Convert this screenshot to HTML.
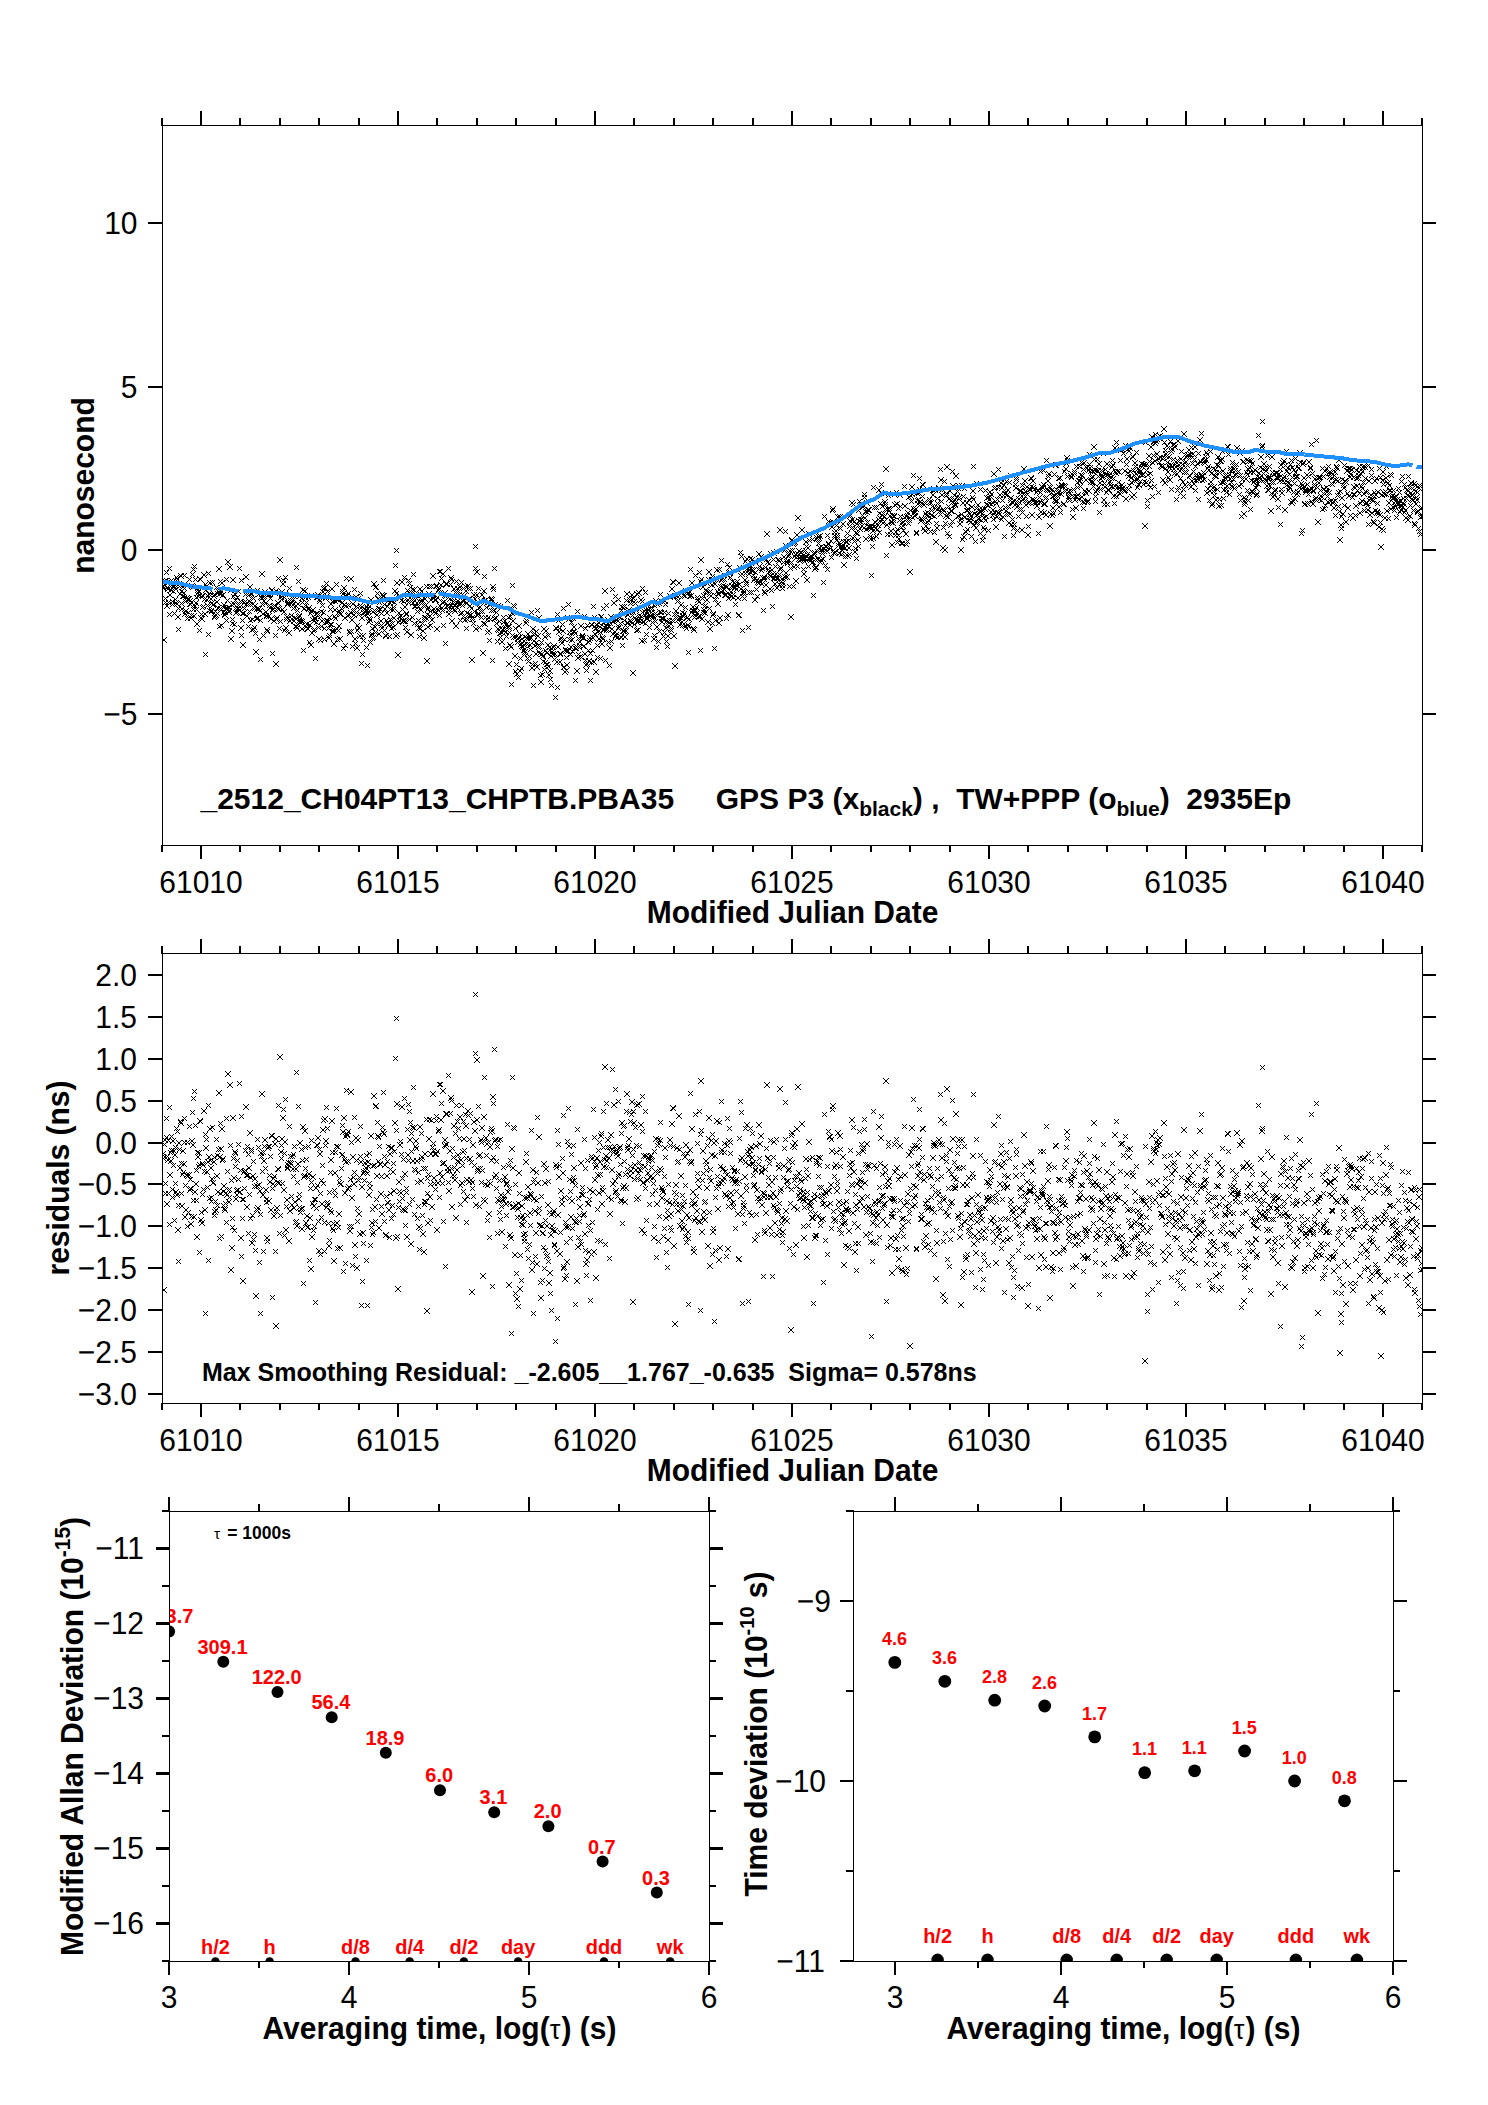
<!DOCTYPE html>
<html lang="en"><head><meta charset="utf-8"><title>GPS P3 vs TW+PPP link comparison</title>
<style>html,body{margin:0;padding:0;background:#fff}svg{display:block}text{font-family:"Liberation Sans", sans-serif}</style>
</head><body>
<svg width="1488" height="2105" viewBox="0 0 1488 2105">
<rect width="1488" height="2105" fill="#fff"/>
<defs>
<clipPath id="c1"><rect x="163" y="126" width="1259" height="719"/></clipPath>
<clipPath id="c2"><rect x="163" y="954" width="1259" height="449"/></clipPath>
<clipPath id="c3"><rect x="170" y="1512" width="539" height="449"/></clipPath>
<clipPath id="c4"><rect x="854" y="1512" width="539" height="449"/></clipPath>
</defs>
<rect x="162.5" y="125.5" width="1260.0" height="720.0" fill="none" stroke="#000" stroke-width="1" shape-rendering="crispEdges"/>
<path d="M162 126L162 118M162 845L162 852M201 126L201 111M201 845L201 859M240 126L240 118M240 845L240 852M280 126L280 118M280 845L280 852M319 126L319 118M319 845L319 852M359 126L359 118M359 845L359 852M398 126L398 111M398 845L398 859M437 126L437 118M437 845L437 852M477 126L477 118M477 845L477 852M516 126L516 118M516 845L516 852M556 126L556 118M556 845L556 852M595 126L595 111M595 845L595 859M634 126L634 118M634 845L634 852M674 126L674 118M674 845L674 852M713 126L713 118M713 845L713 852M753 126L753 118M753 845L753 852M792 126L792 111M792 845L792 859M831 126L831 118M831 845L831 852M871 126L871 118M871 845L871 852M910 126L910 118M910 845L910 852M950 126L950 118M950 845L950 852M989 126L989 111M989 845L989 859M1028 126L1028 118M1028 845L1028 852M1068 126L1068 118M1068 845L1068 852M1107 126L1107 118M1107 845L1107 852M1147 126L1147 118M1147 845L1147 852M1186 126L1186 111M1186 845L1186 859M1225 126L1225 118M1225 845L1225 852M1265 126L1265 118M1265 845L1265 852M1304 126L1304 118M1304 845L1304 852M1344 126L1344 118M1344 845L1344 852M1383 126L1383 111M1383 845L1383 859M1422 126L1422 118M1422 845L1422 852" stroke="#000" stroke-width="2" fill="none" shape-rendering="crispEdges"/>
<text transform="translate(201 892.5) scale(1 1.055)" font-size="30" text-anchor="middle" fill="#000">61010</text>
<text transform="translate(398 892.5) scale(1 1.055)" font-size="30" text-anchor="middle" fill="#000">61015</text>
<text transform="translate(595 892.5) scale(1 1.055)" font-size="30" text-anchor="middle" fill="#000">61020</text>
<text transform="translate(792 892.5) scale(1 1.055)" font-size="30" text-anchor="middle" fill="#000">61025</text>
<text transform="translate(989 892.5) scale(1 1.055)" font-size="30" text-anchor="middle" fill="#000">61030</text>
<text transform="translate(1186 892.5) scale(1 1.055)" font-size="30" text-anchor="middle" fill="#000">61035</text>
<text transform="translate(1383 892.5) scale(1 1.055)" font-size="30" text-anchor="middle" fill="#000">61040</text>
<text transform="translate(792.5 922.7) scale(1 1.055)" font-size="30" font-weight="bold" text-anchor="middle" fill="#000">Modified Julian Date</text>
<text transform="translate(137.5 234) scale(1 1.055)" font-size="30" text-anchor="end" fill="#000">10</text>
<text transform="translate(137.5 398) scale(1 1.055)" font-size="30" text-anchor="end" fill="#000">5</text>
<text transform="translate(137.5 561) scale(1 1.055)" font-size="30" text-anchor="end" fill="#000">0</text>
<text transform="translate(137.5 725) scale(1 1.055)" font-size="30" text-anchor="end" fill="#000">−5</text>
<path d="M163 223L148 223M1422 223L1436 223M163 387L148 387M1422 387L1436 387M163 550L148 550M1422 550L1436 550M163 714L148 714M1422 714L1436 714" stroke="#000" stroke-width="2" fill="none" shape-rendering="crispEdges"/>
<text transform="translate(93.5 485.5) rotate(-90) scale(1 1.055)" font-size="30" font-weight="bold" text-anchor="middle">nanosecond</text>
<rect x="162.5" y="953.5" width="1260.0" height="450.0" fill="none" stroke="#000" stroke-width="1" shape-rendering="crispEdges"/>
<path d="M162 954L162 946M162 1403L162 1410M201 954L201 939M201 1403L201 1417M240 954L240 946M240 1403L240 1410M280 954L280 946M280 1403L280 1410M319 954L319 946M319 1403L319 1410M359 954L359 946M359 1403L359 1410M398 954L398 939M398 1403L398 1417M437 954L437 946M437 1403L437 1410M477 954L477 946M477 1403L477 1410M516 954L516 946M516 1403L516 1410M556 954L556 946M556 1403L556 1410M595 954L595 939M595 1403L595 1417M634 954L634 946M634 1403L634 1410M674 954L674 946M674 1403L674 1410M713 954L713 946M713 1403L713 1410M753 954L753 946M753 1403L753 1410M792 954L792 939M792 1403L792 1417M831 954L831 946M831 1403L831 1410M871 954L871 946M871 1403L871 1410M910 954L910 946M910 1403L910 1410M950 954L950 946M950 1403L950 1410M989 954L989 939M989 1403L989 1417M1028 954L1028 946M1028 1403L1028 1410M1068 954L1068 946M1068 1403L1068 1410M1107 954L1107 946M1107 1403L1107 1410M1147 954L1147 946M1147 1403L1147 1410M1186 954L1186 939M1186 1403L1186 1417M1225 954L1225 946M1225 1403L1225 1410M1265 954L1265 946M1265 1403L1265 1410M1304 954L1304 946M1304 1403L1304 1410M1344 954L1344 946M1344 1403L1344 1410M1383 954L1383 939M1383 1403L1383 1417M1422 954L1422 946M1422 1403L1422 1410" stroke="#000" stroke-width="2" fill="none" shape-rendering="crispEdges"/>
<text transform="translate(201 1450.5) scale(1 1.055)" font-size="30" text-anchor="middle" fill="#000">61010</text>
<text transform="translate(398 1450.5) scale(1 1.055)" font-size="30" text-anchor="middle" fill="#000">61015</text>
<text transform="translate(595 1450.5) scale(1 1.055)" font-size="30" text-anchor="middle" fill="#000">61020</text>
<text transform="translate(792 1450.5) scale(1 1.055)" font-size="30" text-anchor="middle" fill="#000">61025</text>
<text transform="translate(989 1450.5) scale(1 1.055)" font-size="30" text-anchor="middle" fill="#000">61030</text>
<text transform="translate(1186 1450.5) scale(1 1.055)" font-size="30" text-anchor="middle" fill="#000">61035</text>
<text transform="translate(1383 1450.5) scale(1 1.055)" font-size="30" text-anchor="middle" fill="#000">61040</text>
<text transform="translate(792.5 1480.7) scale(1 1.055)" font-size="30" font-weight="bold" text-anchor="middle" fill="#000">Modified Julian Date</text>
<text transform="translate(137 986) scale(1 1.055)" font-size="30" text-anchor="end" fill="#000">2.0</text>
<text transform="translate(137 1028) scale(1 1.055)" font-size="30" text-anchor="end" fill="#000">1.5</text>
<text transform="translate(137 1070) scale(1 1.055)" font-size="30" text-anchor="end" fill="#000">1.0</text>
<text transform="translate(137 1112) scale(1 1.055)" font-size="30" text-anchor="end" fill="#000">0.5</text>
<text transform="translate(137 1154) scale(1 1.055)" font-size="30" text-anchor="end" fill="#000">0.0</text>
<text transform="translate(137 1195) scale(1 1.055)" font-size="30" text-anchor="end" fill="#000">−0.5</text>
<text transform="translate(137 1237) scale(1 1.055)" font-size="30" text-anchor="end" fill="#000">−1.0</text>
<text transform="translate(137 1279) scale(1 1.055)" font-size="30" text-anchor="end" fill="#000">−1.5</text>
<text transform="translate(137 1321) scale(1 1.055)" font-size="30" text-anchor="end" fill="#000">−2.0</text>
<text transform="translate(137 1363) scale(1 1.055)" font-size="30" text-anchor="end" fill="#000">−2.5</text>
<text transform="translate(137 1405) scale(1 1.055)" font-size="30" text-anchor="end" fill="#000">−3.0</text>
<path d="M163 975L148 975M1422 975L1436 975M163 1017L148 1017M1422 1017L1436 1017M163 1059L148 1059M1422 1059L1436 1059M163 1101L148 1101M1422 1101L1436 1101M163 1143L148 1143M1422 1143L1436 1143M163 1184L148 1184M1422 1184L1436 1184M163 1226L148 1226M1422 1226L1436 1226M163 1268L148 1268M1422 1268L1436 1268M163 1310L148 1310M1422 1310L1436 1310M163 1352L148 1352M1422 1352L1436 1352M163 1394L148 1394M1422 1394L1436 1394" stroke="#000" stroke-width="2" fill="none" shape-rendering="crispEdges"/>
<text transform="translate(68.5 1178) rotate(-90) scale(1 1.055)" font-size="30" font-weight="bold" text-anchor="middle">residuals (ns)</text>
<rect x="169.5" y="1511.5" width="540.0" height="450.0" fill="none" stroke="#000" stroke-width="1" shape-rendering="crispEdges"/>
<text transform="translate(169 2007.5) scale(1 1.055)" font-size="30" text-anchor="middle" fill="#000">3</text>
<text transform="translate(349 2007.5) scale(1 1.055)" font-size="30" text-anchor="middle" fill="#000">4</text>
<text transform="translate(529 2007.5) scale(1 1.055)" font-size="30" text-anchor="middle" fill="#000">5</text>
<text transform="translate(709 2007.5) scale(1 1.055)" font-size="30" text-anchor="middle" fill="#000">6</text>
<text transform="translate(144 1559) scale(1 1.055)" font-size="30" text-anchor="end" fill="#000">−11</text>
<text transform="translate(144 1634) scale(1 1.055)" font-size="30" text-anchor="end" fill="#000">−12</text>
<text transform="translate(144 1709) scale(1 1.055)" font-size="30" text-anchor="end" fill="#000">−13</text>
<text transform="translate(144 1784) scale(1 1.055)" font-size="30" text-anchor="end" fill="#000">−14</text>
<text transform="translate(144 1859) scale(1 1.055)" font-size="30" text-anchor="end" fill="#000">−15</text>
<text transform="translate(144 1934) scale(1 1.055)" font-size="30" text-anchor="end" fill="#000">−16</text>
<path d="M169 1512L169 1497M169 1961L169 1975M259 1512L259 1504M259 1961L259 1968M349 1512L349 1497M349 1961L349 1975M439 1512L439 1504M439 1961L439 1968M529 1512L529 1497M529 1961L529 1975M619 1512L619 1504M619 1961L619 1968M709 1512L709 1497M709 1961L709 1975M170 1511L162 1511M709 1511L716 1511M170 1586L162 1586M709 1586L716 1586M170 1661L162 1661M709 1661L716 1661M170 1736L162 1736M709 1736L716 1736M170 1811L162 1811M709 1811L716 1811M170 1886L162 1886M709 1886L716 1886M170 1961L162 1961M709 1961L716 1961" stroke="#000" stroke-width="2" fill="none" shape-rendering="crispEdges"/>
<path d="M170 1548.5L156 1548.5M709 1548.5L723 1548.5M170 1623.5L156 1623.5M709 1623.5L723 1623.5M170 1698.5L156 1698.5M709 1698.5L723 1698.5M170 1773.5L156 1773.5M709 1773.5L723 1773.5M170 1848.5L156 1848.5M709 1848.5L723 1848.5M170 1923.5L156 1923.5M709 1923.5L723 1923.5" stroke="#000" stroke-width="3" fill="none" shape-rendering="crispEdges"/>
<text transform="translate(82.5 1736.5) rotate(-90) scale(1 1.055)" font-size="30" font-weight="bold" text-anchor="middle">Modified Allan Deviation (10<tspan font-size="21" dy="-12">-15</tspan><tspan dy="12">)</tspan></text>
<text transform="translate(439.5 2038.5) scale(1 1.055)" font-size="30" font-weight="bold" text-anchor="middle" fill="#000">Averaging time, log(<tspan font-weight="normal" font-size="27">τ</tspan><tspan dx="1.2">) (s)</tspan></text>
<rect x="853.5" y="1511.5" width="540.0" height="450.0" fill="none" stroke="#000" stroke-width="1" shape-rendering="crispEdges"/>
<text transform="translate(895 2007.5) scale(1 1.055)" font-size="30" text-anchor="middle" fill="#000">3</text>
<text transform="translate(1061 2007.5) scale(1 1.055)" font-size="30" text-anchor="middle" fill="#000">4</text>
<text transform="translate(1227 2007.5) scale(1 1.055)" font-size="30" text-anchor="middle" fill="#000">5</text>
<text transform="translate(1393 2007.5) scale(1 1.055)" font-size="30" text-anchor="middle" fill="#000">6</text>
<text transform="translate(831 1612) scale(1 1.055)" font-size="30" text-anchor="end" fill="#000">−9</text>
<text transform="translate(826 1792) scale(1 1.055)" font-size="30" text-anchor="end" fill="#000">−10</text>
<text transform="translate(825 1972) scale(1 1.055)" font-size="30" text-anchor="end" fill="#000">−11</text>
<path d="M895 1512L895 1497M895 1961L895 1975M978 1512L978 1504M978 1961L978 1968M1061 1512L1061 1497M1061 1961L1061 1975M1144 1512L1144 1504M1144 1961L1144 1968M1227 1512L1227 1497M1227 1961L1227 1975M1310 1512L1310 1504M1310 1961L1310 1968M1393 1512L1393 1497M1393 1961L1393 1975M854 1511L846 1511M1393 1511L1400 1511M854 1601L840 1601M1393 1601L1407 1601M854 1691L846 1691M1393 1691L1400 1691M854 1781L840 1781M1393 1781L1407 1781M854 1871L846 1871M1393 1871L1400 1871M854 1961L840 1961M1393 1961L1407 1961" stroke="#000" stroke-width="2" fill="none" shape-rendering="crispEdges"/>
<text transform="translate(766.5 1734) rotate(-90) scale(1 1.055)" font-size="30" font-weight="bold" text-anchor="middle">Time deviation (10<tspan font-size="20" dy="-12">-10</tspan><tspan dy="12"> s)</tspan></text>
<text transform="translate(1123.5 2038.5) scale(1 1.055)" font-size="30" font-weight="bold" text-anchor="middle" fill="#000">Averaging time, log(<tspan font-weight="normal" font-size="27">τ</tspan><tspan dx="1.2">) (s)</tspan></text>
<g clip-path="url(#c1)">
<path d="M160 584l5 5m-5 0l5 -5M161 586l5 5m-5 0l5 -5M161 584l5 5m-5 0l5 -5M161 637l6 6m-6 0l6 -6M162 580l5 5m-5 0l5 -5M162 578l6 6m-6 0l6 -6M163 596l5 5m-5 0l5 -5M163 600l5 5m-5 0l5 -5M164 570l5 5m-5 0l5 -5M164 578l5 5m-5 0l5 -5M164 603l6 6m-6 0l6 -6M165 585l5 5m-5 0l5 -5M165 586l6 6m-6 0l6 -6M166 600l5 5m-5 0l5 -5M166 579l5 5m-5 0l5 -5M167 612l5 5m-5 0l5 -5M167 566l5 5m-5 0l5 -5M167 592l6 6m-6 0l6 -6M168 584l5 5m-5 0l5 -5M168 587l6 6m-6 0l6 -6M169 583l5 5m-5 0l5 -5M169 578l5 5m-5 0l5 -5M170 599l5 5m-5 0l5 -5M170 602l5 5m-5 0l5 -5M170 579l6 6m-6 0l6 -6M171 589l5 5m-5 0l5 -5M171 583l6 6m-6 0l6 -6M172 611l5 5m-5 0l5 -5M172 585l6 6m-6 0l6 -6M173 597l5 5m-5 0l5 -5M173 583l5 5m-5 0l5 -5M173 600l6 6m-6 0l6 -6M174 575l5 5m-5 0l5 -5M174 601l6 6m-6 0l6 -6M175 577l5 5m-5 0l5 -5M175 614l6 6m-6 0l6 -6M176 627l5 5m-5 0l5 -5M176 606l5 5m-5 0l5 -5M176 581l6 6m-6 0l6 -6M177 584l5 5m-5 0l5 -5M177 591l6 6m-6 0l6 -6M178 573l5 5m-5 0l5 -5M178 573l6 6m-6 0l6 -6M179 601l5 5m-5 0l5 -5M179 589l5 5m-5 0l5 -5M179 606l6 6m-6 0l6 -6M180 594l5 5m-5 0l5 -5M180 584l6 6m-6 0l6 -6M181 594l5 5m-5 0l5 -5M181 590l6 6m-6 0l6 -6M182 582l5 5m-5 0l5 -5M182 573l5 5m-5 0l5 -5M182 611l6 6m-6 0l6 -6M183 599l5 5m-5 0l5 -5M183 608l6 6m-6 0l6 -6M184 596l5 5m-5 0l5 -5M184 595l6 6m-6 0l6 -6M185 583l5 5m-5 0l5 -5M185 616l5 5m-5 0l5 -5M185 596l6 6m-6 0l6 -6M186 610l5 5m-5 0l5 -5M186 596l6 6m-6 0l6 -6M187 577l5 5m-5 0l5 -5M187 601l6 6m-6 0l6 -6M188 598l5 5m-5 0l5 -5M188 602l5 5m-5 0l5 -5M188 615l6 6m-6 0l6 -6M189 613l5 5m-5 0l5 -5M189 583l6 6m-6 0l6 -6M190 572l5 5m-5 0l5 -5M190 584l6 6m-6 0l6 -6M191 567l5 5m-5 0l5 -5M191 607l5 5m-5 0l5 -5M191 613l6 6m-6 0l6 -6M192 564l5 5m-5 0l5 -5M192 603l6 6m-6 0l6 -6M193 577l5 5m-5 0l5 -5M193 600l6 6m-6 0l6 -6M194 595l5 5m-5 0l5 -5M194 607l5 5m-5 0l5 -5M194 621l6 6m-6 0l6 -6M195 588l5 5m-5 0l5 -5M195 590l6 6m-6 0l6 -6M196 594l5 5m-5 0l5 -5M196 588l6 6m-6 0l6 -6M197 628l5 5m-5 0l5 -5M197 593l5 5m-5 0l5 -5M197 576l6 6m-6 0l6 -6M198 577l5 5m-5 0l5 -5M198 615l6 6m-6 0l6 -6M199 612l5 5m-5 0l5 -5M199 616l6 6m-6 0l6 -6M200 605l5 5m-5 0l5 -5M200 593l5 5m-5 0l5 -5M200 593l6 6m-6 0l6 -6M201 604l5 5m-5 0l5 -5M201 572l6 6m-6 0l6 -6M202 597l5 5m-5 0l5 -5M202 611l6 6m-6 0l6 -6M203 652l5 5m-5 0l5 -5M203 582l5 5m-5 0l5 -5M203 587l6 6m-6 0l6 -6M204 584l5 5m-5 0l5 -5M204 597l6 6m-6 0l6 -6M205 603l5 5m-5 0l5 -5M205 593l6 6m-6 0l6 -6M206 632l5 5m-5 0l5 -5M206 571l5 5m-5 0l5 -5M206 591l6 6m-6 0l6 -6M207 608l5 5m-5 0l5 -5M207 580l6 6m-6 0l6 -6M208 593l5 5m-5 0l5 -5M208 596l6 6m-6 0l6 -6M209 608l5 5m-5 0l5 -5M209 609l5 5m-5 0l5 -5M209 600l6 6m-6 0l6 -6M210 580l5 5m-5 0l5 -5M210 602l6 6m-6 0l6 -6M211 602l5 5m-5 0l5 -5M211 593l6 6m-6 0l6 -6M212 592l5 5m-5 0l5 -5M212 615l5 5m-5 0l5 -5M212 613l6 6m-6 0l6 -6M213 609l5 5m-5 0l5 -5M213 612l6 6m-6 0l6 -6M214 585l5 5m-5 0l5 -5M214 599l6 6m-6 0l6 -6M215 611l5 5m-5 0l5 -5M215 591l5 5m-5 0l5 -5M215 605l6 6m-6 0l6 -6M216 589l5 5m-5 0l5 -5M216 566l6 6m-6 0l6 -6M217 624l5 5m-5 0l5 -5M217 591l6 6m-6 0l6 -6M218 579l5 5m-5 0l5 -5M218 606l5 5m-5 0l5 -5M218 588l6 6m-6 0l6 -6M219 623l5 5m-5 0l5 -5M219 580l6 6m-6 0l6 -6M220 593l5 5m-5 0l5 -5M220 592l6 6m-6 0l6 -6M221 610l5 5m-5 0l5 -5M221 605l5 5m-5 0l5 -5M221 602l6 6m-6 0l6 -6M222 612l5 5m-5 0l5 -5M222 612l6 6m-6 0l6 -6M223 610l5 5m-5 0l5 -5M223 606l6 6m-6 0l6 -6M224 577l5 5m-5 0l5 -5M224 618l5 5m-5 0l5 -5M224 606l6 6m-6 0l6 -6M225 598l5 5m-5 0l5 -5M225 559l6 6m-6 0l6 -6M226 605l5 5m-5 0l5 -5M226 609l6 6m-6 0l6 -6M227 605l5 5m-5 0l5 -5M227 608l5 5m-5 0l5 -5M227 564l6 6m-6 0l6 -6M228 588l5 5m-5 0l5 -5M228 636l6 6m-6 0l6 -6M229 602l5 5m-5 0l5 -5M229 628l6 6m-6 0l6 -6M230 617l5 5m-5 0l5 -5M230 621l5 5m-5 0l5 -5M230 577l6 6m-6 0l6 -6M231 594l5 5m-5 0l5 -5M231 601l6 6m-6 0l6 -6M232 622l5 5m-5 0l5 -5M232 591l6 6m-6 0l6 -6M233 592l5 5m-5 0l5 -5M233 598l5 5m-5 0l5 -5M233 610l6 6m-6 0l6 -6M234 607l5 5m-5 0l5 -5M234 609l6 6m-6 0l6 -6M235 595l5 5m-5 0l5 -5M235 606l6 6m-6 0l6 -6M236 589l5 5m-5 0l5 -5M236 603l5 5m-5 0l5 -5M237 566l5 5m-5 0l5 -5M237 608l5 5m-5 0l5 -5M237 607l6 6m-6 0l6 -6M238 599l5 5m-5 0l5 -5M238 625l6 6m-6 0l6 -6M239 578l5 5m-5 0l5 -5M239 633l5 5m-5 0l5 -5M240 618l5 5m-5 0l5 -5M240 611l5 5m-5 0l5 -5M240 642l6 6m-6 0l6 -6M241 611l5 5m-5 0l5 -5M241 600l6 6m-6 0l6 -6M242 606l5 5m-5 0l5 -5M242 600l5 5m-5 0l5 -5M243 592l5 5m-5 0l5 -5M243 599l5 5m-5 0l5 -5M243 574l6 6m-6 0l6 -6M244 602l5 5m-5 0l5 -5M244 613l6 6m-6 0l6 -6M245 590l5 5m-5 0l5 -5M245 601l5 5m-5 0l5 -5M246 624l5 5m-5 0l5 -5M246 593l5 5m-5 0l5 -5M246 598l6 6m-6 0l6 -6M247 609l5 5m-5 0l5 -5M247 584l6 6m-6 0l6 -6M248 618l5 5m-5 0l5 -5M248 602l5 5m-5 0l5 -5M249 592l5 5m-5 0l5 -5M249 591l5 5m-5 0l5 -5M249 627l6 6m-6 0l6 -6M250 617l5 5m-5 0l5 -5M250 601l6 6m-6 0l6 -6M251 627l5 5m-5 0l5 -5M251 596l5 5m-5 0l5 -5M252 606l5 5m-5 0l5 -5M252 625l5 5m-5 0l5 -5M252 603l6 6m-6 0l6 -6M253 631l5 5m-5 0l5 -5M253 649l6 6m-6 0l6 -6M254 616l5 5m-5 0l5 -5M254 606l6 6m-6 0l6 -6M255 588l5 5m-5 0l5 -5M255 616l5 5m-5 0l5 -5M255 615l6 6m-6 0l6 -6M256 592l5 5m-5 0l5 -5M256 606l6 6m-6 0l6 -6M257 637l5 5m-5 0l5 -5M257 608l6 6m-6 0l6 -6M258 657l5 5m-5 0l5 -5M258 618l5 5m-5 0l5 -5M258 594l6 6m-6 0l6 -6M259 596l5 5m-5 0l5 -5M259 571l6 6m-6 0l6 -6M260 602l5 5m-5 0l5 -5M260 611l6 6m-6 0l6 -6M261 595l5 5m-5 0l5 -5M261 633l5 5m-5 0l5 -5M261 598l6 6m-6 0l6 -6M262 592l5 5m-5 0l5 -5M262 589l6 6m-6 0l6 -6M263 601l5 5m-5 0l5 -5M263 609l6 6m-6 0l6 -6M264 613l5 5m-5 0l5 -5M264 614l5 5m-5 0l5 -5M264 627l6 6m-6 0l6 -6M265 629l5 5m-5 0l5 -5M265 592l6 6m-6 0l6 -6M266 592l5 5m-5 0l5 -5M266 613l6 6m-6 0l6 -6M267 592l5 5m-5 0l5 -5M267 603l5 5m-5 0l5 -5M267 605l6 6m-6 0l6 -6M268 596l5 5m-5 0l5 -5M268 616l6 6m-6 0l6 -6M269 588l5 5m-5 0l5 -5M269 587l6 6m-6 0l6 -6M270 608l5 5m-5 0l5 -5M270 651l5 5m-5 0l5 -5M270 606l6 6m-6 0l6 -6M271 604l5 5m-5 0l5 -5M271 618l6 6m-6 0l6 -6M272 603l5 5m-5 0l5 -5M272 590l6 6m-6 0l6 -6M273 633l5 5m-5 0l5 -5M273 661l6 6m-6 0l6 -6M273 588l6 6m-6 0l6 -6M274 617l5 5m-5 0l5 -5M274 615l6 6m-6 0l6 -6M275 606l5 5m-5 0l5 -5M275 600l6 6m-6 0l6 -6M276 601l5 5m-5 0l5 -5M276 576l5 5m-5 0l5 -5M276 606l6 6m-6 0l6 -6M277 626l5 5m-5 0l5 -5M277 557l6 6m-6 0l6 -6M278 619l5 5m-5 0l5 -5M278 594l6 6m-6 0l6 -6M279 592l5 5m-5 0l5 -5M279 597l5 5m-5 0l5 -5M279 589l6 6m-6 0l6 -6M280 607l5 5m-5 0l5 -5M280 581l6 6m-6 0l6 -6M281 578l5 5m-5 0l5 -5M281 609l6 6m-6 0l6 -6M282 595l5 5m-5 0l5 -5M282 628l5 5m-5 0l5 -5M282 591l6 6m-6 0l6 -6M283 575l5 5m-5 0l5 -5M283 625l6 6m-6 0l6 -6M284 617l5 5m-5 0l5 -5M284 614l6 6m-6 0l6 -6M285 602l5 5m-5 0l5 -5M285 601l5 5m-5 0l5 -5M285 600l6 6m-6 0l6 -6M286 600l5 5m-5 0l5 -5M286 630l6 6m-6 0l6 -6M287 586l5 5m-5 0l5 -5M287 618l6 6m-6 0l6 -6M288 598l5 5m-5 0l5 -5M288 600l5 5m-5 0l5 -5M288 600l6 6m-6 0l6 -6M289 613l5 5m-5 0l5 -5M289 616l6 6m-6 0l6 -6M290 598l5 5m-5 0l5 -5M290 602l6 6m-6 0l6 -6M291 606l5 5m-5 0l5 -5M291 597l5 5m-5 0l5 -5M291 618l6 6m-6 0l6 -6M292 594l5 5m-5 0l5 -5M292 615l6 6m-6 0l6 -6M293 624l5 5m-5 0l5 -5M293 603l6 6m-6 0l6 -6M294 565l5 5m-5 0l5 -5M294 624l5 5m-5 0l5 -5M294 625l6 6m-6 0l6 -6M295 608l5 5m-5 0l5 -5M295 601l6 6m-6 0l6 -6M296 579l5 5m-5 0l5 -5M296 614l6 6m-6 0l6 -6M297 613l5 5m-5 0l5 -5M297 618l5 5m-5 0l5 -5M297 593l6 6m-6 0l6 -6M298 620l5 5m-5 0l5 -5M298 618l6 6m-6 0l6 -6M299 596l5 5m-5 0l5 -5M299 626l6 6m-6 0l6 -6M300 600l5 5m-5 0l5 -5M300 619l5 5m-5 0l5 -5M300 587l6 6m-6 0l6 -6M301 648l5 5m-5 0l5 -5M301 606l6 6m-6 0l6 -6M302 606l5 5m-5 0l5 -5M302 588l6 6m-6 0l6 -6M303 603l5 5m-5 0l5 -5M303 595l5 5m-5 0l5 -5M303 624l6 6m-6 0l6 -6M304 600l5 5m-5 0l5 -5M304 621l6 6m-6 0l6 -6M305 626l5 5m-5 0l5 -5M305 626l6 6m-6 0l6 -6M306 595l5 5m-5 0l5 -5M306 607l5 5m-5 0l5 -5M306 605l6 6m-6 0l6 -6M307 640l5 5m-5 0l5 -5M307 622l6 6m-6 0l6 -6M308 611l5 5m-5 0l5 -5M308 642l6 6m-6 0l6 -6M309 609l5 5m-5 0l5 -5M309 593l5 5m-5 0l5 -5M309 630l6 6m-6 0l6 -6M310 617l5 5m-5 0l5 -5M310 607l6 6m-6 0l6 -6M311 628l5 5m-5 0l5 -5M311 618l6 6m-6 0l6 -6M312 627l5 5m-5 0l5 -5M312 616l5 5m-5 0l5 -5M313 656l5 5m-5 0l5 -5M313 616l5 5m-5 0l5 -5M313 611l6 6m-6 0l6 -6M314 620l5 5m-5 0l5 -5M314 594l6 6m-6 0l6 -6M315 595l5 5m-5 0l5 -5M315 611l5 5m-5 0l5 -5M315 592l6 6m-6 0l6 -6M316 625l5 5m-5 0l5 -5M316 636l6 6m-6 0l6 -6M317 597l5 5m-5 0l5 -5M317 598l6 6m-6 0l6 -6M318 638l5 5m-5 0l5 -5M318 614l5 5m-5 0l5 -5M319 609l5 5m-5 0l5 -5M319 624l5 5m-5 0l5 -5M319 618l6 6m-6 0l6 -6M320 603l5 5m-5 0l5 -5M320 589l6 6m-6 0l6 -6M321 586l5 5m-5 0l5 -5M321 610l5 5m-5 0l5 -5M322 626l5 5m-5 0l5 -5M322 637l5 5m-5 0l5 -5M322 585l6 6m-6 0l6 -6M323 596l5 5m-5 0l5 -5M323 594l6 6m-6 0l6 -6M324 581l5 5m-5 0l5 -5M324 620l5 5m-5 0l5 -5M325 589l5 5m-5 0l5 -5M325 618l5 5m-5 0l5 -5M325 619l6 6m-6 0l6 -6M326 626l5 5m-5 0l5 -5M326 635l6 6m-6 0l6 -6M327 633l5 5m-5 0l5 -5M327 615l5 5m-5 0l5 -5M328 607l5 5m-5 0l5 -5M328 622l5 5m-5 0l5 -5M328 601l6 6m-6 0l6 -6M329 622l5 5m-5 0l5 -5M329 586l6 6m-6 0l6 -6M330 629l5 5m-5 0l5 -5M330 599l5 5m-5 0l5 -5M331 629l5 5m-5 0l5 -5M331 627l5 5m-5 0l5 -5M331 641l6 6m-6 0l6 -6M332 614l5 5m-5 0l5 -5M332 607l6 6m-6 0l6 -6M333 616l5 5m-5 0l5 -5M333 599l5 5m-5 0l5 -5M334 582l5 5m-5 0l5 -5M334 597l5 5m-5 0l5 -5M334 626l6 6m-6 0l6 -6M335 637l5 5m-5 0l5 -5M335 597l6 6m-6 0l6 -6M336 628l5 5m-5 0l5 -5M336 623l6 6m-6 0l6 -6M337 611l5 5m-5 0l5 -5M337 609l5 5m-5 0l5 -5M337 636l6 6m-6 0l6 -6M338 612l5 5m-5 0l5 -5M338 611l6 6m-6 0l6 -6M339 606l5 5m-5 0l5 -5M339 600l6 6m-6 0l6 -6M340 589l5 5m-5 0l5 -5M340 600l5 5m-5 0l5 -5M340 591l6 6m-6 0l6 -6M341 646l5 5m-5 0l5 -5M341 585l6 6m-6 0l6 -6M342 602l5 5m-5 0l5 -5M342 615l6 6m-6 0l6 -6M343 643l5 5m-5 0l5 -5M343 593l5 5m-5 0l5 -5M343 603l6 6m-6 0l6 -6M344 576l5 5m-5 0l5 -5M344 592l6 6m-6 0l6 -6M345 593l5 5m-5 0l5 -5M345 613l6 6m-6 0l6 -6M346 591l5 5m-5 0l5 -5M346 603l5 5m-5 0l5 -5M346 612l6 6m-6 0l6 -6M347 629l5 5m-5 0l5 -5M347 630l6 6m-6 0l6 -6M348 610l5 5m-5 0l5 -5M348 576l6 6m-6 0l6 -6M349 596l5 5m-5 0l5 -5M349 629l5 5m-5 0l5 -5M349 617l6 6m-6 0l6 -6M350 644l5 5m-5 0l5 -5M350 601l6 6m-6 0l6 -6M351 609l5 5m-5 0l5 -5M351 612l6 6m-6 0l6 -6M352 587l5 5m-5 0l5 -5M352 608l5 5m-5 0l5 -5M352 636l6 6m-6 0l6 -6M353 641l5 5m-5 0l5 -5M353 594l6 6m-6 0l6 -6M354 604l5 5m-5 0l5 -5M354 645l6 6m-6 0l6 -6M355 623l5 5m-5 0l5 -5M355 628l5 5m-5 0l5 -5M355 596l6 6m-6 0l6 -6M356 612l5 5m-5 0l5 -5M356 625l6 6m-6 0l6 -6M357 611l5 5m-5 0l5 -5M357 633l6 6m-6 0l6 -6M358 591l5 5m-5 0l5 -5M358 603l5 5m-5 0l5 -5M358 605l6 6m-6 0l6 -6M359 661l5 5m-5 0l5 -5M359 615l6 6m-6 0l6 -6M360 652l5 5m-5 0l5 -5M360 633l6 6m-6 0l6 -6M361 610l5 5m-5 0l5 -5M361 638l5 5m-5 0l5 -5M361 610l6 6m-6 0l6 -6M362 613l5 5m-5 0l5 -5M362 606l6 6m-6 0l6 -6M363 610l5 5m-5 0l5 -5M363 608l6 6m-6 0l6 -6M364 604l5 5m-5 0l5 -5M364 645l5 5m-5 0l5 -5M365 663l5 5m-5 0l5 -5M365 611l5 5m-5 0l5 -5M365 606l6 6m-6 0l6 -6M366 609l5 5m-5 0l5 -5M366 619l6 6m-6 0l6 -6M367 616l5 5m-5 0l5 -5M367 604l5 5m-5 0l5 -5M367 617l6 6m-6 0l6 -6M368 640l5 5m-5 0l5 -5M368 597l6 6m-6 0l6 -6M369 633l5 5m-5 0l5 -5M369 631l6 6m-6 0l6 -6M370 636l5 5m-5 0l5 -5M370 626l5 5m-5 0l5 -5M370 609l6 6m-6 0l6 -6M371 635l5 5m-5 0l5 -5M371 581l6 6m-6 0l6 -6M372 608l5 5m-5 0l5 -5M372 624l6 6m-6 0l6 -6M373 630l5 5m-5 0l5 -5M373 585l5 5m-5 0l5 -5M373 584l6 6m-6 0l6 -6M374 621l5 5m-5 0l5 -5M374 612l6 6m-6 0l6 -6M375 591l5 5m-5 0l5 -5M375 596l6 6m-6 0l6 -6M376 606l5 5m-5 0l5 -5M376 596l5 5m-5 0l5 -5M376 631l6 6m-6 0l6 -6M377 600l5 5m-5 0l5 -5M377 606l6 6m-6 0l6 -6M378 607l5 5m-5 0l5 -5M378 618l6 6m-6 0l6 -6M379 623l5 5m-5 0l5 -5M379 611l5 5m-5 0l5 -5M379 625l6 6m-6 0l6 -6M380 592l5 5m-5 0l5 -5M380 593l6 6m-6 0l6 -6M381 578l5 5m-5 0l5 -5M381 593l6 6m-6 0l6 -6M382 628l5 5m-5 0l5 -5M382 602l5 5m-5 0l5 -5M382 606l6 6m-6 0l6 -6M383 633l5 5m-5 0l5 -5M383 633l6 6m-6 0l6 -6M384 618l5 5m-5 0l5 -5M384 610l6 6m-6 0l6 -6M385 604l5 5m-5 0l5 -5M385 620l5 5m-5 0l5 -5M385 620l6 6m-6 0l6 -6M386 598l5 5m-5 0l5 -5M386 622l6 6m-6 0l6 -6M387 634l5 5m-5 0l5 -5M387 600l6 6m-6 0l6 -6M388 617l5 5m-5 0l5 -5M388 607l5 5m-5 0l5 -5M388 598l6 6m-6 0l6 -6M389 626l5 5m-5 0l5 -5M389 598l6 6m-6 0l6 -6M390 621l5 5m-5 0l5 -5M390 607l6 6m-6 0l6 -6M391 605l5 5m-5 0l5 -5M391 625l5 5m-5 0l5 -5M391 615l6 6m-6 0l6 -6M392 600l5 5m-5 0l5 -5M392 588l6 6m-6 0l6 -6M393 563l5 5m-5 0l5 -5M393 633l6 6m-6 0l6 -6M394 548l5 5m-5 0l5 -5M394 591l5 5m-5 0l5 -5M394 580l6 6m-6 0l6 -6M395 632l5 5m-5 0l5 -5M395 652l6 6m-6 0l6 -6M396 620l5 5m-5 0l5 -5M396 610l6 6m-6 0l6 -6M397 618l5 5m-5 0l5 -5M397 614l5 5m-5 0l5 -5M397 595l6 6m-6 0l6 -6M398 594l5 5m-5 0l5 -5M398 613l6 6m-6 0l6 -6M399 598l5 5m-5 0l5 -5M399 579l6 6m-6 0l6 -6M400 615l5 5m-5 0l5 -5M400 607l5 5m-5 0l5 -5M400 618l6 6m-6 0l6 -6M401 599l5 5m-5 0l5 -5M401 618l6 6m-6 0l6 -6M402 575l5 5m-5 0l5 -5M402 604l6 6m-6 0l6 -6M403 619l5 5m-5 0l5 -5M403 625l5 5m-5 0l5 -5M404 612l5 5m-5 0l5 -5M404 611l5 5m-5 0l5 -5M404 629l6 6m-6 0l6 -6M405 588l5 5m-5 0l5 -5M405 597l6 6m-6 0l6 -6M406 578l5 5m-5 0l5 -5M406 600l5 5m-5 0l5 -5M407 617l5 5m-5 0l5 -5M407 581l5 5m-5 0l5 -5M407 591l6 6m-6 0l6 -6M408 585l5 5m-5 0l5 -5M408 632l6 6m-6 0l6 -6M409 590l5 5m-5 0l5 -5M409 597l5 5m-5 0l5 -5M410 615l5 5m-5 0l5 -5M410 587l5 5m-5 0l5 -5M410 600l6 6m-6 0l6 -6M411 572l5 5m-5 0l5 -5M411 587l6 6m-6 0l6 -6M412 621l5 5m-5 0l5 -5M412 604l5 5m-5 0l5 -5M413 595l5 5m-5 0l5 -5M413 604l5 5m-5 0l5 -5M413 592l6 6m-6 0l6 -6M414 596l5 5m-5 0l5 -5M414 600l6 6m-6 0l6 -6M415 609l5 5m-5 0l5 -5M415 622l5 5m-5 0l5 -5M416 618l5 5m-5 0l5 -5M416 604l5 5m-5 0l5 -5M416 625l6 6m-6 0l6 -6M417 634l5 5m-5 0l5 -5M417 586l6 6m-6 0l6 -6M418 626l5 5m-5 0l5 -5M418 607l6 6m-6 0l6 -6M419 589l5 5m-5 0l5 -5M419 599l5 5m-5 0l5 -5M419 597l6 6m-6 0l6 -6M420 621l5 5m-5 0l5 -5M420 628l6 6m-6 0l6 -6M421 603l5 5m-5 0l5 -5M421 635l6 6m-6 0l6 -6M422 617l5 5m-5 0l5 -5M422 615l5 5m-5 0l5 -5M422 596l6 6m-6 0l6 -6M423 603l5 5m-5 0l5 -5M423 615l6 6m-6 0l6 -6M424 584l5 5m-5 0l5 -5M424 658l6 6m-6 0l6 -6M425 607l5 5m-5 0l5 -5M425 612l5 5m-5 0l5 -5M425 624l6 6m-6 0l6 -6M426 605l5 5m-5 0l5 -5M426 591l6 6m-6 0l6 -6M427 584l5 5m-5 0l5 -5M427 613l6 6m-6 0l6 -6M428 609l5 5m-5 0l5 -5M428 623l5 5m-5 0l5 -5M428 597l6 6m-6 0l6 -6M429 584l5 5m-5 0l5 -5M429 617l6 6m-6 0l6 -6M430 595l5 5m-5 0l5 -5M430 573l6 6m-6 0l6 -6M431 593l5 5m-5 0l5 -5M431 596l5 5m-5 0l5 -5M431 606l6 6m-6 0l6 -6M432 609l5 5m-5 0l5 -5M432 597l6 6m-6 0l6 -6M433 611l5 5m-5 0l5 -5M433 597l6 6m-6 0l6 -6M434 583l5 5m-5 0l5 -5M434 584l5 5m-5 0l5 -5M434 626l6 6m-6 0l6 -6M435 595l5 5m-5 0l5 -5M435 607l6 6m-6 0l6 -6M436 588l5 5m-5 0l5 -5M436 586l6 6m-6 0l6 -6M437 569l5 5m-5 0l5 -5M437 613l5 5m-5 0l5 -5M437 603l6 6m-6 0l6 -6M438 569l5 5m-5 0l5 -5M438 582l6 6m-6 0l6 -6M439 576l5 5m-5 0l5 -5M439 605l6 6m-6 0l6 -6M440 608l5 5m-5 0l5 -5M440 600l5 5m-5 0l5 -5M440 571l6 6m-6 0l6 -6M441 623l5 5m-5 0l5 -5M441 599l6 6m-6 0l6 -6M442 593l5 5m-5 0l5 -5M442 590l6 6m-6 0l6 -6M443 641l5 5m-5 0l5 -5M443 594l5 5m-5 0l5 -5M443 581l6 6m-6 0l6 -6M444 593l5 5m-5 0l5 -5M444 581l6 6m-6 0l6 -6M445 604l5 5m-5 0l5 -5M445 602l6 6m-6 0l6 -6M446 566l5 5m-5 0l5 -5M446 608l5 5m-5 0l5 -5M446 611l6 6m-6 0l6 -6M447 604l5 5m-5 0l5 -5M447 596l6 6m-6 0l6 -6M448 582l5 5m-5 0l5 -5M448 575l6 6m-6 0l6 -6M449 577l5 5m-5 0l5 -5M449 603l5 5m-5 0l5 -5M449 618l6 6m-6 0l6 -6M450 596l5 5m-5 0l5 -5M450 605l6 6m-6 0l6 -6M451 599l5 5m-5 0l5 -5M451 586l6 6m-6 0l6 -6M452 603l5 5m-5 0l5 -5M452 607l5 5m-5 0l5 -5M452 608l6 6m-6 0l6 -6M453 590l5 5m-5 0l5 -5M453 623l6 6m-6 0l6 -6M454 579l5 5m-5 0l5 -5M454 604l6 6m-6 0l6 -6M455 586l5 5m-5 0l5 -5M455 601l5 5m-5 0l5 -5M455 598l6 6m-6 0l6 -6M456 589l5 5m-5 0l5 -5M456 601l6 6m-6 0l6 -6M457 592l5 5m-5 0l5 -5M457 584l6 6m-6 0l6 -6M458 611l5 5m-5 0l5 -5M458 618l5 5m-5 0l5 -5M458 601l6 6m-6 0l6 -6M459 580l5 5m-5 0l5 -5M459 610l6 6m-6 0l6 -6M460 603l5 5m-5 0l5 -5M460 598l6 6m-6 0l6 -6M461 614l5 5m-5 0l5 -5M461 586l5 5m-5 0l5 -5M461 593l6 6m-6 0l6 -6M462 598l5 5m-5 0l5 -5M462 617l6 6m-6 0l6 -6M463 584l5 5m-5 0l5 -5M463 588l6 6m-6 0l6 -6M464 626l5 5m-5 0l5 -5M464 601l5 5m-5 0l5 -5M464 610l6 6m-6 0l6 -6M465 617l5 5m-5 0l5 -5M465 583l6 6m-6 0l6 -6M466 586l5 5m-5 0l5 -5M466 611l6 6m-6 0l6 -6M467 596l5 5m-5 0l5 -5M467 613l5 5m-5 0l5 -5M467 603l6 6m-6 0l6 -6M468 586l5 5m-5 0l5 -5M468 612l6 6m-6 0l6 -6M469 606l5 5m-5 0l5 -5M469 657l6 6m-6 0l6 -6M470 617l5 5m-5 0l5 -5M470 615l5 5m-5 0l5 -5M470 600l6 6m-6 0l6 -6M471 621l5 5m-5 0l5 -5M471 592l6 6m-6 0l6 -6M472 609l5 5m-5 0l5 -5M472 596l6 6m-6 0l6 -6M473 566l5 5m-5 0l5 -5M473 544l5 5m-5 0l5 -5M473 626l6 6m-6 0l6 -6M474 569l6 6m-6 0l6 -6M474 592l6 6m-6 0l6 -6M475 613l5 5m-5 0l5 -5M475 611l6 6m-6 0l6 -6M476 611l5 5m-5 0l5 -5M476 586l5 5m-5 0l5 -5M476 605l6 6m-6 0l6 -6M477 625l5 5m-5 0l5 -5M477 604l6 6m-6 0l6 -6M478 609l5 5m-5 0l5 -5M478 598l6 6m-6 0l6 -6M479 615l5 5m-5 0l5 -5M479 599l5 5m-5 0l5 -5M479 592l6 6m-6 0l6 -6M480 609l5 5m-5 0l5 -5M480 650l6 6m-6 0l6 -6M481 621l5 5m-5 0l5 -5M481 588l6 6m-6 0l6 -6M482 598l5 5m-5 0l5 -5M482 574l5 5m-5 0l5 -5M482 621l6 6m-6 0l6 -6M483 615l5 5m-5 0l5 -5M483 597l6 6m-6 0l6 -6M484 605l5 5m-5 0l5 -5M484 600l6 6m-6 0l6 -6M485 630l5 5m-5 0l5 -5M485 617l5 5m-5 0l5 -5M486 600l5 5m-5 0l5 -5M486 615l5 5m-5 0l5 -5M486 628l6 6m-6 0l6 -6M487 638l5 5m-5 0l5 -5M487 602l6 6m-6 0l6 -6M488 617l5 5m-5 0l5 -5M488 597l5 5m-5 0l5 -5M489 596l5 5m-5 0l5 -5M489 608l5 5m-5 0l5 -5M489 597l6 6m-6 0l6 -6M490 658l5 5m-5 0l5 -5M490 584l6 6m-6 0l6 -6M491 587l5 5m-5 0l5 -5M491 608l5 5m-5 0l5 -5M492 616l5 5m-5 0l5 -5M492 566l5 5m-5 0l5 -5M492 602l6 6m-6 0l6 -6M493 602l5 5m-5 0l5 -5M493 615l6 6m-6 0l6 -6M494 610l5 5m-5 0l5 -5M494 621l5 5m-5 0l5 -5M495 605l5 5m-5 0l5 -5M495 639l5 5m-5 0l5 -5M495 626l6 6m-6 0l6 -6M496 603l5 5m-5 0l5 -5M496 627l6 6m-6 0l6 -6M497 631l5 5m-5 0l5 -5M497 619l5 5m-5 0l5 -5M498 635l5 5m-5 0l5 -5M498 604l5 5m-5 0l5 -5M498 625l6 6m-6 0l6 -6M499 630l5 5m-5 0l5 -5M499 639l6 6m-6 0l6 -6M500 627l5 5m-5 0l5 -5M500 627l6 6m-6 0l6 -6M501 620l5 5m-5 0l5 -5M501 615l5 5m-5 0l5 -5M501 628l6 6m-6 0l6 -6M502 626l5 5m-5 0l5 -5M502 618l6 6m-6 0l6 -6M503 646l5 5m-5 0l5 -5M503 629l6 6m-6 0l6 -6M504 634l5 5m-5 0l5 -5M504 622l5 5m-5 0l5 -5M504 621l6 6m-6 0l6 -6M505 598l5 5m-5 0l5 -5M505 624l6 6m-6 0l6 -6M506 615l5 5m-5 0l5 -5M506 661l6 6m-6 0l6 -6M507 624l5 5m-5 0l5 -5M507 630l5 5m-5 0l5 -5M507 642l6 6m-6 0l6 -6M508 614l5 5m-5 0l5 -5M508 644l6 6m-6 0l6 -6M509 682l5 5m-5 0l5 -5M509 610l6 6m-6 0l6 -6M510 633l5 5m-5 0l5 -5M510 583l5 5m-5 0l5 -5M510 618l6 6m-6 0l6 -6M511 603l5 5m-5 0l5 -5M511 634l6 6m-6 0l6 -6M512 604l5 5m-5 0l5 -5M512 653l6 6m-6 0l6 -6M513 626l5 5m-5 0l5 -5M513 669l5 5m-5 0l5 -5M513 634l6 6m-6 0l6 -6M514 662l5 5m-5 0l5 -5M514 671l6 6m-6 0l6 -6M515 640l5 5m-5 0l5 -5M515 636l6 6m-6 0l6 -6M516 635l5 5m-5 0l5 -5M516 675l5 5m-5 0l5 -5M516 623l6 6m-6 0l6 -6M517 631l5 5m-5 0l5 -5M517 668l6 6m-6 0l6 -6M518 656l5 5m-5 0l5 -5M518 641l6 6m-6 0l6 -6M519 666l5 5m-5 0l5 -5M519 644l5 5m-5 0l5 -5M519 636l6 6m-6 0l6 -6M520 641l5 5m-5 0l5 -5M520 644l6 6m-6 0l6 -6M521 648l5 5m-5 0l5 -5M521 642l6 6m-6 0l6 -6M522 650l5 5m-5 0l5 -5M522 652l5 5m-5 0l5 -5M522 634l6 6m-6 0l6 -6M523 649l5 5m-5 0l5 -5M523 620l6 6m-6 0l6 -6M524 618l5 5m-5 0l5 -5M524 635l6 6m-6 0l6 -6M525 642l5 5m-5 0l5 -5M525 656l5 5m-5 0l5 -5M525 631l6 6m-6 0l6 -6M526 659l5 5m-5 0l5 -5M526 635l6 6m-6 0l6 -6M527 654l5 5m-5 0l5 -5M527 642l6 6m-6 0l6 -6M528 647l5 5m-5 0l5 -5M528 635l5 5m-5 0l5 -5M528 635l6 6m-6 0l6 -6M529 610l5 5m-5 0l5 -5M529 665l6 6m-6 0l6 -6M530 662l5 5m-5 0l5 -5M530 626l6 6m-6 0l6 -6M531 632l5 5m-5 0l5 -5M531 683l5 5m-5 0l5 -5M531 638l6 6m-6 0l6 -6M532 631l5 5m-5 0l5 -5M532 643l6 6m-6 0l6 -6M533 661l5 5m-5 0l5 -5M533 651l6 6m-6 0l6 -6M534 640l5 5m-5 0l5 -5M534 629l5 5m-5 0l5 -5M534 664l6 6m-6 0l6 -6M535 608l5 5m-5 0l5 -5M535 633l6 6m-6 0l6 -6M536 645l5 5m-5 0l5 -5M536 615l6 6m-6 0l6 -6M537 651l5 5m-5 0l5 -5M537 644l5 5m-5 0l5 -5M537 650l6 6m-6 0l6 -6M538 673l5 5m-5 0l5 -5M538 679l6 6m-6 0l6 -6M539 640l5 5m-5 0l5 -5M539 651l6 6m-6 0l6 -6M540 654l5 5m-5 0l5 -5M540 672l5 5m-5 0l5 -5M540 653l6 6m-6 0l6 -6M541 659l5 5m-5 0l5 -5M541 626l6 6m-6 0l6 -6M542 667l5 5m-5 0l5 -5M542 634l6 6m-6 0l6 -6M543 660l5 5m-5 0l5 -5M543 648l5 5m-5 0l5 -5M543 628l6 6m-6 0l6 -6M544 662l5 5m-5 0l5 -5M544 650l6 6m-6 0l6 -6M545 662l5 5m-5 0l5 -5M545 642l6 6m-6 0l6 -6M546 633l5 5m-5 0l5 -5M546 664l5 5m-5 0l5 -5M546 672l6 6m-6 0l6 -6M547 645l5 5m-5 0l5 -5M547 668l6 6m-6 0l6 -6M548 677l5 5m-5 0l5 -5M548 653l6 6m-6 0l6 -6M549 646l5 5m-5 0l5 -5M549 683l5 5m-5 0l5 -5M549 649l6 6m-6 0l6 -6M550 652l5 5m-5 0l5 -5M550 651l6 6m-6 0l6 -6M551 645l5 5m-5 0l5 -5M551 643l6 6m-6 0l6 -6M552 657l5 5m-5 0l5 -5M552 657l5 5m-5 0l5 -5M552 651l6 6m-6 0l6 -6M553 695l5 5m-5 0l5 -5M553 625l6 6m-6 0l6 -6M554 626l5 5m-5 0l5 -5M554 659l6 6m-6 0l6 -6M555 612l5 5m-5 0l5 -5M555 685l5 5m-5 0l5 -5M555 644l6 6m-6 0l6 -6M556 618l5 5m-5 0l5 -5M556 629l6 6m-6 0l6 -6M557 626l5 5m-5 0l5 -5M557 659l6 6m-6 0l6 -6M558 652l5 5m-5 0l5 -5M558 651l5 5m-5 0l5 -5M558 635l6 6m-6 0l6 -6M559 638l5 5m-5 0l5 -5M559 640l6 6m-6 0l6 -6M560 622l5 5m-5 0l5 -5M560 628l6 6m-6 0l6 -6M561 606l5 5m-5 0l5 -5M561 665l5 5m-5 0l5 -5M561 664l6 6m-6 0l6 -6M562 637l5 5m-5 0l5 -5M562 669l6 6m-6 0l6 -6M563 647l5 5m-5 0l5 -5M563 648l6 6m-6 0l6 -6M564 655l5 5m-5 0l5 -5M564 668l5 5m-5 0l5 -5M564 662l6 6m-6 0l6 -6M565 615l5 5m-5 0l5 -5M565 648l6 6m-6 0l6 -6M566 602l5 5m-5 0l5 -5M566 616l6 6m-6 0l6 -6M567 630l5 5m-5 0l5 -5M567 637l5 5m-5 0l5 -5M568 634l5 5m-5 0l5 -5M568 652l5 5m-5 0l5 -5M568 644l6 6m-6 0l6 -6M569 620l5 5m-5 0l5 -5M569 637l6 6m-6 0l6 -6M570 649l5 5m-5 0l5 -5M570 630l5 5m-5 0l5 -5M571 629l5 5m-5 0l5 -5M571 616l5 5m-5 0l5 -5M571 624l6 6m-6 0l6 -6M572 629l5 5m-5 0l5 -5M572 645l6 6m-6 0l6 -6M573 678l5 5m-5 0l5 -5M573 631l5 5m-5 0l5 -5M574 646l5 5m-5 0l5 -5M574 644l5 5m-5 0l5 -5M574 668l6 6m-6 0l6 -6M575 609l5 5m-5 0l5 -5M575 655l6 6m-6 0l6 -6M576 636l5 5m-5 0l5 -5M576 652l5 5m-5 0l5 -5M577 645l5 5m-5 0l5 -5M577 643l5 5m-5 0l5 -5M577 639l6 6m-6 0l6 -6M578 654l5 5m-5 0l5 -5M578 623l6 6m-6 0l6 -6M579 635l5 5m-5 0l5 -5M579 655l5 5m-5 0l5 -5M580 634l5 5m-5 0l5 -5M580 633l5 5m-5 0l5 -5M580 635l6 6m-6 0l6 -6M581 644l5 5m-5 0l5 -5M581 643l6 6m-6 0l6 -6M582 614l5 5m-5 0l5 -5M582 651l6 6m-6 0l6 -6M583 626l5 5m-5 0l5 -5M583 658l5 5m-5 0l5 -5M583 662l6 6m-6 0l6 -6M584 668l5 5m-5 0l5 -5M584 661l6 6m-6 0l6 -6M585 623l5 5m-5 0l5 -5M585 639l6 6m-6 0l6 -6M586 648l5 5m-5 0l5 -5M586 640l5 5m-5 0l5 -5M586 658l6 6m-6 0l6 -6M587 638l5 5m-5 0l5 -5M587 635l6 6m-6 0l6 -6M588 651l5 5m-5 0l5 -5M588 678l5 5m-5 0l5 -5M589 660l5 5m-5 0l5 -5M589 622l5 5m-5 0l5 -5M589 622l6 6m-6 0l6 -6M590 648l5 5m-5 0l5 -5M590 635l6 6m-6 0l6 -6M591 604l5 5m-5 0l5 -5M591 659l6 6m-6 0l6 -6M592 624l5 5m-5 0l5 -5M592 615l5 5m-5 0l5 -5M592 631l6 6m-6 0l6 -6M593 626l5 5m-5 0l5 -5M593 669l6 6m-6 0l6 -6M594 626l5 5m-5 0l5 -5M594 622l6 6m-6 0l6 -6M595 655l5 5m-5 0l5 -5M595 643l5 5m-5 0l5 -5M595 629l6 6m-6 0l6 -6M596 620l5 5m-5 0l5 -5M596 636l6 6m-6 0l6 -6M597 617l5 5m-5 0l5 -5M597 624l6 6m-6 0l6 -6M598 656l5 5m-5 0l5 -5M598 630l5 5m-5 0l5 -5M598 614l6 6m-6 0l6 -6M599 614l5 5m-5 0l5 -5M599 641l6 6m-6 0l6 -6M600 635l5 5m-5 0l5 -5M600 636l6 6m-6 0l6 -6M601 606l5 5m-5 0l5 -5M601 620l5 5m-5 0l5 -5M601 627l6 6m-6 0l6 -6M602 625l5 5m-5 0l5 -5M602 588l6 6m-6 0l6 -6M603 658l5 5m-5 0l5 -5M603 623l6 6m-6 0l6 -6M604 628l5 5m-5 0l5 -5M604 603l5 5m-5 0l5 -5M604 626l6 6m-6 0l6 -6M605 621l5 5m-5 0l5 -5M605 617l6 6m-6 0l6 -6M606 640l5 5m-5 0l5 -5M606 624l6 6m-6 0l6 -6M607 663l5 5m-5 0l5 -5M607 620l5 5m-5 0l5 -5M607 645l6 6m-6 0l6 -6M608 621l5 5m-5 0l5 -5M608 614l6 6m-6 0l6 -6M609 639l5 5m-5 0l5 -5M609 626l6 6m-6 0l6 -6M610 619l5 5m-5 0l5 -5M610 587l5 5m-5 0l5 -5M610 631l6 6m-6 0l6 -6M611 619l5 5m-5 0l5 -5M611 600l6 6m-6 0l6 -6M612 616l5 5m-5 0l5 -5M612 629l6 6m-6 0l6 -6M613 594l5 5m-5 0l5 -5M613 634l5 5m-5 0l5 -5M613 632l6 6m-6 0l6 -6M614 617l5 5m-5 0l5 -5M614 617l6 6m-6 0l6 -6M615 635l5 5m-5 0l5 -5M615 618l6 6m-6 0l6 -6M616 626l5 5m-5 0l5 -5M616 597l5 5m-5 0l5 -5M616 624l6 6m-6 0l6 -6M617 615l5 5m-5 0l5 -5M617 614l6 6m-6 0l6 -6M618 621l5 5m-5 0l5 -5M618 634l6 6m-6 0l6 -6M619 635l5 5m-5 0l5 -5M619 608l5 5m-5 0l5 -5M619 604l6 6m-6 0l6 -6M620 643l5 5m-5 0l5 -5M620 628l6 6m-6 0l6 -6M621 605l5 5m-5 0l5 -5M621 628l6 6m-6 0l6 -6M622 604l5 5m-5 0l5 -5M622 618l5 5m-5 0l5 -5M622 634l6 6m-6 0l6 -6M623 623l5 5m-5 0l5 -5M623 628l6 6m-6 0l6 -6M624 598l5 5m-5 0l5 -5M624 591l6 6m-6 0l6 -6M625 620l5 5m-5 0l5 -5M625 612l5 5m-5 0l5 -5M625 612l6 6m-6 0l6 -6M626 610l5 5m-5 0l5 -5M626 607l6 6m-6 0l6 -6M627 597l5 5m-5 0l5 -5M627 622l6 6m-6 0l6 -6M628 618l5 5m-5 0l5 -5M628 601l5 5m-5 0l5 -5M628 619l6 6m-6 0l6 -6M629 597l5 5m-5 0l5 -5M629 592l6 6m-6 0l6 -6M630 613l5 5m-5 0l5 -5M630 670l6 6m-6 0l6 -6M631 596l5 5m-5 0l5 -5M631 610l5 5m-5 0l5 -5M631 599l6 6m-6 0l6 -6M632 622l5 5m-5 0l5 -5M632 615l6 6m-6 0l6 -6M633 601l5 5m-5 0l5 -5M633 617l6 6m-6 0l6 -6M634 608l5 5m-5 0l5 -5M634 628l5 5m-5 0l5 -5M634 591l6 6m-6 0l6 -6M635 620l5 5m-5 0l5 -5M635 627l6 6m-6 0l6 -6M636 618l5 5m-5 0l5 -5M636 590l6 6m-6 0l6 -6M637 607l5 5m-5 0l5 -5M637 613l5 5m-5 0l5 -5M637 615l6 6m-6 0l6 -6M638 619l5 5m-5 0l5 -5M638 597l6 6m-6 0l6 -6M639 614l5 5m-5 0l5 -5M639 638l6 6m-6 0l6 -6M640 599l5 5m-5 0l5 -5M640 586l5 5m-5 0l5 -5M640 619l6 6m-6 0l6 -6M641 619l5 5m-5 0l5 -5M641 608l6 6m-6 0l6 -6M642 638l5 5m-5 0l5 -5M642 612l6 6m-6 0l6 -6M643 621l5 5m-5 0l5 -5M643 590l5 5m-5 0l5 -5M643 607l6 6m-6 0l6 -6M644 632l5 5m-5 0l5 -5M644 616l6 6m-6 0l6 -6M645 616l5 5m-5 0l5 -5M645 613l6 6m-6 0l6 -6M646 608l5 5m-5 0l5 -5M646 607l5 5m-5 0l5 -5M646 607l6 6m-6 0l6 -6M647 625l5 5m-5 0l5 -5M647 613l6 6m-6 0l6 -6M648 606l5 5m-5 0l5 -5M648 613l6 6m-6 0l6 -6M649 610l5 5m-5 0l5 -5M649 605l5 5m-5 0l5 -5M650 620l5 5m-5 0l5 -5M650 606l5 5m-5 0l5 -5M650 613l6 6m-6 0l6 -6M651 615l5 5m-5 0l5 -5M651 636l6 6m-6 0l6 -6M652 603l5 5m-5 0l5 -5M652 633l5 5m-5 0l5 -5M653 619l5 5m-5 0l5 -5M653 611l5 5m-5 0l5 -5M653 598l6 6m-6 0l6 -6M654 645l5 5m-5 0l5 -5M654 624l6 6m-6 0l6 -6M655 613l5 5m-5 0l5 -5M655 602l5 5m-5 0l5 -5M656 600l5 5m-5 0l5 -5M656 639l5 5m-5 0l5 -5M656 600l6 6m-6 0l6 -6M657 629l5 5m-5 0l5 -5M657 609l6 6m-6 0l6 -6M658 592l5 5m-5 0l5 -5M658 598l5 5m-5 0l5 -5M659 610l5 5m-5 0l5 -5M659 616l5 5m-5 0l5 -5M659 619l6 6m-6 0l6 -6M660 616l5 5m-5 0l5 -5M660 616l6 6m-6 0l6 -6M661 616l5 5m-5 0l5 -5M661 634l5 5m-5 0l5 -5M662 630l5 5m-5 0l5 -5M662 610l5 5m-5 0l5 -5M662 598l6 6m-6 0l6 -6M663 602l5 5m-5 0l5 -5M663 625l6 6m-6 0l6 -6M664 639l5 5m-5 0l5 -5M664 618l6 6m-6 0l6 -6M665 644l5 5m-5 0l5 -5M665 622l5 5m-5 0l5 -5M665 633l6 6m-6 0l6 -6M666 611l5 5m-5 0l5 -5M666 623l6 6m-6 0l6 -6M667 618l5 5m-5 0l5 -5M667 593l6 6m-6 0l6 -6M668 595l5 5m-5 0l5 -5M668 627l5 5m-5 0l5 -5M668 621l6 6m-6 0l6 -6M669 628l5 5m-5 0l5 -5M669 586l6 6m-6 0l6 -6M670 618l5 5m-5 0l5 -5M670 579l6 6m-6 0l6 -6M671 580l5 5m-5 0l5 -5M671 594l5 5m-5 0l5 -5M671 633l6 6m-6 0l6 -6M672 612l5 5m-5 0l5 -5M672 663l6 6m-6 0l6 -6M673 615l5 5m-5 0l5 -5M673 608l6 6m-6 0l6 -6M674 612l5 5m-5 0l5 -5M674 616l5 5m-5 0l5 -5M674 593l6 6m-6 0l6 -6M675 599l5 5m-5 0l5 -5M675 617l6 6m-6 0l6 -6M676 598l5 5m-5 0l5 -5M676 580l6 6m-6 0l6 -6M677 615l5 5m-5 0l5 -5M677 593l5 5m-5 0l5 -5M677 622l6 6m-6 0l6 -6M678 615l5 5m-5 0l5 -5M678 602l6 6m-6 0l6 -6M679 616l5 5m-5 0l5 -5M679 619l6 6m-6 0l6 -6M680 623l5 5m-5 0l5 -5M680 610l5 5m-5 0l5 -5M680 613l6 6m-6 0l6 -6M681 593l5 5m-5 0l5 -5M681 621l6 6m-6 0l6 -6M682 611l5 5m-5 0l5 -5M682 593l6 6m-6 0l6 -6M683 605l5 5m-5 0l5 -5M683 624l5 5m-5 0l5 -5M683 588l6 6m-6 0l6 -6M684 626l5 5m-5 0l5 -5M684 615l6 6m-6 0l6 -6M685 591l5 5m-5 0l5 -5M685 622l6 6m-6 0l6 -6M686 650l5 5m-5 0l5 -5M686 624l5 5m-5 0l5 -5M686 616l6 6m-6 0l6 -6M687 594l5 5m-5 0l5 -5M687 589l6 6m-6 0l6 -6M688 567l5 5m-5 0l5 -5M688 593l6 6m-6 0l6 -6M689 593l5 5m-5 0l5 -5M689 610l5 5m-5 0l5 -5M689 580l6 6m-6 0l6 -6M690 608l5 5m-5 0l5 -5M690 604l6 6m-6 0l6 -6M691 626l5 5m-5 0l5 -5M691 627l6 6m-6 0l6 -6M692 615l5 5m-5 0l5 -5M692 609l5 5m-5 0l5 -5M692 607l6 6m-6 0l6 -6M693 573l5 5m-5 0l5 -5M693 613l6 6m-6 0l6 -6M694 605l5 5m-5 0l5 -5M694 610l6 6m-6 0l6 -6M695 584l5 5m-5 0l5 -5M695 595l5 5m-5 0l5 -5M695 597l6 6m-6 0l6 -6M696 614l5 5m-5 0l5 -5M696 599l6 6m-6 0l6 -6M697 570l5 5m-5 0l5 -5M697 613l6 6m-6 0l6 -6M698 579l5 5m-5 0l5 -5M698 648l5 5m-5 0l5 -5M698 557l6 6m-6 0l6 -6M699 577l5 5m-5 0l5 -5M699 616l6 6m-6 0l6 -6M700 596l5 5m-5 0l5 -5M700 584l6 6m-6 0l6 -6M701 610l5 5m-5 0l5 -5M701 593l5 5m-5 0l5 -5M701 607l6 6m-6 0l6 -6M702 604l5 5m-5 0l5 -5M702 610l6 6m-6 0l6 -6M703 603l5 5m-5 0l5 -5M703 587l6 6m-6 0l6 -6M704 589l5 5m-5 0l5 -5M704 591l5 5m-5 0l5 -5M704 597l6 6m-6 0l6 -6M705 581l5 5m-5 0l5 -5M705 619l6 6m-6 0l6 -6M706 577l5 5m-5 0l5 -5M706 569l6 6m-6 0l6 -6M707 606l5 5m-5 0l5 -5M707 592l5 5m-5 0l5 -5M707 626l6 6m-6 0l6 -6M708 589l5 5m-5 0l5 -5M708 593l6 6m-6 0l6 -6M709 577l5 5m-5 0l5 -5M709 582l6 6m-6 0l6 -6M710 574l5 5m-5 0l5 -5M710 621l5 5m-5 0l5 -5M710 612l6 6m-6 0l6 -6M711 611l5 5m-5 0l5 -5M711 577l6 6m-6 0l6 -6M712 646l5 5m-5 0l5 -5M712 581l6 6m-6 0l6 -6M713 618l5 5m-5 0l5 -5M713 597l5 5m-5 0l5 -5M713 575l6 6m-6 0l6 -6M714 594l5 5m-5 0l5 -5M714 567l6 6m-6 0l6 -6M715 589l5 5m-5 0l5 -5M715 601l6 6m-6 0l6 -6M716 591l5 5m-5 0l5 -5M716 592l5 5m-5 0l5 -5M716 620l6 6m-6 0l6 -6M717 567l5 5m-5 0l5 -5M717 615l6 6m-6 0l6 -6M718 584l5 5m-5 0l5 -5M718 589l6 6m-6 0l6 -6M719 578l5 5m-5 0l5 -5M719 558l5 5m-5 0l5 -5M719 576l6 6m-6 0l6 -6M720 584l5 5m-5 0l5 -5M720 588l6 6m-6 0l6 -6M721 583l5 5m-5 0l5 -5M721 586l6 6m-6 0l6 -6M722 577l5 5m-5 0l5 -5M722 573l5 5m-5 0l5 -5M722 592l6 6m-6 0l6 -6M723 584l5 5m-5 0l5 -5M723 592l6 6m-6 0l6 -6M724 616l5 5m-5 0l5 -5M724 584l6 6m-6 0l6 -6M725 562l5 5m-5 0l5 -5M725 573l5 5m-5 0l5 -5M725 612l6 6m-6 0l6 -6M726 596l5 5m-5 0l5 -5M726 570l6 6m-6 0l6 -6M727 565l5 5m-5 0l5 -5M727 592l6 6m-6 0l6 -6M728 575l5 5m-5 0l5 -5M728 570l5 5m-5 0l5 -5M728 589l6 6m-6 0l6 -6M729 594l5 5m-5 0l5 -5M729 583l6 6m-6 0l6 -6M730 579l5 5m-5 0l5 -5M730 584l6 6m-6 0l6 -6M731 595l5 5m-5 0l5 -5M731 592l5 5m-5 0l5 -5M732 580l5 5m-5 0l5 -5M732 580l5 5m-5 0l5 -5M732 584l6 6m-6 0l6 -6M733 602l5 5m-5 0l5 -5M733 582l6 6m-6 0l6 -6M734 587l5 5m-5 0l5 -5M734 587l5 5m-5 0l5 -5M735 579l5 5m-5 0l5 -5M735 583l5 5m-5 0l5 -5M735 595l6 6m-6 0l6 -6M736 613l5 5m-5 0l5 -5M736 612l6 6m-6 0l6 -6M737 565l5 5m-5 0l5 -5M737 582l5 5m-5 0l5 -5M738 573l5 5m-5 0l5 -5M738 550l5 5m-5 0l5 -5M738 586l6 6m-6 0l6 -6M739 554l5 5m-5 0l5 -5M739 571l6 6m-6 0l6 -6M740 594l5 5m-5 0l5 -5M740 628l5 5m-5 0l5 -5M741 588l5 5m-5 0l5 -5M741 591l5 5m-5 0l5 -5M741 589l6 6m-6 0l6 -6M742 596l5 5m-5 0l5 -5M742 577l6 6m-6 0l6 -6M743 559l5 5m-5 0l5 -5M743 571l5 5m-5 0l5 -5M744 580l5 5m-5 0l5 -5M744 582l5 5m-5 0l5 -5M744 556l6 6m-6 0l6 -6M745 566l5 5m-5 0l5 -5M745 568l6 6m-6 0l6 -6M746 625l5 5m-5 0l5 -5M746 571l6 6m-6 0l6 -6M747 590l5 5m-5 0l5 -5M747 567l5 5m-5 0l5 -5M747 564l6 6m-6 0l6 -6M748 556l5 5m-5 0l5 -5M748 563l6 6m-6 0l6 -6M749 590l5 5m-5 0l5 -5M749 567l6 6m-6 0l6 -6M750 557l5 5m-5 0l5 -5M750 569l5 5m-5 0l5 -5M750 568l6 6m-6 0l6 -6M751 573l5 5m-5 0l5 -5M751 577l6 6m-6 0l6 -6M752 576l5 5m-5 0l5 -5M752 597l6 6m-6 0l6 -6M753 570l5 5m-5 0l5 -5M753 570l5 5m-5 0l5 -5M753 560l6 6m-6 0l6 -6M754 587l5 5m-5 0l5 -5M754 577l6 6m-6 0l6 -6M755 594l5 5m-5 0l5 -5M755 579l6 6m-6 0l6 -6M756 581l5 5m-5 0l5 -5M756 567l5 5m-5 0l5 -5M756 551l6 6m-6 0l6 -6M757 564l5 5m-5 0l5 -5M757 558l6 6m-6 0l6 -6M758 579l5 5m-5 0l5 -5M758 554l6 6m-6 0l6 -6M759 568l5 5m-5 0l5 -5M759 568l5 5m-5 0l5 -5M759 581l6 6m-6 0l6 -6M760 566l5 5m-5 0l5 -5M760 575l6 6m-6 0l6 -6M761 608l5 5m-5 0l5 -5M761 576l6 6m-6 0l6 -6M762 575l5 5m-5 0l5 -5M762 589l5 5m-5 0l5 -5M762 590l6 6m-6 0l6 -6M763 565l5 5m-5 0l5 -5M763 582l6 6m-6 0l6 -6M764 557l5 5m-5 0l5 -5M764 531l6 6m-6 0l6 -6M765 575l5 5m-5 0l5 -5M765 560l5 5m-5 0l5 -5M765 559l6 6m-6 0l6 -6M766 567l5 5m-5 0l5 -5M766 569l6 6m-6 0l6 -6M767 561l5 5m-5 0l5 -5M767 586l6 6m-6 0l6 -6M768 574l5 5m-5 0l5 -5M768 551l5 5m-5 0l5 -5M768 573l6 6m-6 0l6 -6M769 588l5 5m-5 0l5 -5M769 567l6 6m-6 0l6 -6M770 604l5 5m-5 0l5 -5M770 571l6 6m-6 0l6 -6M771 557l5 5m-5 0l5 -5M771 576l5 5m-5 0l5 -5M771 550l6 6m-6 0l6 -6M772 576l5 5m-5 0l5 -5M772 581l6 6m-6 0l6 -6M773 564l5 5m-5 0l5 -5M773 571l6 6m-6 0l6 -6M774 549l5 5m-5 0l5 -5M774 576l5 5m-5 0l5 -5M774 585l6 6m-6 0l6 -6M775 576l5 5m-5 0l5 -5M775 575l6 6m-6 0l6 -6M776 557l5 5m-5 0l5 -5M776 558l6 6m-6 0l6 -6M777 572l5 5m-5 0l5 -5M777 582l5 5m-5 0l5 -5M777 527l6 6m-6 0l6 -6M778 567l5 5m-5 0l5 -5M778 565l6 6m-6 0l6 -6M779 579l5 5m-5 0l5 -5M779 576l6 6m-6 0l6 -6M780 586l5 5m-5 0l5 -5M780 583l5 5m-5 0l5 -5M780 580l6 6m-6 0l6 -6M781 560l5 5m-5 0l5 -5M781 554l6 6m-6 0l6 -6M782 548l5 5m-5 0l5 -5M782 574l6 6m-6 0l6 -6M783 529l5 5m-5 0l5 -5M783 543l5 5m-5 0l5 -5M783 570l6 6m-6 0l6 -6M784 559l5 5m-5 0l5 -5M784 574l6 6m-6 0l6 -6M785 561l5 5m-5 0l5 -5M785 558l6 6m-6 0l6 -6M786 554l5 5m-5 0l5 -5M786 550l5 5m-5 0l5 -5M786 552l6 6m-6 0l6 -6M787 584l5 5m-5 0l5 -5M787 548l6 6m-6 0l6 -6M788 566l5 5m-5 0l5 -5M788 614l6 6m-6 0l6 -6M789 560l5 5m-5 0l5 -5M789 538l5 5m-5 0l5 -5M789 537l6 6m-6 0l6 -6M790 548l5 5m-5 0l5 -5M790 541l6 6m-6 0l6 -6M791 584l5 5m-5 0l5 -5M791 564l6 6m-6 0l6 -6M792 554l5 5m-5 0l5 -5M792 541l5 5m-5 0l5 -5M792 539l6 6m-6 0l6 -6M793 552l5 5m-5 0l5 -5M793 578l6 6m-6 0l6 -6M794 555l5 5m-5 0l5 -5M794 532l6 6m-6 0l6 -6M795 564l5 5m-5 0l5 -5M795 551l5 5m-5 0l5 -5M795 515l6 6m-6 0l6 -6M796 557l5 5m-5 0l5 -5M796 548l6 6m-6 0l6 -6M797 558l5 5m-5 0l5 -5M797 555l6 6m-6 0l6 -6M798 554l5 5m-5 0l5 -5M798 550l5 5m-5 0l5 -5M798 557l6 6m-6 0l6 -6M799 550l5 5m-5 0l5 -5M799 527l6 6m-6 0l6 -6M800 555l5 5m-5 0l5 -5M800 556l6 6m-6 0l6 -6M801 567l5 5m-5 0l5 -5M801 553l5 5m-5 0l5 -5M801 571l6 6m-6 0l6 -6M802 559l5 5m-5 0l5 -5M802 556l6 6m-6 0l6 -6M803 548l5 5m-5 0l5 -5M803 539l6 6m-6 0l6 -6M804 544l5 5m-5 0l5 -5M804 554l5 5m-5 0l5 -5M804 577l6 6m-6 0l6 -6M805 552l5 5m-5 0l5 -5M805 545l6 6m-6 0l6 -6M806 564l5 5m-5 0l5 -5M806 531l6 6m-6 0l6 -6M807 538l5 5m-5 0l5 -5M807 556l5 5m-5 0l5 -5M807 554l6 6m-6 0l6 -6M808 558l5 5m-5 0l5 -5M808 555l6 6m-6 0l6 -6M809 554l5 5m-5 0l5 -5M809 560l6 6m-6 0l6 -6M810 537l5 5m-5 0l5 -5M810 560l5 5m-5 0l5 -5M810 559l6 6m-6 0l6 -6M811 593l5 5m-5 0l5 -5M811 551l6 6m-6 0l6 -6M812 550l5 5m-5 0l5 -5M812 566l6 6m-6 0l6 -6M813 557l5 5m-5 0l5 -5M813 565l5 5m-5 0l5 -5M814 537l5 5m-5 0l5 -5M814 565l5 5m-5 0l5 -5M814 535l6 6m-6 0l6 -6M815 549l5 5m-5 0l5 -5M815 556l6 6m-6 0l6 -6M816 534l5 5m-5 0l5 -5M816 541l5 5m-5 0l5 -5M817 545l5 5m-5 0l5 -5M817 536l5 5m-5 0l5 -5M817 533l6 6m-6 0l6 -6M818 560l5 5m-5 0l5 -5M818 557l6 6m-6 0l6 -6M819 547l5 5m-5 0l5 -5M819 544l5 5m-5 0l5 -5M820 551l5 5m-5 0l5 -5M820 549l5 5m-5 0l5 -5M820 556l6 6m-6 0l6 -6M821 580l5 5m-5 0l5 -5M821 546l6 6m-6 0l6 -6M822 549l5 5m-5 0l5 -5M822 514l5 5m-5 0l5 -5M823 563l5 5m-5 0l5 -5M823 544l5 5m-5 0l5 -5M823 544l6 6m-6 0l6 -6M824 544l5 5m-5 0l5 -5M824 548l6 6m-6 0l6 -6M825 533l5 5m-5 0l5 -5M825 567l5 5m-5 0l5 -5M826 542l5 5m-5 0l5 -5M826 519l5 5m-5 0l5 -5M826 541l6 6m-6 0l6 -6M827 520l5 5m-5 0l5 -5M827 520l6 6m-6 0l6 -6M828 546l5 5m-5 0l5 -5M828 538l6 6m-6 0l6 -6M829 521l5 5m-5 0l5 -5M829 555l5 5m-5 0l5 -5M829 524l6 6m-6 0l6 -6M830 508l5 5m-5 0l5 -5M830 506l6 6m-6 0l6 -6M831 548l5 5m-5 0l5 -5M831 550l6 6m-6 0l6 -6M832 533l5 5m-5 0l5 -5M832 530l5 5m-5 0l5 -5M832 549l6 6m-6 0l6 -6M833 550l5 5m-5 0l5 -5M833 528l6 6m-6 0l6 -6M834 523l5 5m-5 0l5 -5M834 537l6 6m-6 0l6 -6M835 535l5 5m-5 0l5 -5M835 533l5 5m-5 0l5 -5M835 514l6 6m-6 0l6 -6M836 543l5 5m-5 0l5 -5M836 540l6 6m-6 0l6 -6M837 551l5 5m-5 0l5 -5M837 514l6 6m-6 0l6 -6M838 526l5 5m-5 0l5 -5M838 519l5 5m-5 0l5 -5M838 544l6 6m-6 0l6 -6M839 552l5 5m-5 0l5 -5M839 547l6 6m-6 0l6 -6M840 545l5 5m-5 0l5 -5M840 521l6 6m-6 0l6 -6M841 539l5 5m-5 0l5 -5M841 543l5 5m-5 0l5 -5M841 562l6 6m-6 0l6 -6M842 546l5 5m-5 0l5 -5M842 545l6 6m-6 0l6 -6M843 554l5 5m-5 0l5 -5M843 539l6 6m-6 0l6 -6M844 536l5 5m-5 0l5 -5M844 539l5 5m-5 0l5 -5M844 539l6 6m-6 0l6 -6M845 531l5 5m-5 0l5 -5M845 553l6 6m-6 0l6 -6M846 538l5 5m-5 0l5 -5M846 545l6 6m-6 0l6 -6M847 552l5 5m-5 0l5 -5M847 524l5 5m-5 0l5 -5M847 518l6 6m-6 0l6 -6M848 513l5 5m-5 0l5 -5M848 519l6 6m-6 0l6 -6M849 526l5 5m-5 0l5 -5M849 500l6 6m-6 0l6 -6M850 517l5 5m-5 0l5 -5M850 525l5 5m-5 0l5 -5M850 535l6 6m-6 0l6 -6M851 502l5 5m-5 0l5 -5M851 519l6 6m-6 0l6 -6M852 539l5 5m-5 0l5 -5M852 549l6 6m-6 0l6 -6M853 546l5 5m-5 0l5 -5M853 526l5 5m-5 0l5 -5M853 530l6 6m-6 0l6 -6M854 556l5 5m-5 0l5 -5M854 521l6 6m-6 0l6 -6M855 531l5 5m-5 0l5 -5M855 537l6 6m-6 0l6 -6M856 544l5 5m-5 0l5 -5M856 508l5 5m-5 0l5 -5M856 518l6 6m-6 0l6 -6M857 499l5 5m-5 0l5 -5M857 526l6 6m-6 0l6 -6M858 517l5 5m-5 0l5 -5M858 519l6 6m-6 0l6 -6M859 517l5 5m-5 0l5 -5M859 502l5 5m-5 0l5 -5M859 523l6 6m-6 0l6 -6M860 513l5 5m-5 0l5 -5M860 504l6 6m-6 0l6 -6M861 503l5 5m-5 0l5 -5M861 525l6 6m-6 0l6 -6M862 492l5 5m-5 0l5 -5M862 495l5 5m-5 0l5 -5M862 515l6 6m-6 0l6 -6M863 509l5 5m-5 0l5 -5M863 536l6 6m-6 0l6 -6M864 527l5 5m-5 0l5 -5M864 500l6 6m-6 0l6 -6M865 510l5 5m-5 0l5 -5M865 520l5 5m-5 0l5 -5M865 507l6 6m-6 0l6 -6M866 524l5 5m-5 0l5 -5M866 507l6 6m-6 0l6 -6M867 524l5 5m-5 0l5 -5M867 524l6 6m-6 0l6 -6M868 534l5 5m-5 0l5 -5M868 525l5 5m-5 0l5 -5M868 536l6 6m-6 0l6 -6M869 573l5 5m-5 0l5 -5M869 525l6 6m-6 0l6 -6M870 544l5 5m-5 0l5 -5M870 528l6 6m-6 0l6 -6M871 536l5 5m-5 0l5 -5M871 485l5 5m-5 0l5 -5M871 524l6 6m-6 0l6 -6M872 505l5 5m-5 0l5 -5M872 519l6 6m-6 0l6 -6M873 520l5 5m-5 0l5 -5M873 525l6 6m-6 0l6 -6M874 505l5 5m-5 0l5 -5M874 534l5 5m-5 0l5 -5M874 521l6 6m-6 0l6 -6M875 527l5 5m-5 0l5 -5M875 522l6 6m-6 0l6 -6M876 517l5 5m-5 0l5 -5M876 487l6 6m-6 0l6 -6M877 530l5 5m-5 0l5 -5M877 511l5 5m-5 0l5 -5M877 515l6 6m-6 0l6 -6M878 501l5 5m-5 0l5 -5M878 490l6 6m-6 0l6 -6M879 482l5 5m-5 0l5 -5M879 512l6 6m-6 0l6 -6M880 504l5 5m-5 0l5 -5M880 517l5 5m-5 0l5 -5M880 520l6 6m-6 0l6 -6M881 511l5 5m-5 0l5 -5M881 514l6 6m-6 0l6 -6M882 514l5 5m-5 0l5 -5M882 499l6 6m-6 0l6 -6M883 507l5 5m-5 0l5 -5M883 502l5 5m-5 0l5 -5M883 466l6 6m-6 0l6 -6M884 553l5 5m-5 0l5 -5M884 522l6 6m-6 0l6 -6M885 532l5 5m-5 0l5 -5M885 506l6 6m-6 0l6 -6M886 493l5 5m-5 0l5 -5M886 491l5 5m-5 0l5 -5M886 508l6 6m-6 0l6 -6M887 506l5 5m-5 0l5 -5M887 513l6 6m-6 0l6 -6M888 532l5 5m-5 0l5 -5M888 528l6 6m-6 0l6 -6M889 519l5 5m-5 0l5 -5M889 520l5 5m-5 0l5 -5M889 542l6 6m-6 0l6 -6M890 513l5 5m-5 0l5 -5M890 520l6 6m-6 0l6 -6M891 518l5 5m-5 0l5 -5M891 513l6 6m-6 0l6 -6M892 514l5 5m-5 0l5 -5M892 492l5 5m-5 0l5 -5M892 502l6 6m-6 0l6 -6M893 533l5 5m-5 0l5 -5M893 529l6 6m-6 0l6 -6M894 490l5 5m-5 0l5 -5M894 501l6 6m-6 0l6 -6M895 527l5 5m-5 0l5 -5M895 540l5 5m-5 0l5 -5M896 533l5 5m-5 0l5 -5M896 506l5 5m-5 0l5 -5M896 536l6 6m-6 0l6 -6M897 518l5 5m-5 0l5 -5M897 492l6 6m-6 0l6 -6M898 504l5 5m-5 0l5 -5M898 514l5 5m-5 0l5 -5M899 525l5 5m-5 0l5 -5M899 541l5 5m-5 0l5 -5M899 520l6 6m-6 0l6 -6M900 541l5 5m-5 0l5 -5M900 523l6 6m-6 0l6 -6M901 528l5 5m-5 0l5 -5M901 520l5 5m-5 0l5 -5M902 515l5 5m-5 0l5 -5M902 484l5 5m-5 0l5 -5M902 503l6 6m-6 0l6 -6M903 541l5 5m-5 0l5 -5M903 531l6 6m-6 0l6 -6M904 542l5 5m-5 0l5 -5M904 514l5 5m-5 0l5 -5M905 539l5 5m-5 0l5 -5M905 513l5 5m-5 0l5 -5M905 510l6 6m-6 0l6 -6M906 521l5 5m-5 0l5 -5M906 494l6 6m-6 0l6 -6M907 516l5 5m-5 0l5 -5M907 518l5 5m-5 0l5 -5M907 569l6 6m-6 0l6 -6M908 508l5 5m-5 0l5 -5M908 493l6 6m-6 0l6 -6M909 499l5 5m-5 0l5 -5M909 484l6 6m-6 0l6 -6M910 515l5 5m-5 0l5 -5M910 492l5 5m-5 0l5 -5M911 506l5 5m-5 0l5 -5M911 473l5 5m-5 0l5 -5M911 510l6 6m-6 0l6 -6M912 490l5 5m-5 0l5 -5M912 513l6 6m-6 0l6 -6M913 510l5 5m-5 0l5 -5M913 506l6 6m-6 0l6 -6M914 530l5 5m-5 0l5 -5M914 531l5 5m-5 0l5 -5M914 490l6 6m-6 0l6 -6M915 498l5 5m-5 0l5 -5M915 501l6 6m-6 0l6 -6M916 497l5 5m-5 0l5 -5M916 490l6 6m-6 0l6 -6M917 487l5 5m-5 0l5 -5M917 476l5 5m-5 0l5 -5M917 499l6 6m-6 0l6 -6M918 502l5 5m-5 0l5 -5M918 518l6 6m-6 0l6 -6M919 516l5 5m-5 0l5 -5M919 517l6 6m-6 0l6 -6M920 494l5 5m-5 0l5 -5M920 482l5 5m-5 0l5 -5M920 482l6 6m-6 0l6 -6M921 526l5 5m-5 0l5 -5M921 502l6 6m-6 0l6 -6M922 500l5 5m-5 0l5 -5M922 528l6 6m-6 0l6 -6M923 511l5 5m-5 0l5 -5M923 511l5 5m-5 0l5 -5M923 523l6 6m-6 0l6 -6M924 513l5 5m-5 0l5 -5M924 519l6 6m-6 0l6 -6M925 510l5 5m-5 0l5 -5M925 513l6 6m-6 0l6 -6M926 513l5 5m-5 0l5 -5M926 527l5 5m-5 0l5 -5M926 518l6 6m-6 0l6 -6M927 497l5 5m-5 0l5 -5M927 499l6 6m-6 0l6 -6M928 529l5 5m-5 0l5 -5M928 500l6 6m-6 0l6 -6M929 508l5 5m-5 0l5 -5M929 513l5 5m-5 0l5 -5M929 512l6 6m-6 0l6 -6M930 504l5 5m-5 0l5 -5M930 492l6 6m-6 0l6 -6M931 488l5 5m-5 0l5 -5M931 486l6 6m-6 0l6 -6M932 514l5 5m-5 0l5 -5M932 530l5 5m-5 0l5 -5M932 487l6 6m-6 0l6 -6M933 506l5 5m-5 0l5 -5M933 539l6 6m-6 0l6 -6M934 521l5 5m-5 0l5 -5M934 525l6 6m-6 0l6 -6M935 496l5 5m-5 0l5 -5M935 501l5 5m-5 0l5 -5M935 506l6 6m-6 0l6 -6M936 505l5 5m-5 0l5 -5M936 485l6 6m-6 0l6 -6M937 509l5 5m-5 0l5 -5M937 486l6 6m-6 0l6 -6M938 467l5 5m-5 0l5 -5M938 512l5 5m-5 0l5 -5M938 477l6 6m-6 0l6 -6M939 499l5 5m-5 0l5 -5M939 492l6 6m-6 0l6 -6M940 487l5 5m-5 0l5 -5M940 545l6 6m-6 0l6 -6M941 507l5 5m-5 0l5 -5M941 525l5 5m-5 0l5 -5M941 508l6 6m-6 0l6 -6M942 479l5 5m-5 0l5 -5M942 547l6 6m-6 0l6 -6M943 521l5 5m-5 0l5 -5M943 513l6 6m-6 0l6 -6M944 491l5 5m-5 0l5 -5M944 493l5 5m-5 0l5 -5M944 464l6 6m-6 0l6 -6M945 531l5 5m-5 0l5 -5M945 514l6 6m-6 0l6 -6M946 504l5 5m-5 0l5 -5M946 496l6 6m-6 0l6 -6M947 511l5 5m-5 0l5 -5M947 534l5 5m-5 0l5 -5M947 488l6 6m-6 0l6 -6M948 523l5 5m-5 0l5 -5M948 508l6 6m-6 0l6 -6M949 498l5 5m-5 0l5 -5M949 508l6 6m-6 0l6 -6M950 519l5 5m-5 0l5 -5M950 469l5 5m-5 0l5 -5M950 483l6 6m-6 0l6 -6M951 503l5 5m-5 0l5 -5M951 498l6 6m-6 0l6 -6M952 493l5 5m-5 0l5 -5M952 502l6 6m-6 0l6 -6M953 503l5 5m-5 0l5 -5M953 502l5 5m-5 0l5 -5M953 473l6 6m-6 0l6 -6M954 499l5 5m-5 0l5 -5M954 494l6 6m-6 0l6 -6M955 489l5 5m-5 0l5 -5M955 513l6 6m-6 0l6 -6M956 486l5 5m-5 0l5 -5M956 514l5 5m-5 0l5 -5M956 483l6 6m-6 0l6 -6M957 495l5 5m-5 0l5 -5M957 521l6 6m-6 0l6 -6M958 518l5 5m-5 0l5 -5M958 547l6 6m-6 0l6 -6M959 516l5 5m-5 0l5 -5M959 512l5 5m-5 0l5 -5M959 483l6 6m-6 0l6 -6M960 537l5 5m-5 0l5 -5M960 500l6 6m-6 0l6 -6M961 494l5 5m-5 0l5 -5M961 534l6 6m-6 0l6 -6M962 486l5 5m-5 0l5 -5M962 515l5 5m-5 0l5 -5M962 514l6 6m-6 0l6 -6M963 529l5 5m-5 0l5 -5M963 529l6 6m-6 0l6 -6M964 508l5 5m-5 0l5 -5M964 500l6 6m-6 0l6 -6M965 508l5 5m-5 0l5 -5M965 527l5 5m-5 0l5 -5M965 506l6 6m-6 0l6 -6M966 518l5 5m-5 0l5 -5M966 497l6 6m-6 0l6 -6M967 518l5 5m-5 0l5 -5M967 511l6 6m-6 0l6 -6M968 520l5 5m-5 0l5 -5M968 516l5 5m-5 0l5 -5M968 513l6 6m-6 0l6 -6M969 534l5 5m-5 0l5 -5M969 504l6 6m-6 0l6 -6M970 495l5 5m-5 0l5 -5M970 488l6 6m-6 0l6 -6M971 497l5 5m-5 0l5 -5M971 464l5 5m-5 0l5 -5M971 522l6 6m-6 0l6 -6M972 511l5 5m-5 0l5 -5M972 519l6 6m-6 0l6 -6M973 539l5 5m-5 0l5 -5M973 525l6 6m-6 0l6 -6M974 506l5 5m-5 0l5 -5M974 481l5 5m-5 0l5 -5M974 512l6 6m-6 0l6 -6M975 520l5 5m-5 0l5 -5M975 502l6 6m-6 0l6 -6M976 508l5 5m-5 0l5 -5M976 516l6 6m-6 0l6 -6M977 509l5 5m-5 0l5 -5M977 507l5 5m-5 0l5 -5M978 531l5 5m-5 0l5 -5M978 487l5 5m-5 0l5 -5M978 509l6 6m-6 0l6 -6M979 518l5 5m-5 0l5 -5M979 511l6 6m-6 0l6 -6M980 507l5 5m-5 0l5 -5M980 538l5 5m-5 0l5 -5M981 525l5 5m-5 0l5 -5M981 534l5 5m-5 0l5 -5M981 515l6 6m-6 0l6 -6M982 527l5 5m-5 0l5 -5M982 506l6 6m-6 0l6 -6M983 488l5 5m-5 0l5 -5M983 518l5 5m-5 0l5 -5M984 502l5 5m-5 0l5 -5M984 514l5 5m-5 0l5 -5M984 495l6 6m-6 0l6 -6M985 503l5 5m-5 0l5 -5M985 502l6 6m-6 0l6 -6M986 495l5 5m-5 0l5 -5M986 528l5 5m-5 0l5 -5M987 497l5 5m-5 0l5 -5M987 501l5 5m-5 0l5 -5M987 489l6 6m-6 0l6 -6M988 494l5 5m-5 0l5 -5M988 509l6 6m-6 0l6 -6M989 502l5 5m-5 0l5 -5M989 492l5 5m-5 0l5 -5M990 513l5 5m-5 0l5 -5M990 500l5 5m-5 0l5 -5M990 507l6 6m-6 0l6 -6M991 517l5 5m-5 0l5 -5M991 471l6 6m-6 0l6 -6M992 510l5 5m-5 0l5 -5M992 486l5 5m-5 0l5 -5M993 499l5 5m-5 0l5 -5M993 485l5 5m-5 0l5 -5M993 524l6 6m-6 0l6 -6M994 501l5 5m-5 0l5 -5M994 514l6 6m-6 0l6 -6M995 497l5 5m-5 0l5 -5M995 510l6 6m-6 0l6 -6M996 467l5 5m-5 0l5 -5M996 485l5 5m-5 0l5 -5M996 510l6 6m-6 0l6 -6M997 512l5 5m-5 0l5 -5M997 492l6 6m-6 0l6 -6M998 506l5 5m-5 0l5 -5M998 480l6 6m-6 0l6 -6M999 477l5 5m-5 0l5 -5M999 517l5 5m-5 0l5 -5M999 485l6 6m-6 0l6 -6M1000 498l5 5m-5 0l5 -5M1000 514l6 6m-6 0l6 -6M1001 493l5 5m-5 0l5 -5M1001 482l6 6m-6 0l6 -6M1002 534l5 5m-5 0l5 -5M1002 488l5 5m-5 0l5 -5M1002 491l6 6m-6 0l6 -6M1003 505l5 5m-5 0l5 -5M1003 508l6 6m-6 0l6 -6M1004 479l5 5m-5 0l5 -5M1004 492l6 6m-6 0l6 -6M1005 492l5 5m-5 0l5 -5M1005 512l5 5m-5 0l5 -5M1005 487l6 6m-6 0l6 -6M1006 504l5 5m-5 0l5 -5M1006 520l6 6m-6 0l6 -6M1007 480l5 5m-5 0l5 -5M1007 511l6 6m-6 0l6 -6M1008 473l5 5m-5 0l5 -5M1008 498l5 5m-5 0l5 -5M1008 495l6 6m-6 0l6 -6M1009 522l5 5m-5 0l5 -5M1009 499l6 6m-6 0l6 -6M1010 517l5 5m-5 0l5 -5M1010 500l6 6m-6 0l6 -6M1011 533l5 5m-5 0l5 -5M1011 526l5 5m-5 0l5 -5M1011 498l6 6m-6 0l6 -6M1012 522l5 5m-5 0l5 -5M1012 502l6 6m-6 0l6 -6M1013 482l5 5m-5 0l5 -5M1013 485l6 6m-6 0l6 -6M1014 477l5 5m-5 0l5 -5M1014 475l5 5m-5 0l5 -5M1014 504l6 6m-6 0l6 -6M1015 528l5 5m-5 0l5 -5M1015 503l6 6m-6 0l6 -6M1016 514l5 5m-5 0l5 -5M1016 496l6 6m-6 0l6 -6M1017 500l5 5m-5 0l5 -5M1017 507l5 5m-5 0l5 -5M1017 488l6 6m-6 0l6 -6M1018 492l5 5m-5 0l5 -5M1018 488l6 6m-6 0l6 -6M1019 507l5 5m-5 0l5 -5M1019 527l6 6m-6 0l6 -6M1020 483l5 5m-5 0l5 -5M1020 510l5 5m-5 0l5 -5M1020 497l6 6m-6 0l6 -6M1021 496l5 5m-5 0l5 -5M1021 466l6 6m-6 0l6 -6M1022 491l5 5m-5 0l5 -5M1022 478l6 6m-6 0l6 -6M1023 494l5 5m-5 0l5 -5M1023 489l5 5m-5 0l5 -5M1023 502l6 6m-6 0l6 -6M1024 514l5 5m-5 0l5 -5M1024 484l6 6m-6 0l6 -6M1025 492l5 5m-5 0l5 -5M1025 532l6 6m-6 0l6 -6M1026 524l5 5m-5 0l5 -5M1026 501l5 5m-5 0l5 -5M1026 499l6 6m-6 0l6 -6M1027 487l5 5m-5 0l5 -5M1027 486l6 6m-6 0l6 -6M1028 487l5 5m-5 0l5 -5M1028 475l6 6m-6 0l6 -6M1029 476l5 5m-5 0l5 -5M1029 484l5 5m-5 0l5 -5M1029 512l6 6m-6 0l6 -6M1030 497l5 5m-5 0l5 -5M1030 478l6 6m-6 0l6 -6M1031 485l5 5m-5 0l5 -5M1031 497l6 6m-6 0l6 -6M1032 500l5 5m-5 0l5 -5M1032 487l5 5m-5 0l5 -5M1032 499l6 6m-6 0l6 -6M1033 501l5 5m-5 0l5 -5M1033 498l6 6m-6 0l6 -6M1034 490l5 5m-5 0l5 -5M1034 503l6 6m-6 0l6 -6M1035 488l5 5m-5 0l5 -5M1035 500l5 5m-5 0l5 -5M1035 487l6 6m-6 0l6 -6M1036 531l5 5m-5 0l5 -5M1036 514l6 6m-6 0l6 -6M1037 495l5 5m-5 0l5 -5M1037 499l6 6m-6 0l6 -6M1038 469l5 5m-5 0l5 -5M1038 490l5 5m-5 0l5 -5M1038 509l6 6m-6 0l6 -6M1039 484l5 5m-5 0l5 -5M1039 484l6 6m-6 0l6 -6M1040 485l5 5m-5 0l5 -5M1040 485l6 6m-6 0l6 -6M1041 482l5 5m-5 0l5 -5M1041 468l5 5m-5 0l5 -5M1041 501l6 6m-6 0l6 -6M1042 510l5 5m-5 0l5 -5M1042 501l6 6m-6 0l6 -6M1043 496l5 5m-5 0l5 -5M1043 512l6 6m-6 0l6 -6M1044 458l5 5m-5 0l5 -5M1044 495l5 5m-5 0l5 -5M1044 486l6 6m-6 0l6 -6M1045 488l5 5m-5 0l5 -5M1045 478l6 6m-6 0l6 -6M1046 474l5 5m-5 0l5 -5M1046 471l6 6m-6 0l6 -6M1047 484l5 5m-5 0l5 -5M1047 488l5 5m-5 0l5 -5M1047 523l6 6m-6 0l6 -6M1048 485l5 5m-5 0l5 -5M1048 511l6 6m-6 0l6 -6M1049 490l5 5m-5 0l5 -5M1049 487l6 6m-6 0l6 -6M1050 494l5 5m-5 0l5 -5M1050 513l5 5m-5 0l5 -5M1050 505l6 6m-6 0l6 -6M1051 511l5 5m-5 0l5 -5M1051 493l6 6m-6 0l6 -6M1052 472l5 5m-5 0l5 -5M1052 497l6 6m-6 0l6 -6M1053 499l5 5m-5 0l5 -5M1053 463l5 5m-5 0l5 -5M1053 462l6 6m-6 0l6 -6M1054 487l5 5m-5 0l5 -5M1054 498l6 6m-6 0l6 -6M1055 493l5 5m-5 0l5 -5M1055 490l6 6m-6 0l6 -6M1056 484l5 5m-5 0l5 -5M1056 476l5 5m-5 0l5 -5M1056 504l6 6m-6 0l6 -6M1057 488l5 5m-5 0l5 -5M1057 475l6 6m-6 0l6 -6M1058 510l5 5m-5 0l5 -5M1058 491l6 6m-6 0l6 -6M1059 482l5 5m-5 0l5 -5M1059 483l5 5m-5 0l5 -5M1060 484l5 5m-5 0l5 -5M1060 483l5 5m-5 0l5 -5M1060 484l6 6m-6 0l6 -6M1061 502l5 5m-5 0l5 -5M1061 501l6 6m-6 0l6 -6M1062 483l5 5m-5 0l5 -5M1062 469l5 5m-5 0l5 -5M1063 484l5 5m-5 0l5 -5M1063 489l5 5m-5 0l5 -5M1063 466l6 6m-6 0l6 -6M1064 461l5 5m-5 0l5 -5M1064 455l6 6m-6 0l6 -6M1065 474l5 5m-5 0l5 -5M1065 458l5 5m-5 0l5 -5M1066 494l5 5m-5 0l5 -5M1066 489l5 5m-5 0l5 -5M1066 495l6 6m-6 0l6 -6M1067 498l5 5m-5 0l5 -5M1067 490l6 6m-6 0l6 -6M1068 473l5 5m-5 0l5 -5M1068 488l5 5m-5 0l5 -5M1069 474l5 5m-5 0l5 -5M1069 475l5 5m-5 0l5 -5M1069 471l6 6m-6 0l6 -6M1070 507l5 5m-5 0l5 -5M1070 514l6 6m-6 0l6 -6M1071 487l5 5m-5 0l5 -5M1071 494l5 5m-5 0l5 -5M1072 471l5 5m-5 0l5 -5M1072 469l5 5m-5 0l5 -5M1072 497l6 6m-6 0l6 -6M1073 494l5 5m-5 0l5 -5M1073 505l6 6m-6 0l6 -6M1074 464l5 5m-5 0l5 -5M1074 494l5 5m-5 0l5 -5M1075 480l5 5m-5 0l5 -5M1075 485l5 5m-5 0l5 -5M1075 492l6 6m-6 0l6 -6M1076 497l5 5m-5 0l5 -5M1076 478l6 6m-6 0l6 -6M1077 464l5 5m-5 0l5 -5M1077 478l6 6m-6 0l6 -6M1078 484l5 5m-5 0l5 -5M1078 476l5 5m-5 0l5 -5M1078 472l6 6m-6 0l6 -6M1079 460l5 5m-5 0l5 -5M1079 494l6 6m-6 0l6 -6M1080 473l5 5m-5 0l5 -5M1080 499l6 6m-6 0l6 -6M1081 506l5 5m-5 0l5 -5M1081 467l5 5m-5 0l5 -5M1081 460l6 6m-6 0l6 -6M1082 500l5 5m-5 0l5 -5M1082 488l6 6m-6 0l6 -6M1083 490l5 5m-5 0l5 -5M1083 477l6 6m-6 0l6 -6M1084 491l5 5m-5 0l5 -5M1084 491l5 5m-5 0l5 -5M1084 465l6 6m-6 0l6 -6M1085 500l5 5m-5 0l5 -5M1085 498l6 6m-6 0l6 -6M1086 468l5 5m-5 0l5 -5M1086 488l6 6m-6 0l6 -6M1087 462l5 5m-5 0l5 -5M1087 452l5 5m-5 0l5 -5M1087 465l6 6m-6 0l6 -6M1088 469l5 5m-5 0l5 -5M1088 479l6 6m-6 0l6 -6M1089 475l5 5m-5 0l5 -5M1089 478l6 6m-6 0l6 -6M1090 480l5 5m-5 0l5 -5M1090 469l5 5m-5 0l5 -5M1090 474l6 6m-6 0l6 -6M1091 484l5 5m-5 0l5 -5M1091 444l6 6m-6 0l6 -6M1092 457l5 5m-5 0l5 -5M1092 467l6 6m-6 0l6 -6M1093 494l5 5m-5 0l5 -5M1093 499l5 5m-5 0l5 -5M1093 489l6 6m-6 0l6 -6M1094 468l5 5m-5 0l5 -5M1094 487l6 6m-6 0l6 -6M1095 457l5 5m-5 0l5 -5M1095 468l6 6m-6 0l6 -6M1096 474l5 5m-5 0l5 -5M1096 485l5 5m-5 0l5 -5M1096 461l6 6m-6 0l6 -6M1097 510l5 5m-5 0l5 -5M1097 480l6 6m-6 0l6 -6M1098 487l5 5m-5 0l5 -5M1098 476l6 6m-6 0l6 -6M1099 473l5 5m-5 0l5 -5M1099 468l5 5m-5 0l5 -5M1099 474l6 6m-6 0l6 -6M1100 469l5 5m-5 0l5 -5M1100 473l6 6m-6 0l6 -6M1101 451l5 5m-5 0l5 -5M1101 497l6 6m-6 0l6 -6M1102 481l5 5m-5 0l5 -5M1102 502l5 5m-5 0l5 -5M1102 484l6 6m-6 0l6 -6M1103 467l5 5m-5 0l5 -5M1103 471l6 6m-6 0l6 -6M1104 490l5 5m-5 0l5 -5M1104 461l6 6m-6 0l6 -6M1105 472l5 5m-5 0l5 -5M1105 502l5 5m-5 0l5 -5M1105 487l6 6m-6 0l6 -6M1106 476l5 5m-5 0l5 -5M1106 487l6 6m-6 0l6 -6M1107 473l5 5m-5 0l5 -5M1107 479l6 6m-6 0l6 -6M1108 471l5 5m-5 0l5 -5M1108 482l5 5m-5 0l5 -5M1108 475l6 6m-6 0l6 -6M1109 484l5 5m-5 0l5 -5M1109 464l6 6m-6 0l6 -6M1110 458l5 5m-5 0l5 -5M1110 462l6 6m-6 0l6 -6M1111 485l5 5m-5 0l5 -5M1111 476l5 5m-5 0l5 -5M1111 493l6 6m-6 0l6 -6M1112 501l5 5m-5 0l5 -5M1112 445l6 6m-6 0l6 -6M1113 469l5 5m-5 0l5 -5M1113 470l6 6m-6 0l6 -6M1114 494l5 5m-5 0l5 -5M1114 440l5 5m-5 0l5 -5M1114 485l6 6m-6 0l6 -6M1115 469l5 5m-5 0l5 -5M1115 484l6 6m-6 0l6 -6M1116 480l5 5m-5 0l5 -5M1116 469l6 6m-6 0l6 -6M1117 488l5 5m-5 0l5 -5M1117 485l5 5m-5 0l5 -5M1117 491l6 6m-6 0l6 -6M1118 458l5 5m-5 0l5 -5M1118 447l6 6m-6 0l6 -6M1119 488l5 5m-5 0l5 -5M1119 482l6 6m-6 0l6 -6M1120 447l5 5m-5 0l5 -5M1120 487l5 5m-5 0l5 -5M1120 485l6 6m-6 0l6 -6M1121 451l5 5m-5 0l5 -5M1121 487l6 6m-6 0l6 -6M1122 489l5 5m-5 0l5 -5M1122 468l6 6m-6 0l6 -6M1123 443l5 5m-5 0l5 -5M1123 488l5 5m-5 0l5 -5M1123 496l6 6m-6 0l6 -6M1124 462l5 5m-5 0l5 -5M1124 456l6 6m-6 0l6 -6M1125 447l5 5m-5 0l5 -5M1125 470l6 6m-6 0l6 -6M1126 487l5 5m-5 0l5 -5M1126 474l5 5m-5 0l5 -5M1126 448l6 6m-6 0l6 -6M1127 483l5 5m-5 0l5 -5M1127 445l6 6m-6 0l6 -6M1128 469l5 5m-5 0l5 -5M1128 475l6 6m-6 0l6 -6M1129 475l5 5m-5 0l5 -5M1129 480l5 5m-5 0l5 -5M1129 494l6 6m-6 0l6 -6M1130 454l5 5m-5 0l5 -5M1130 454l6 6m-6 0l6 -6M1131 468l5 5m-5 0l5 -5M1131 492l6 6m-6 0l6 -6M1132 473l5 5m-5 0l5 -5M1132 478l5 5m-5 0l5 -5M1132 460l6 6m-6 0l6 -6M1133 464l5 5m-5 0l5 -5M1133 471l6 6m-6 0l6 -6M1134 450l5 5m-5 0l5 -5M1134 477l6 6m-6 0l6 -6M1135 476l5 5m-5 0l5 -5M1135 485l5 5m-5 0l5 -5M1135 466l6 6m-6 0l6 -6M1136 482l5 5m-5 0l5 -5M1136 482l6 6m-6 0l6 -6M1137 467l5 5m-5 0l5 -5M1137 469l6 6m-6 0l6 -6M1138 472l5 5m-5 0l5 -5M1138 479l5 5m-5 0l5 -5M1138 468l6 6m-6 0l6 -6M1139 461l5 5m-5 0l5 -5M1139 461l6 6m-6 0l6 -6M1140 473l5 5m-5 0l5 -5M1140 471l6 6m-6 0l6 -6M1141 482l5 5m-5 0l5 -5M1141 462l5 5m-5 0l5 -5M1142 462l5 5m-5 0l5 -5M1142 479l5 5m-5 0l5 -5M1142 523l6 6m-6 0l6 -6M1143 440l5 5m-5 0l5 -5M1143 462l6 6m-6 0l6 -6M1144 468l5 5m-5 0l5 -5M1144 480l5 5m-5 0l5 -5M1145 498l5 5m-5 0l5 -5M1145 504l5 5m-5 0l5 -5M1145 472l6 6m-6 0l6 -6M1146 482l5 5m-5 0l5 -5M1146 453l6 6m-6 0l6 -6M1147 464l5 5m-5 0l5 -5M1147 459l5 5m-5 0l5 -5M1148 485l5 5m-5 0l5 -5M1148 471l5 5m-5 0l5 -5M1148 444l6 6m-6 0l6 -6M1149 478l5 5m-5 0l5 -5M1149 434l6 6m-6 0l6 -6M1150 460l5 5m-5 0l5 -5M1150 494l5 5m-5 0l5 -5M1151 453l5 5m-5 0l5 -5M1151 439l5 5m-5 0l5 -5M1151 439l6 6m-6 0l6 -6M1152 484l5 5m-5 0l5 -5M1152 458l6 6m-6 0l6 -6M1153 432l5 5m-5 0l5 -5M1153 441l5 5m-5 0l5 -5M1154 439l5 5m-5 0l5 -5M1154 436l5 5m-5 0l5 -5M1154 451l6 6m-6 0l6 -6M1155 437l5 5m-5 0l5 -5M1155 434l6 6m-6 0l6 -6M1156 456l5 5m-5 0l5 -5M1156 490l5 5m-5 0l5 -5M1157 436l5 5m-5 0l5 -5M1157 460l5 5m-5 0l5 -5M1157 433l6 6m-6 0l6 -6M1158 455l5 5m-5 0l5 -5M1158 463l6 6m-6 0l6 -6M1159 463l5 5m-5 0l5 -5M1159 464l6 6m-6 0l6 -6M1160 456l5 5m-5 0l5 -5M1160 464l5 5m-5 0l5 -5M1160 477l6 6m-6 0l6 -6M1161 455l5 5m-5 0l5 -5M1161 426l6 6m-6 0l6 -6M1162 440l5 5m-5 0l5 -5M1162 480l6 6m-6 0l6 -6M1163 448l5 5m-5 0l5 -5M1163 466l5 5m-5 0l5 -5M1163 451l6 6m-6 0l6 -6M1164 454l5 5m-5 0l5 -5M1164 443l6 6m-6 0l6 -6M1165 460l5 5m-5 0l5 -5M1165 469l6 6m-6 0l6 -6M1166 475l5 5m-5 0l5 -5M1166 463l5 5m-5 0l5 -5M1166 454l6 6m-6 0l6 -6M1167 465l5 5m-5 0l5 -5M1167 477l6 6m-6 0l6 -6M1168 439l5 5m-5 0l5 -5M1168 462l6 6m-6 0l6 -6M1169 449l5 5m-5 0l5 -5M1169 487l5 5m-5 0l5 -5M1169 446l6 6m-6 0l6 -6M1170 464l5 5m-5 0l5 -5M1170 442l6 6m-6 0l6 -6M1171 457l5 5m-5 0l5 -5M1171 466l6 6m-6 0l6 -6M1172 471l5 5m-5 0l5 -5M1172 442l5 5m-5 0l5 -5M1172 444l6 6m-6 0l6 -6M1173 462l5 5m-5 0l5 -5M1173 464l6 6m-6 0l6 -6M1174 497l5 5m-5 0l5 -5M1174 471l6 6m-6 0l6 -6M1175 488l5 5m-5 0l5 -5M1175 458l5 5m-5 0l5 -5M1175 438l6 6m-6 0l6 -6M1176 485l5 5m-5 0l5 -5M1176 462l6 6m-6 0l6 -6M1177 465l5 5m-5 0l5 -5M1177 468l6 6m-6 0l6 -6M1178 476l5 5m-5 0l5 -5M1178 491l5 5m-5 0l5 -5M1178 456l6 6m-6 0l6 -6M1179 449l5 5m-5 0l5 -5M1179 465l6 6m-6 0l6 -6M1180 462l5 5m-5 0l5 -5M1180 479l6 6m-6 0l6 -6M1181 487l5 5m-5 0l5 -5M1181 494l5 5m-5 0l5 -5M1181 431l6 6m-6 0l6 -6M1182 470l5 5m-5 0l5 -5M1182 482l6 6m-6 0l6 -6M1183 465l5 5m-5 0l5 -5M1183 459l6 6m-6 0l6 -6M1184 455l5 5m-5 0l5 -5M1184 470l5 5m-5 0l5 -5M1184 453l6 6m-6 0l6 -6M1185 463l5 5m-5 0l5 -5M1185 452l6 6m-6 0l6 -6M1186 453l5 5m-5 0l5 -5M1186 447l6 6m-6 0l6 -6M1187 481l5 5m-5 0l5 -5M1187 473l5 5m-5 0l5 -5M1187 473l6 6m-6 0l6 -6M1188 452l5 5m-5 0l5 -5M1188 484l6 6m-6 0l6 -6M1189 445l5 5m-5 0l5 -5M1189 478l6 6m-6 0l6 -6M1190 461l5 5m-5 0l5 -5M1190 455l5 5m-5 0l5 -5M1190 451l6 6m-6 0l6 -6M1191 469l5 5m-5 0l5 -5M1191 481l6 6m-6 0l6 -6M1192 457l5 5m-5 0l5 -5M1192 444l6 6m-6 0l6 -6M1193 464l5 5m-5 0l5 -5M1193 488l5 5m-5 0l5 -5M1193 477l6 6m-6 0l6 -6M1194 472l5 5m-5 0l5 -5M1194 474l6 6m-6 0l6 -6M1195 461l5 5m-5 0l5 -5M1195 476l6 6m-6 0l6 -6M1196 451l5 5m-5 0l5 -5M1196 497l5 5m-5 0l5 -5M1196 477l6 6m-6 0l6 -6M1197 474l5 5m-5 0l5 -5M1197 437l6 6m-6 0l6 -6M1198 459l5 5m-5 0l5 -5M1198 459l6 6m-6 0l6 -6M1199 431l5 5m-5 0l5 -5M1199 472l5 5m-5 0l5 -5M1199 473l6 6m-6 0l6 -6M1200 478l5 5m-5 0l5 -5M1200 473l6 6m-6 0l6 -6M1201 470l5 5m-5 0l5 -5M1201 459l6 6m-6 0l6 -6M1202 477l5 5m-5 0l5 -5M1202 458l5 5m-5 0l5 -5M1202 460l6 6m-6 0l6 -6M1203 454l5 5m-5 0l5 -5M1203 457l6 6m-6 0l6 -6M1204 450l5 5m-5 0l5 -5M1204 490l6 6m-6 0l6 -6M1205 466l5 5m-5 0l5 -5M1205 452l5 5m-5 0l5 -5M1205 486l6 6m-6 0l6 -6M1206 464l5 5m-5 0l5 -5M1206 467l6 6m-6 0l6 -6M1207 498l5 5m-5 0l5 -5M1207 488l6 6m-6 0l6 -6M1208 449l5 5m-5 0l5 -5M1208 483l5 5m-5 0l5 -5M1208 479l6 6m-6 0l6 -6M1209 471l5 5m-5 0l5 -5M1209 502l6 6m-6 0l6 -6M1210 501l5 5m-5 0l5 -5M1210 485l6 6m-6 0l6 -6M1211 466l5 5m-5 0l5 -5M1211 489l5 5m-5 0l5 -5M1211 484l6 6m-6 0l6 -6M1212 493l5 5m-5 0l5 -5M1212 473l6 6m-6 0l6 -6M1213 467l5 5m-5 0l5 -5M1213 497l6 6m-6 0l6 -6M1214 474l5 5m-5 0l5 -5M1214 470l5 5m-5 0l5 -5M1214 462l6 6m-6 0l6 -6M1215 487l5 5m-5 0l5 -5M1215 454l6 6m-6 0l6 -6M1216 463l5 5m-5 0l5 -5M1216 503l6 6m-6 0l6 -6M1217 470l5 5m-5 0l5 -5M1217 497l5 5m-5 0l5 -5M1217 458l6 6m-6 0l6 -6M1218 481l5 5m-5 0l5 -5M1218 458l6 6m-6 0l6 -6M1219 503l5 5m-5 0l5 -5M1219 456l6 6m-6 0l6 -6M1220 480l5 5m-5 0l5 -5M1220 449l5 5m-5 0l5 -5M1220 468l6 6m-6 0l6 -6M1221 496l5 5m-5 0l5 -5M1221 487l6 6m-6 0l6 -6M1222 479l5 5m-5 0l5 -5M1222 475l6 6m-6 0l6 -6M1223 476l5 5m-5 0l5 -5M1223 473l5 5m-5 0l5 -5M1224 487l5 5m-5 0l5 -5M1224 490l5 5m-5 0l5 -5M1224 483l6 6m-6 0l6 -6M1225 444l5 5m-5 0l5 -5M1225 444l6 6m-6 0l6 -6M1226 452l5 5m-5 0l5 -5M1226 474l5 5m-5 0l5 -5M1227 492l5 5m-5 0l5 -5M1227 472l5 5m-5 0l5 -5M1227 476l6 6m-6 0l6 -6M1228 466l5 5m-5 0l5 -5M1228 468l6 6m-6 0l6 -6M1229 484l5 5m-5 0l5 -5M1229 480l5 5m-5 0l5 -5M1230 468l5 5m-5 0l5 -5M1230 460l5 5m-5 0l5 -5M1230 484l6 6m-6 0l6 -6M1231 477l5 5m-5 0l5 -5M1231 466l6 6m-6 0l6 -6M1232 464l5 5m-5 0l5 -5M1232 486l5 5m-5 0l5 -5M1233 473l5 5m-5 0l5 -5M1233 468l5 5m-5 0l5 -5M1233 471l6 6m-6 0l6 -6M1234 462l5 5m-5 0l5 -5M1234 445l6 6m-6 0l6 -6M1235 470l5 5m-5 0l5 -5M1235 470l5 5m-5 0l5 -5M1236 469l5 5m-5 0l5 -5M1236 469l5 5m-5 0l5 -5M1236 483l6 6m-6 0l6 -6M1237 492l5 5m-5 0l5 -5M1237 450l6 6m-6 0l6 -6M1238 473l5 5m-5 0l5 -5M1238 498l5 5m-5 0l5 -5M1239 514l5 5m-5 0l5 -5M1239 482l5 5m-5 0l5 -5M1239 448l6 6m-6 0l6 -6M1240 477l5 5m-5 0l5 -5M1240 459l6 6m-6 0l6 -6M1241 459l5 5m-5 0l5 -5M1241 511l6 6m-6 0l6 -6M1242 502l5 5m-5 0l5 -5M1242 495l5 5m-5 0l5 -5M1242 499l6 6m-6 0l6 -6M1243 497l5 5m-5 0l5 -5M1243 476l6 6m-6 0l6 -6M1244 470l5 5m-5 0l5 -5M1244 457l6 6m-6 0l6 -6M1245 472l5 5m-5 0l5 -5M1245 488l5 5m-5 0l5 -5M1245 466l6 6m-6 0l6 -6M1246 498l5 5m-5 0l5 -5M1246 458l6 6m-6 0l6 -6M1247 492l5 5m-5 0l5 -5M1247 465l6 6m-6 0l6 -6M1248 507l5 5m-5 0l5 -5M1248 470l5 5m-5 0l5 -5M1248 458l6 6m-6 0l6 -6M1249 478l5 5m-5 0l5 -5M1249 488l6 6m-6 0l6 -6M1250 461l5 5m-5 0l5 -5M1250 490l6 6m-6 0l6 -6M1251 480l5 5m-5 0l5 -5M1251 470l5 5m-5 0l5 -5M1251 479l6 6m-6 0l6 -6M1252 478l5 5m-5 0l5 -5M1252 467l6 6m-6 0l6 -6M1253 485l5 5m-5 0l5 -5M1253 485l6 6m-6 0l6 -6M1254 478l5 5m-5 0l5 -5M1254 493l5 5m-5 0l5 -5M1254 491l6 6m-6 0l6 -6M1255 474l5 5m-5 0l5 -5M1255 481l6 6m-6 0l6 -6M1256 433l5 5m-5 0l5 -5M1256 470l6 6m-6 0l6 -6M1257 478l5 5m-5 0l5 -5M1257 476l5 5m-5 0l5 -5M1257 475l6 6m-6 0l6 -6M1258 465l5 5m-5 0l5 -5M1258 454l6 6m-6 0l6 -6M1259 473l5 5m-5 0l5 -5M1259 444l6 6m-6 0l6 -6M1260 419l5 5m-5 0l5 -5M1260 443l5 5m-5 0l5 -5M1260 466l6 6m-6 0l6 -6M1261 471l5 5m-5 0l5 -5M1261 461l6 6m-6 0l6 -6M1262 477l5 5m-5 0l5 -5M1262 476l6 6m-6 0l6 -6M1263 466l5 5m-5 0l5 -5M1263 478l5 5m-5 0l5 -5M1263 468l6 6m-6 0l6 -6M1264 479l5 5m-5 0l5 -5M1264 483l6 6m-6 0l6 -6M1265 453l5 5m-5 0l5 -5M1265 487l6 6m-6 0l6 -6M1266 476l5 5m-5 0l5 -5M1266 488l5 5m-5 0l5 -5M1266 474l6 6m-6 0l6 -6M1267 464l5 5m-5 0l5 -5M1267 483l6 6m-6 0l6 -6M1268 475l5 5m-5 0l5 -5M1268 508l6 6m-6 0l6 -6M1269 480l5 5m-5 0l5 -5M1269 491l5 5m-5 0l5 -5M1269 454l6 6m-6 0l6 -6M1270 470l5 5m-5 0l5 -5M1270 494l6 6m-6 0l6 -6M1271 480l5 5m-5 0l5 -5M1271 471l6 6m-6 0l6 -6M1272 472l5 5m-5 0l5 -5M1272 492l5 5m-5 0l5 -5M1272 488l6 6m-6 0l6 -6M1273 487l5 5m-5 0l5 -5M1273 470l6 6m-6 0l6 -6M1274 475l5 5m-5 0l5 -5M1274 470l6 6m-6 0l6 -6M1275 476l5 5m-5 0l5 -5M1275 475l5 5m-5 0l5 -5M1275 496l6 6m-6 0l6 -6M1276 505l5 5m-5 0l5 -5M1276 471l6 6m-6 0l6 -6M1277 475l5 5m-5 0l5 -5M1277 478l6 6m-6 0l6 -6M1278 467l5 5m-5 0l5 -5M1278 522l5 5m-5 0l5 -5M1278 462l6 6m-6 0l6 -6M1279 487l5 5m-5 0l5 -5M1279 490l6 6m-6 0l6 -6M1280 460l5 5m-5 0l5 -5M1280 478l6 6m-6 0l6 -6M1281 461l5 5m-5 0l5 -5M1281 476l5 5m-5 0l5 -5M1281 458l6 6m-6 0l6 -6M1282 474l5 5m-5 0l5 -5M1282 507l6 6m-6 0l6 -6M1283 463l5 5m-5 0l5 -5M1283 478l6 6m-6 0l6 -6M1284 449l5 5m-5 0l5 -5M1284 483l5 5m-5 0l5 -5M1284 468l6 6m-6 0l6 -6M1285 480l5 5m-5 0l5 -5M1285 465l6 6m-6 0l6 -6M1286 488l5 5m-5 0l5 -5M1286 480l6 6m-6 0l6 -6M1287 472l5 5m-5 0l5 -5M1287 484l5 5m-5 0l5 -5M1287 485l6 6m-6 0l6 -6M1288 462l5 5m-5 0l5 -5M1288 499l6 6m-6 0l6 -6M1289 458l5 5m-5 0l5 -5M1289 500l6 6m-6 0l6 -6M1290 475l5 5m-5 0l5 -5M1290 465l5 5m-5 0l5 -5M1290 498l6 6m-6 0l6 -6M1291 490l5 5m-5 0l5 -5M1291 467l6 6m-6 0l6 -6M1292 481l5 5m-5 0l5 -5M1292 496l6 6m-6 0l6 -6M1293 456l5 5m-5 0l5 -5M1293 470l5 5m-5 0l5 -5M1293 475l6 6m-6 0l6 -6M1294 474l5 5m-5 0l5 -5M1294 491l6 6m-6 0l6 -6M1295 474l5 5m-5 0l5 -5M1295 489l6 6m-6 0l6 -6M1296 462l5 5m-5 0l5 -5M1296 466l5 5m-5 0l5 -5M1296 465l6 6m-6 0l6 -6M1297 485l5 5m-5 0l5 -5M1297 450l6 6m-6 0l6 -6M1298 460l5 5m-5 0l5 -5M1298 486l6 6m-6 0l6 -6M1299 531l5 5m-5 0l5 -5M1299 481l5 5m-5 0l5 -5M1300 528l5 5m-5 0l5 -5M1300 483l5 5m-5 0l5 -5M1300 461l6 6m-6 0l6 -6M1301 460l5 5m-5 0l5 -5M1301 475l6 6m-6 0l6 -6M1302 484l5 5m-5 0l5 -5M1302 502l5 5m-5 0l5 -5M1302 501l6 6m-6 0l6 -6M1303 488l5 5m-5 0l5 -5M1303 489l6 6m-6 0l6 -6M1304 488l5 5m-5 0l5 -5M1304 472l6 6m-6 0l6 -6M1305 482l5 5m-5 0l5 -5M1305 501l5 5m-5 0l5 -5M1306 492l5 5m-5 0l5 -5M1306 474l5 5m-5 0l5 -5M1306 459l6 6m-6 0l6 -6M1307 487l5 5m-5 0l5 -5M1307 487l6 6m-6 0l6 -6M1308 466l5 5m-5 0l5 -5M1308 465l5 5m-5 0l5 -5M1309 442l5 5m-5 0l5 -5M1309 499l5 5m-5 0l5 -5M1309 486l6 6m-6 0l6 -6M1310 471l5 5m-5 0l5 -5M1310 501l6 6m-6 0l6 -6M1311 488l5 5m-5 0l5 -5M1311 489l5 5m-5 0l5 -5M1312 482l5 5m-5 0l5 -5M1312 484l5 5m-5 0l5 -5M1312 476l6 6m-6 0l6 -6M1313 497l5 5m-5 0l5 -5M1313 495l6 6m-6 0l6 -6M1314 498l5 5m-5 0l5 -5M1314 438l5 5m-5 0l5 -5M1315 476l5 5m-5 0l5 -5M1315 485l5 5m-5 0l5 -5M1315 519l6 6m-6 0l6 -6M1316 475l5 5m-5 0l5 -5M1316 480l6 6m-6 0l6 -6M1317 497l5 5m-5 0l5 -5M1317 475l5 5m-5 0l5 -5M1318 488l5 5m-5 0l5 -5M1318 475l5 5m-5 0l5 -5M1318 493l6 6m-6 0l6 -6M1319 498l5 5m-5 0l5 -5M1319 494l6 6m-6 0l6 -6M1320 507l5 5m-5 0l5 -5M1320 466l5 5m-5 0l5 -5M1321 474l5 5m-5 0l5 -5M1321 487l5 5m-5 0l5 -5M1321 486l6 6m-6 0l6 -6M1322 506l5 5m-5 0l5 -5M1322 468l6 6m-6 0l6 -6M1323 503l5 5m-5 0l5 -5M1323 488l6 6m-6 0l6 -6M1324 466l5 5m-5 0l5 -5M1324 485l5 5m-5 0l5 -5M1324 489l6 6m-6 0l6 -6M1325 494l5 5m-5 0l5 -5M1325 499l6 6m-6 0l6 -6M1326 464l5 5m-5 0l5 -5M1326 470l6 6m-6 0l6 -6M1327 490l5 5m-5 0l5 -5M1327 475l5 5m-5 0l5 -5M1327 469l6 6m-6 0l6 -6M1328 499l5 5m-5 0l5 -5M1328 470l6 6m-6 0l6 -6M1329 481l5 5m-5 0l5 -5M1329 475l6 6m-6 0l6 -6M1330 482l5 5m-5 0l5 -5M1330 482l5 5m-5 0l5 -5M1330 500l6 6m-6 0l6 -6M1331 499l5 5m-5 0l5 -5M1331 505l6 6m-6 0l6 -6M1332 473l5 5m-5 0l5 -5M1332 469l6 6m-6 0l6 -6M1333 513l5 5m-5 0l5 -5M1333 498l5 5m-5 0l5 -5M1333 477l6 6m-6 0l6 -6M1334 464l5 5m-5 0l5 -5M1334 465l6 6m-6 0l6 -6M1335 493l5 5m-5 0l5 -5M1335 478l6 6m-6 0l6 -6M1336 490l5 5m-5 0l5 -5M1336 504l5 5m-5 0l5 -5M1336 457l6 6m-6 0l6 -6M1337 509l5 5m-5 0l5 -5M1337 537l6 6m-6 0l6 -6M1338 489l5 5m-5 0l5 -5M1338 522l6 6m-6 0l6 -6M1339 514l5 5m-5 0l5 -5M1339 526l5 5m-5 0l5 -5M1339 495l6 6m-6 0l6 -6M1340 477l5 5m-5 0l5 -5M1340 511l6 6m-6 0l6 -6M1341 483l5 5m-5 0l5 -5M1341 485l6 6m-6 0l6 -6M1342 503l5 5m-5 0l5 -5M1342 463l5 5m-5 0l5 -5M1342 478l6 6m-6 0l6 -6M1343 479l5 5m-5 0l5 -5M1343 519l6 6m-6 0l6 -6M1344 480l5 5m-5 0l5 -5M1344 468l6 6m-6 0l6 -6M1345 491l5 5m-5 0l5 -5M1345 468l5 5m-5 0l5 -5M1345 505l6 6m-6 0l6 -6M1346 466l5 5m-5 0l5 -5M1346 493l6 6m-6 0l6 -6M1347 466l5 5m-5 0l5 -5M1347 474l6 6m-6 0l6 -6M1348 466l5 5m-5 0l5 -5M1348 513l5 5m-5 0l5 -5M1348 471l6 6m-6 0l6 -6M1349 467l5 5m-5 0l5 -5M1349 467l6 6m-6 0l6 -6M1350 495l5 5m-5 0l5 -5M1350 515l6 6m-6 0l6 -6M1351 492l5 5m-5 0l5 -5M1351 475l5 5m-5 0l5 -5M1351 484l6 6m-6 0l6 -6M1352 492l5 5m-5 0l5 -5M1352 485l6 6m-6 0l6 -6M1353 513l5 5m-5 0l5 -5M1353 503l6 6m-6 0l6 -6M1354 468l5 5m-5 0l5 -5M1354 476l5 5m-5 0l5 -5M1354 483l6 6m-6 0l6 -6M1355 488l5 5m-5 0l5 -5M1355 475l6 6m-6 0l6 -6M1356 473l5 5m-5 0l5 -5M1356 469l6 6m-6 0l6 -6M1357 491l5 5m-5 0l5 -5M1357 464l5 5m-5 0l5 -5M1357 510l6 6m-6 0l6 -6M1358 501l5 5m-5 0l5 -5M1358 471l6 6m-6 0l6 -6M1359 484l5 5m-5 0l5 -5M1359 498l6 6m-6 0l6 -6M1360 486l5 5m-5 0l5 -5M1360 469l5 5m-5 0l5 -5M1360 464l6 6m-6 0l6 -6M1361 480l5 5m-5 0l5 -5M1361 491l6 6m-6 0l6 -6M1362 508l5 5m-5 0l5 -5M1362 464l6 6m-6 0l6 -6M1363 476l5 5m-5 0l5 -5M1363 489l5 5m-5 0l5 -5M1363 500l6 6m-6 0l6 -6M1364 490l5 5m-5 0l5 -5M1364 500l6 6m-6 0l6 -6M1365 503l5 5m-5 0l5 -5M1365 507l6 6m-6 0l6 -6M1366 522l5 5m-5 0l5 -5M1366 463l5 5m-5 0l5 -5M1366 478l6 6m-6 0l6 -6M1367 498l5 5m-5 0l5 -5M1367 512l6 6m-6 0l6 -6M1368 496l5 5m-5 0l5 -5M1368 492l6 6m-6 0l6 -6M1369 467l5 5m-5 0l5 -5M1369 473l5 5m-5 0l5 -5M1369 510l6 6m-6 0l6 -6M1370 497l5 5m-5 0l5 -5M1370 498l6 6m-6 0l6 -6M1371 519l5 5m-5 0l5 -5M1371 520l6 6m-6 0l6 -6M1372 494l5 5m-5 0l5 -5M1372 490l5 5m-5 0l5 -5M1372 478l6 6m-6 0l6 -6M1373 508l5 5m-5 0l5 -5M1373 492l6 6m-6 0l6 -6M1374 476l5 5m-5 0l5 -5M1374 510l6 6m-6 0l6 -6M1375 509l5 5m-5 0l5 -5M1375 501l5 5m-5 0l5 -5M1375 489l6 6m-6 0l6 -6M1376 511l5 5m-5 0l5 -5M1376 524l6 6m-6 0l6 -6M1377 466l5 5m-5 0l5 -5M1377 512l6 6m-6 0l6 -6M1378 475l5 5m-5 0l5 -5M1378 520l5 5m-5 0l5 -5M1378 544l6 6m-6 0l6 -6M1379 526l6 6m-6 0l6 -6M1379 492l6 6m-6 0l6 -6M1380 478l5 5m-5 0l5 -5M1380 469l6 6m-6 0l6 -6M1381 528l5 5m-5 0l5 -5M1381 482l5 5m-5 0l5 -5M1381 490l6 6m-6 0l6 -6M1382 492l5 5m-5 0l5 -5M1382 515l6 6m-6 0l6 -6M1383 489l5 5m-5 0l5 -5M1383 475l6 6m-6 0l6 -6M1384 464l5 5m-5 0l5 -5M1384 492l5 5m-5 0l5 -5M1384 508l6 6m-6 0l6 -6M1385 481l5 5m-5 0l5 -5M1385 480l6 6m-6 0l6 -6M1386 516l5 5m-5 0l5 -5M1386 500l6 6m-6 0l6 -6M1387 488l5 5m-5 0l5 -5M1387 483l5 5m-5 0l5 -5M1388 488l5 5m-5 0l5 -5M1388 472l5 5m-5 0l5 -5M1388 506l6 6m-6 0l6 -6M1389 473l5 5m-5 0l5 -5M1389 494l6 6m-6 0l6 -6M1390 493l5 5m-5 0l5 -5M1390 496l5 5m-5 0l5 -5M1391 505l5 5m-5 0l5 -5M1391 488l5 5m-5 0l5 -5M1391 500l6 6m-6 0l6 -6M1392 508l5 5m-5 0l5 -5M1392 494l6 6m-6 0l6 -6M1393 504l5 5m-5 0l5 -5M1393 499l5 5m-5 0l5 -5M1394 515l5 5m-5 0l5 -5M1394 494l5 5m-5 0l5 -5M1394 497l6 6m-6 0l6 -6M1395 500l5 5m-5 0l5 -5M1395 499l6 6m-6 0l6 -6M1396 502l5 5m-5 0l5 -5M1396 486l5 5m-5 0l5 -5M1397 504l5 5m-5 0l5 -5M1397 490l5 5m-5 0l5 -5M1397 509l6 6m-6 0l6 -6M1398 498l5 5m-5 0l5 -5M1398 507l6 6m-6 0l6 -6M1399 503l5 5m-5 0l5 -5M1399 479l5 5m-5 0l5 -5M1400 474l5 5m-5 0l5 -5M1400 501l5 5m-5 0l5 -5M1400 504l6 6m-6 0l6 -6M1401 496l5 5m-5 0l5 -5M1401 501l6 6m-6 0l6 -6M1402 482l5 5m-5 0l5 -5M1402 510l5 5m-5 0l5 -5M1403 508l5 5m-5 0l5 -5M1403 485l5 5m-5 0l5 -5M1403 515l6 6m-6 0l6 -6M1404 496l5 5m-5 0l5 -5M1404 487l6 6m-6 0l6 -6M1405 493l5 5m-5 0l5 -5M1405 517l6 6m-6 0l6 -6M1406 474l5 5m-5 0l5 -5M1406 488l5 5m-5 0l5 -5M1406 493l6 6m-6 0l6 -6M1407 485l5 5m-5 0l5 -5M1407 513l6 6m-6 0l6 -6M1408 503l5 5m-5 0l5 -5M1408 480l6 6m-6 0l6 -6M1409 497l5 5m-5 0l5 -5M1409 481l5 5m-5 0l5 -5M1409 492l6 6m-6 0l6 -6M1410 493l5 5m-5 0l5 -5M1410 497l6 6m-6 0l6 -6M1411 508l5 5m-5 0l5 -5M1411 487l6 6m-6 0l6 -6M1412 481l5 5m-5 0l5 -5M1412 521l5 5m-5 0l5 -5M1412 522l6 6m-6 0l6 -6M1413 483l5 5m-5 0l5 -5M1413 501l6 6m-6 0l6 -6M1414 495l5 5m-5 0l5 -5M1414 497l6 6m-6 0l6 -6M1415 510l5 5m-5 0l5 -5M1415 490l5 5m-5 0l5 -5M1415 508l6 6m-6 0l6 -6M1416 526l5 5m-5 0l5 -5M1416 485l6 6m-6 0l6 -6M1417 483l5 5m-5 0l5 -5M1417 529l5 5m-5 0l5 -5M1418 532l5 5m-5 0l5 -5M1418 515l5 5m-5 0l5 -5M1418 506l6 6m-6 0l6 -6M1419 512l5 5m-5 0l5 -5M1419 505l6 6m-6 0l6 -6M1420 514l5 5m-5 0l5 -5" stroke="#000" stroke-width="1" fill="none" shape-rendering="crispEdges"/>
<path d="M162.5 581.9L164.5 582.1L166.5 582.3L168.5 582.5L170.5 582.7L172.5 582.8L174.5 583L176.5 583.2L178.5 583.4L180.5 583.6L182.5 584L184.5 584.6L186.5 585.2L188.5 585.7L190.5 586.2L192.5 586.5L194.5 586.7L196.5 586.9L198.5 587.2L200.5 587.4L202.5 587.6L204.5 587.9L206.5 588.1L208.5 588.3L210.5 588.5L212.5 588.8M218.5 588.6L220.5 588.5L222.5 588.5L224.5 588.4L226.5 588.8L228.5 589.2L230.5 589.6L232.5 590L234.5 590.4L236.5 590.8L238.5 591M242.5 591L244.5 591L246.5 591L248.5 591L250.5 591L252.5 591L254.5 591.4L256.5 591.9L258.5 592.3L260.5 592.7L262.5 593.1L264.5 593.2L266.5 593.1L268.5 593.1L270.5 593L272.5 592.9L274.5 592.8L276.5 592.8L278.5 593L280.5 593.3L282.5 593.6L284.5 593.9L286.5 594.2L288.5 594.4L290.5 594.7L292.5 595L294.5 595.2L296.5 595.3L298.5 595.4L300.5 595.5L302.5 595.6L304.5 595.7L306.5 595.8L308.5 595.9L310.5 596.1L312.5 596.2L314.5 596.3L316.5 596.4L318.5 596.6L320.5 596.7L322.5 596.9L324.5 597L326.5 597.2L328.5 597.3L330.5 597.5L332.5 597.6L334.5 597.7L336.5 597.8L338.5 597.9L340.5 598L342.5 598L344.5 598.1L346.5 598.2L348.5 598.3L350.5 598.4L352.5 598.5L354.5 598.7L356.5 599.2L358.5 599.7L360.5 600.1L362.5 600.6L364.5 601.1L366.5 601.6L368.5 602L370.5 602.5L372.5 602.6L374.5 602.1L376.5 601.6L378.5 601.1L380.5 600.6L382.5 600.1L384.5 599.7L386.5 599.5L388.5 599.3L390.5 599.1L392.5 598.9L394.5 598.7L396.5 598.5L398.5 597.6L400.5 596.6L402.5 595.6L404.5 594.8L406.5 595L408.5 595.2L410.5 595.4L412.5 595.6L414.5 595.8L416.5 595.7L418.5 595.2L420.5 594.8L422.5 594.9L424.5 595L426.5 595.1L428.5 595.2L430.5 595.3L432.5 595.4L434.5 595.5M438.5 594.2L440.5 593.9L442.5 594.2L444.5 594.5L446.5 594.8L448.5 595.1L450.5 595.4L452.5 595.7L454.5 596L456.5 596.3L458.5 596.5L460.5 596.8L462.5 597.1L464.5 597.3L466.5 597.6L468.5 599L470.5 600.4L472.5 601.8L474.5 603.2L476.5 604.3L478.5 603.1L480.5 602L482.5 600.8L484.5 601.2L486.5 602L488.5 602.7L490.5 603.5L492.5 604.2L494.5 605L496.5 605.7L498.5 606.5L500.5 607.2L502.5 607.4L504.5 607.7L506.5 607.9L508.5 608.2L510.5 609.4L512.5 610.7L514.5 612L516.5 612.9L518.5 613.5L520.5 614.1L522.5 614.7L524.5 615.3L526.5 615.9L528.5 616.6L530.5 617.3L532.5 618.1L534.5 618.8L536.5 619.5L538.5 620.2L540.5 620.9L542.5 620.9L544.5 620.7L546.5 620.5L548.5 620.2L550.5 620L552.5 619.8L554.5 619.6L556.5 619.3L558.5 619.1L560.5 618.9L562.5 618.6L564.5 618.4L566.5 618.1L568.5 617.9L570.5 617.6L572.5 617.4L574.5 617.2L576.5 616.9L578.5 617L580.5 617.3L582.5 617.6L584.5 617.9L586.5 618.3L588.5 618.6L590.5 618.9L592.5 619L594.5 619.1L596.5 619.3L598.5 619.4L600.5 619.8L602.5 620.3L604.5 620.7L606.5 621.2L608.5 621L610.5 619.7L612.5 618.5L614.5 617.3L616.5 616.2L618.5 615.5L620.5 614.8L622.5 614.1L624.5 613.4L626.5 612.7L628.5 612L630.5 611.3L632.5 610.6L634.5 609.8L636.5 608.9L638.5 608L640.5 607.2L642.5 606.3L644.5 605.4L646.5 604.5L648.5 603.6L650.5 602.7L652.5 601.8L654.5 602.2L656.5 602.9L658.5 603.2L660.5 601.8L662.5 600.3L664.5 599.2L666.5 598.3L668.5 597.5L670.5 596.7L672.5 595.8L674.5 595L676.5 594.1L678.5 593.3L680.5 592.4L682.5 591.6L684.5 590.8L686.5 590L688.5 589.2L690.5 588.4L692.5 587.7L694.5 586.9L696.5 586.1L698.5 585.4L700.5 584.6L702.5 583.8L704.5 583.1L706.5 582.3L708.5 581.5L710.5 580.8L712.5 580L714.5 579.2L716.5 578.4L718.5 577.6L720.5 576.8L722.5 576L724.5 575.2L726.5 574.4L728.5 573.6L730.5 572.8L732.5 572L734.5 571.2L736.5 570.4L738.5 569.6L740.5 568.7L742.5 567.8L744.5 566.9L746.5 566L748.5 565.1L750.5 564.2L752.5 563.3L754.5 562.4L756.5 561.5L758.5 560.6L760.5 559.7L762.5 558.8L764.5 557.8L766.5 556.9L768.5 555.9L770.5 555L772.5 554L774.5 553.1L776.5 552.2L778.5 551.2L780.5 550.2L782.5 549L784.5 547.8L786.5 546.6L788.5 545.4L790.5 544.2L792.5 543L794.5 541.8L796.5 540.6L798.5 539.4L800.5 538.2L802.5 537.2L804.5 536.3L806.5 535.5L808.5 534.7L810.5 533.8L812.5 533L814.5 532.2L816.5 531.3L818.5 530.5L820.5 529.6L822.5 528.8L824.5 527.8L826.5 526.7L828.5 525.7L830.5 524.6L832.5 523.6L834.5 522.5L836.5 521.4L838.5 520.4L840.5 519.3L842.5 518.3L844.5 517.2L846.5 515.7L848.5 514.2L850.5 512.7L852.5 511.2L854.5 509.7L856.5 508.2L858.5 506.7L860.5 505.2L862.5 504L864.5 503.1L866.5 502.3L868.5 501.5L870.5 500.6L872.5 499.8L874.5 498.9L876.5 497.6L878.5 496.3L880.5 495L882.5 493.7L884.5 492.6L886.5 493.1L888.5 493.7L890.5 494L892.5 493.9L894.5 493.8L896.5 493.7L898.5 493.7L900.5 493.6L902.5 493.5L904.5 493.2L906.5 493L908.5 492.7L910.5 492.4L912.5 492.1L914.5 491.8L916.5 491.5L918.5 491.2L920.5 490.8L922.5 490.5L924.5 490.2L926.5 489.9L928.5 489.5L930.5 489.2L932.5 489.1L934.5 489L936.5 488.9L938.5 488.7L940.5 488.6L942.5 488.5L944.5 488.4L946.5 488.3L948.5 488.1L950.5 487.9L952.5 487.7L954.5 487.5L956.5 487.3L958.5 487.1L960.5 486.9L962.5 486.7L964.5 486.5L966.5 486.3L968.5 486.1L970.5 485.8L972.5 485.4L974.5 485L976.5 484.6L978.5 484.3L980.5 483.9L982.5 483.5L984.5 483.2L986.5 482.8L988.5 482.2L990.5 481.7L992.5 481.1L994.5 480.6L996.5 480L998.5 479.4L1000.5 478.9L1002.5 478.3L1004.5 477.8L1006.5 477.2L1008.5 476.6L1010.5 476.1L1012.5 475.5L1014.5 475L1016.5 474.4L1018.5 473.9L1020.5 473.3L1022.5 472.7L1024.5 472.2L1026.5 471.6L1028.5 471.1L1030.5 470.5L1032.5 470L1034.5 469.5L1036.5 468.9L1038.5 468.4L1040.5 467.8L1042.5 467.3L1044.5 466.8L1046.5 466.2L1048.5 465.7L1050.5 465.3L1052.5 464.9L1054.5 464.5L1056.5 464.1L1058.5 463.7L1060.5 463.3L1062.5 462.9L1064.5 462.5L1066.5 462.1L1068.5 461.7L1070.5 461.3L1072.5 460.8L1074.5 460.3L1076.5 459.8L1078.5 459.3L1080.5 458.8L1082.5 458.3L1084.5 457.8L1086.5 457.2L1088.5 456.6L1090.5 455.9L1092.5 455.3L1094.5 454.6L1096.5 454L1098.5 453.3L1100.5 452.8L1102.5 452.8L1104.5 452.8L1106.5 452.8L1108.5 452.8L1110.5 452.6L1112.5 452L1114.5 451.3L1116.5 450.7L1118.5 450L1120.5 449.4L1122.5 448.7L1124.5 447.8L1126.5 447L1128.5 446.1L1130.5 445.3L1132.5 444.5L1134.5 443.6L1136.5 443L1138.5 442.6L1140.5 442.1L1142.5 441.7L1144.5 441.3L1146.5 440.9L1148.5 440.4L1150.5 440L1152.5 439.6L1154.5 439.2L1156.5 438.7L1158.5 438.3L1160.5 437.9L1162.5 437.5L1164.5 437L1166.5 436.6L1168.5 436.6L1170.5 436.6L1172.5 436.6L1174.5 436.6L1176.5 436.6L1178.5 437L1180.5 437.7L1182.5 438.5L1184.5 439.3L1186.5 440.1L1188.5 440.9L1190.5 441.5L1192.5 442.1L1194.5 442.7L1196.5 443.3L1198.5 443.8L1200.5 444.4L1202.5 445L1204.5 445.6L1206.5 446L1208.5 446.4L1210.5 446.8L1212.5 447.2L1214.5 447.6L1216.5 448.1L1218.5 448.5L1220.5 448.9L1222.5 449.3L1224.5 449.7L1226.5 450.2L1228.5 450.6L1230.5 451.1L1232.5 451.5L1234.5 451.9L1236.5 452.1L1238.5 452.1L1240.5 452.1L1242.5 452.1L1244.5 452.1L1246.5 452.1L1248.5 452.1L1250.5 451.5L1252.5 450.8L1254.5 450.1L1256.5 450.1L1258.5 450.4L1260.5 450.8L1262.5 451.1L1264.5 451.4L1266.5 451.8L1268.5 452.1L1270.5 452L1272.5 451.9L1274.5 451.8L1276.5 451.7L1278.5 452L1280.5 452.5L1282.5 453L1284.5 453.5L1286.5 453.9L1288.5 453.9L1290.5 453.9L1292.5 453.9L1294.5 453.9L1296.5 453.9L1298.5 453.9L1300.5 454L1302.5 454.2L1304.5 454.5L1306.5 454.7L1308.5 454.9L1310.5 455.1L1312.5 455.4L1314.5 455.6L1316.5 455.8L1318.5 456L1320.5 456.2L1322.5 456.4L1324.5 456.6L1326.5 456.8L1328.5 457L1330.5 457.2L1332.5 457.4L1334.5 457.5L1336.5 457.7L1338.5 457.8L1340.5 458L1342.5 458.3L1344.5 458.7L1346.5 459.1L1348.5 459.4L1350.5 459.8L1352.5 460.2L1354.5 460.4L1356.5 460.5L1358.5 460.6L1360.5 460.7L1362.5 460.8L1364.5 460.9L1366.5 461.1L1368.5 461.3L1370.5 461.6L1372.5 461.9L1374.5 462.1L1376.5 462.4L1378.5 462.8L1380.5 463.4L1382.5 463.9L1384.5 464.4L1386.5 464.9L1388.5 465.4L1390.5 465.5L1392.5 465.6L1394.5 465.7L1396.5 465.9L1398.5 465.7L1400.5 465.4L1402.5 465.1L1404.5 464.8L1406.5 464.6L1408.5 464.4L1410.5 464.9L1412.5 465.5M1416.5 466.8L1418.5 467.2L1420.5 467.2L1422.5 467.2" stroke="#1e90ff" stroke-width="4" fill="none" stroke-linejoin="round" stroke-linecap="butt" shape-rendering="crispEdges"/>
</g>
<text x="200.5" y="809" font-size="30" font-weight="bold" xml:space="preserve" style="white-space:pre">_2512_CH04PT13_CHPTB.PBA35     GPS P3 (x<tspan font-size="21" dy="7">black</tspan><tspan dy="-7">) ,  TW+PPP (o</tspan><tspan font-size="21" dy="7">blue</tspan><tspan dy="-7">)  2935Ep</tspan></text>
<g clip-path="url(#c2)">
<path d="M160 1152l5 5m-5 0l5 -5M161 1156l5 5m-5 0l5 -5M161 1151l5 5m-5 0l5 -5M161 1287l6 6m-6 0l6 -6M162 1142l5 5m-5 0l5 -5M162 1137l6 6m-6 0l6 -6M163 1181l5 5m-5 0l5 -5M163 1191l5 5m-5 0l5 -5M164 1116l5 5m-5 0l5 -5M164 1135l5 5m-5 0l5 -5M164 1201l6 6m-6 0l6 -6M165 1154l5 5m-5 0l5 -5M165 1157l6 6m-6 0l6 -6M166 1191l5 5m-5 0l5 -5M166 1138l5 5m-5 0l5 -5M167 1222l5 5m-5 0l5 -5M167 1105l5 5m-5 0l5 -5M167 1172l6 6m-6 0l6 -6M168 1150l5 5m-5 0l5 -5M168 1158l6 6m-6 0l6 -6M169 1148l5 5m-5 0l5 -5M169 1134l5 5m-5 0l5 -5M170 1187l5 5m-5 0l5 -5M170 1195l5 5m-5 0l5 -5M170 1138l6 6m-6 0l6 -6M171 1163l5 5m-5 0l5 -5M171 1148l6 6m-6 0l6 -6M172 1218l5 5m-5 0l5 -5M172 1152l6 6m-6 0l6 -6M173 1181l5 5m-5 0l5 -5M173 1145l5 5m-5 0l5 -5M173 1189l6 6m-6 0l6 -6M174 1126l5 5m-5 0l5 -5M174 1192l6 6m-6 0l6 -6M175 1129l5 5m-5 0l5 -5M175 1227l6 6m-6 0l6 -6M176 1259l5 5m-5 0l5 -5M176 1203l5 5m-5 0l5 -5M176 1140l6 6m-6 0l6 -6M177 1147l5 5m-5 0l5 -5M177 1165l6 6m-6 0l6 -6M178 1119l5 5m-5 0l5 -5M178 1120l6 6m-6 0l6 -6M179 1191l5 5m-5 0l5 -5M179 1161l5 5m-5 0l5 -5M179 1203l6 6m-6 0l6 -6M180 1172l5 5m-5 0l5 -5M180 1148l6 6m-6 0l6 -6M181 1170l5 5m-5 0l5 -5M181 1161l6 6m-6 0l6 -6M182 1140l5 5m-5 0l5 -5M182 1116l5 5m-5 0l5 -5M182 1214l6 6m-6 0l6 -6M183 1183l5 5m-5 0l5 -5M183 1207l6 6m-6 0l6 -6M184 1173l5 5m-5 0l5 -5M184 1172l6 6m-6 0l6 -6M185 1140l5 5m-5 0l5 -5M185 1224l5 5m-5 0l5 -5M185 1173l6 6m-6 0l6 -6M186 1210l5 5m-5 0l5 -5M186 1172l6 6m-6 0l6 -6M187 1124l5 5m-5 0l5 -5M187 1187l6 6m-6 0l6 -6M188 1177l5 5m-5 0l5 -5M188 1186l5 5m-5 0l5 -5M188 1221l6 6m-6 0l6 -6M189 1214l5 5m-5 0l5 -5M189 1138l6 6m-6 0l6 -6M190 1110l5 5m-5 0l5 -5M190 1142l6 6m-6 0l6 -6M191 1096l5 5m-5 0l5 -5M191 1198l5 5m-5 0l5 -5M191 1214l6 6m-6 0l6 -6M192 1089l5 5m-5 0l5 -5M192 1189l6 6m-6 0l6 -6M193 1123l5 5m-5 0l5 -5M193 1181l6 6m-6 0l6 -6M194 1168l5 5m-5 0l5 -5M194 1198l5 5m-5 0l5 -5M194 1234l6 6m-6 0l6 -6M195 1150l5 5m-5 0l5 -5M195 1154l6 6m-6 0l6 -6M196 1164l5 5m-5 0l5 -5M196 1150l6 6m-6 0l6 -6M197 1250l5 5m-5 0l5 -5M197 1162l5 5m-5 0l5 -5M197 1118l6 6m-6 0l6 -6M198 1119l5 5m-5 0l5 -5M198 1217l6 6m-6 0l6 -6M199 1210l5 5m-5 0l5 -5M199 1220l6 6m-6 0l6 -6M200 1192l5 5m-5 0l5 -5M200 1161l5 5m-5 0l5 -5M200 1162l6 6m-6 0l6 -6M201 1187l5 5m-5 0l5 -5M201 1108l6 6m-6 0l6 -6M202 1169l5 5m-5 0l5 -5M202 1207l6 6m-6 0l6 -6M203 1311l5 5m-5 0l5 -5M203 1132l5 5m-5 0l5 -5M203 1145l6 6m-6 0l6 -6M204 1137l5 5m-5 0l5 -5M204 1169l6 6m-6 0l6 -6M205 1185l5 5m-5 0l5 -5M205 1159l6 6m-6 0l6 -6M206 1258l5 5m-5 0l5 -5M206 1103l5 5m-5 0l5 -5M206 1154l6 6m-6 0l6 -6M207 1196l5 5m-5 0l5 -5M207 1126l6 6m-6 0l6 -6M208 1158l5 5m-5 0l5 -5M208 1165l6 6m-6 0l6 -6M209 1195l5 5m-5 0l5 -5M209 1199l5 5m-5 0l5 -5M209 1176l6 6m-6 0l6 -6M210 1125l5 5m-5 0l5 -5M210 1180l6 6m-6 0l6 -6M211 1180l5 5m-5 0l5 -5M211 1159l6 6m-6 0l6 -6M212 1155l5 5m-5 0l5 -5M212 1213l5 5m-5 0l5 -5M212 1209l6 6m-6 0l6 -6M213 1199l5 5m-5 0l5 -5M213 1207l6 6m-6 0l6 -6M214 1137l5 5m-5 0l5 -5M214 1173l6 6m-6 0l6 -6M215 1203l5 5m-5 0l5 -5M215 1153l5 5m-5 0l5 -5M215 1189l6 6m-6 0l6 -6M216 1147l5 5m-5 0l5 -5M216 1090l6 6m-6 0l6 -6M217 1236l5 5m-5 0l5 -5M217 1154l6 6m-6 0l6 -6M218 1121l5 5m-5 0l5 -5M218 1191l5 5m-5 0l5 -5M218 1146l6 6m-6 0l6 -6M219 1234l5 5m-5 0l5 -5M219 1126l6 6m-6 0l6 -6M220 1158l5 5m-5 0l5 -5M220 1156l6 6m-6 0l6 -6M221 1203l5 5m-5 0l5 -5M221 1189l5 5m-5 0l5 -5M221 1183l6 6m-6 0l6 -6M222 1206l5 5m-5 0l5 -5M222 1207l6 6m-6 0l6 -6M223 1201l5 5m-5 0l5 -5M223 1190l6 6m-6 0l6 -6M224 1116l5 5m-5 0l5 -5M224 1220l5 5m-5 0l5 -5M224 1192l6 6m-6 0l6 -6M225 1169l5 5m-5 0l5 -5M225 1071l6 6m-6 0l6 -6M226 1188l5 5m-5 0l5 -5M226 1199l6 6m-6 0l6 -6M227 1187l5 5m-5 0l5 -5M227 1195l5 5m-5 0l5 -5M227 1082l6 6m-6 0l6 -6M228 1143l5 5m-5 0l5 -5M228 1267l6 6m-6 0l6 -6M229 1178l5 5m-5 0l5 -5M229 1245l6 6m-6 0l6 -6M230 1216l5 5m-5 0l5 -5M230 1225l5 5m-5 0l5 -5M230 1115l6 6m-6 0l6 -6M231 1156l5 5m-5 0l5 -5M231 1175l6 6m-6 0l6 -6M232 1228l5 5m-5 0l5 -5M232 1149l6 6m-6 0l6 -6M233 1151l5 5m-5 0l5 -5M233 1164l5 5m-5 0l5 -5M233 1196l6 6m-6 0l6 -6M234 1188l5 5m-5 0l5 -5M234 1192l6 6m-6 0l6 -6M235 1158l5 5m-5 0l5 -5M235 1187l6 6m-6 0l6 -6M236 1142l5 5m-5 0l5 -5M236 1177l5 5m-5 0l5 -5M237 1081l5 5m-5 0l5 -5M237 1190l5 5m-5 0l5 -5M237 1189l6 6m-6 0l6 -6M238 1168l5 5m-5 0l5 -5M238 1235l6 6m-6 0l6 -6M239 1114l5 5m-5 0l5 -5M239 1254l5 5m-5 0l5 -5M240 1216l5 5m-5 0l5 -5M240 1197l5 5m-5 0l5 -5M240 1278l6 6m-6 0l6 -6M241 1197l5 5m-5 0l5 -5M241 1169l6 6m-6 0l6 -6M242 1186l5 5m-5 0l5 -5M242 1169l5 5m-5 0l5 -5M243 1148l5 5m-5 0l5 -5M243 1168l5 5m-5 0l5 -5M243 1104l6 6m-6 0l6 -6M244 1173l5 5m-5 0l5 -5M244 1204l6 6m-6 0l6 -6M245 1144l5 5m-5 0l5 -5M245 1173l5 5m-5 0l5 -5M246 1231l5 5m-5 0l5 -5M246 1152l5 5m-5 0l5 -5M246 1165l6 6m-6 0l6 -6M247 1192l5 5m-5 0l5 -5M247 1130l6 6m-6 0l6 -6M248 1216l5 5m-5 0l5 -5M248 1175l5 5m-5 0l5 -5M249 1149l5 5m-5 0l5 -5M249 1147l5 5m-5 0l5 -5M249 1240l6 6m-6 0l6 -6M250 1213l5 5m-5 0l5 -5M250 1173l6 6m-6 0l6 -6M251 1237l5 5m-5 0l5 -5M251 1159l5 5m-5 0l5 -5M252 1184l5 5m-5 0l5 -5M252 1232l5 5m-5 0l5 -5M252 1176l6 6m-6 0l6 -6M253 1248l5 5m-5 0l5 -5M253 1293l6 6m-6 0l6 -6M254 1207l5 5m-5 0l5 -5M254 1183l6 6m-6 0l6 -6M255 1137l5 5m-5 0l5 -5M255 1208l5 5m-5 0l5 -5M255 1205l6 6m-6 0l6 -6M256 1145l5 5m-5 0l5 -5M256 1182l6 6m-6 0l6 -6M257 1260l5 5m-5 0l5 -5M257 1188l6 6m-6 0l6 -6M258 1311l5 5m-5 0l5 -5M258 1212l5 5m-5 0l5 -5M258 1150l6 6m-6 0l6 -6M259 1154l5 5m-5 0l5 -5M259 1091l6 6m-6 0l6 -6M260 1169l5 5m-5 0l5 -5M260 1192l6 6m-6 0l6 -6M261 1150l5 5m-5 0l5 -5M261 1249l5 5m-5 0l5 -5M261 1158l6 6m-6 0l6 -6M262 1144l5 5m-5 0l5 -5M262 1137l6 6m-6 0l6 -6M263 1166l5 5m-5 0l5 -5M263 1187l6 6m-6 0l6 -6M264 1197l5 5m-5 0l5 -5M264 1200l5 5m-5 0l5 -5M264 1235l6 6m-6 0l6 -6M265 1239l5 5m-5 0l5 -5M265 1145l6 6m-6 0l6 -6M266 1144l5 5m-5 0l5 -5M266 1198l6 6m-6 0l6 -6M267 1144l5 5m-5 0l5 -5M267 1173l5 5m-5 0l5 -5M267 1179l6 6m-6 0l6 -6M268 1154l5 5m-5 0l5 -5M268 1207l6 6m-6 0l6 -6M269 1133l5 5m-5 0l5 -5M269 1133l6 6m-6 0l6 -6M270 1186l5 5m-5 0l5 -5M270 1295l5 5m-5 0l5 -5M270 1181l6 6m-6 0l6 -6M271 1176l5 5m-5 0l5 -5M271 1213l6 6m-6 0l6 -6M272 1174l5 5m-5 0l5 -5M272 1141l6 6m-6 0l6 -6M273 1249l5 5m-5 0l5 -5M273 1323l6 6m-6 0l6 -6M273 1136l6 6m-6 0l6 -6M274 1209l5 5m-5 0l5 -5M274 1205l6 6m-6 0l6 -6M275 1180l5 5m-5 0l5 -5M275 1166l6 6m-6 0l6 -6M276 1167l5 5m-5 0l5 -5M276 1103l5 5m-5 0l5 -5M276 1180l6 6m-6 0l6 -6M277 1231l5 5m-5 0l5 -5M277 1054l6 6m-6 0l6 -6M278 1213l5 5m-5 0l5 -5M278 1149l6 6m-6 0l6 -6M279 1143l5 5m-5 0l5 -5M279 1156l5 5m-5 0l5 -5M279 1136l6 6m-6 0l6 -6M280 1181l5 5m-5 0l5 -5M280 1115l6 6m-6 0l6 -6M281 1107l5 5m-5 0l5 -5M281 1187l6 6m-6 0l6 -6M282 1151l5 5m-5 0l5 -5M282 1233l5 5m-5 0l5 -5M282 1139l6 6m-6 0l6 -6M283 1097l5 5m-5 0l5 -5M283 1227l6 6m-6 0l6 -6M284 1204l5 5m-5 0l5 -5M284 1197l6 6m-6 0l6 -6M285 1166l5 5m-5 0l5 -5M285 1165l5 5m-5 0l5 -5M285 1162l6 6m-6 0l6 -6M286 1160l5 5m-5 0l5 -5M286 1238l6 6m-6 0l6 -6M287 1124l5 5m-5 0l5 -5M287 1208l6 6m-6 0l6 -6M288 1154l5 5m-5 0l5 -5M288 1160l5 5m-5 0l5 -5M288 1161l6 6m-6 0l6 -6M289 1194l5 5m-5 0l5 -5M289 1202l6 6m-6 0l6 -6M290 1154l5 5m-5 0l5 -5M290 1166l6 6m-6 0l6 -6M291 1174l5 5m-5 0l5 -5M291 1152l5 5m-5 0l5 -5M291 1205l6 6m-6 0l6 -6M292 1144l5 5m-5 0l5 -5M292 1199l6 6m-6 0l6 -6M293 1220l5 5m-5 0l5 -5M293 1166l6 6m-6 0l6 -6M294 1070l5 5m-5 0l5 -5M294 1219l5 5m-5 0l5 -5M294 1223l6 6m-6 0l6 -6M295 1180l5 5m-5 0l5 -5M295 1161l6 6m-6 0l6 -6M296 1104l5 5m-5 0l5 -5M296 1196l6 6m-6 0l6 -6M297 1192l5 5m-5 0l5 -5M297 1205l5 5m-5 0l5 -5M297 1140l6 6m-6 0l6 -6M298 1210l5 5m-5 0l5 -5M298 1206l6 6m-6 0l6 -6M299 1147l5 5m-5 0l5 -5M299 1226l6 6m-6 0l6 -6M300 1158l5 5m-5 0l5 -5M300 1206l5 5m-5 0l5 -5M300 1124l6 6m-6 0l6 -6M301 1281l5 5m-5 0l5 -5M301 1174l6 6m-6 0l6 -6M302 1173l5 5m-5 0l5 -5M302 1128l6 6m-6 0l6 -6M303 1166l5 5m-5 0l5 -5M303 1145l5 5m-5 0l5 -5M303 1220l6 6m-6 0l6 -6M304 1157l5 5m-5 0l5 -5M304 1213l6 6m-6 0l6 -6M305 1225l5 5m-5 0l5 -5M305 1224l6 6m-6 0l6 -6M306 1144l5 5m-5 0l5 -5M306 1175l5 5m-5 0l5 -5M306 1171l6 6m-6 0l6 -6M307 1258l5 5m-5 0l5 -5M307 1215l6 6m-6 0l6 -6M308 1186l5 5m-5 0l5 -5M308 1266l6 6m-6 0l6 -6M309 1180l5 5m-5 0l5 -5M309 1138l5 5m-5 0l5 -5M309 1234l6 6m-6 0l6 -6M310 1201l5 5m-5 0l5 -5M310 1174l6 6m-6 0l6 -6M311 1228l5 5m-5 0l5 -5M311 1203l6 6m-6 0l6 -6M312 1224l5 5m-5 0l5 -5M312 1197l5 5m-5 0l5 -5M313 1300l5 5m-5 0l5 -5M313 1197l5 5m-5 0l5 -5M313 1185l6 6m-6 0l6 -6M314 1206l5 5m-5 0l5 -5M314 1142l6 6m-6 0l6 -6M315 1143l5 5m-5 0l5 -5M315 1183l5 5m-5 0l5 -5M315 1135l6 6m-6 0l6 -6M316 1219l5 5m-5 0l5 -5M316 1248l6 6m-6 0l6 -6M317 1147l5 5m-5 0l5 -5M317 1151l6 6m-6 0l6 -6M318 1252l5 5m-5 0l5 -5M318 1191l5 5m-5 0l5 -5M319 1178l5 5m-5 0l5 -5M319 1215l5 5m-5 0l5 -5M319 1201l6 6m-6 0l6 -6M320 1163l5 5m-5 0l5 -5M320 1127l6 6m-6 0l6 -6M321 1118l5 5m-5 0l5 -5M321 1181l5 5m-5 0l5 -5M322 1220l5 5m-5 0l5 -5M322 1249l5 5m-5 0l5 -5M322 1116l6 6m-6 0l6 -6M323 1143l5 5m-5 0l5 -5M323 1138l6 6m-6 0l6 -6M324 1105l5 5m-5 0l5 -5M324 1205l5 5m-5 0l5 -5M325 1126l5 5m-5 0l5 -5M325 1200l5 5m-5 0l5 -5M325 1202l6 6m-6 0l6 -6M326 1221l5 5m-5 0l5 -5M326 1243l6 6m-6 0l6 -6M327 1238l5 5m-5 0l5 -5M327 1190l5 5m-5 0l5 -5M328 1170l5 5m-5 0l5 -5M328 1208l5 5m-5 0l5 -5M328 1157l6 6m-6 0l6 -6M329 1210l5 5m-5 0l5 -5M329 1118l6 6m-6 0l6 -6M330 1226l5 5m-5 0l5 -5M330 1150l5 5m-5 0l5 -5M331 1228l5 5m-5 0l5 -5M331 1221l5 5m-5 0l5 -5M331 1258l6 6m-6 0l6 -6M332 1188l5 5m-5 0l5 -5M332 1170l6 6m-6 0l6 -6M333 1193l5 5m-5 0l5 -5M333 1150l5 5m-5 0l5 -5M334 1106l5 5m-5 0l5 -5M334 1144l5 5m-5 0l5 -5M334 1220l6 6m-6 0l6 -6M335 1246l5 5m-5 0l5 -5M335 1144l6 6m-6 0l6 -6M336 1225l5 5m-5 0l5 -5M336 1211l6 6m-6 0l6 -6M337 1180l5 5m-5 0l5 -5M337 1176l5 5m-5 0l5 -5M337 1245l6 6m-6 0l6 -6M338 1182l5 5m-5 0l5 -5M338 1181l6 6m-6 0l6 -6M339 1166l5 5m-5 0l5 -5M339 1152l6 6m-6 0l6 -6M340 1123l5 5m-5 0l5 -5M340 1152l5 5m-5 0l5 -5M340 1129l6 6m-6 0l6 -6M341 1269l5 5m-5 0l5 -5M341 1115l6 6m-6 0l6 -6M342 1157l5 5m-5 0l5 -5M342 1190l6 6m-6 0l6 -6M343 1261l5 5m-5 0l5 -5M343 1134l5 5m-5 0l5 -5M343 1159l6 6m-6 0l6 -6M344 1088l5 5m-5 0l5 -5M344 1131l6 6m-6 0l6 -6M345 1133l5 5m-5 0l5 -5M345 1186l6 6m-6 0l6 -6M346 1129l5 5m-5 0l5 -5M346 1159l5 5m-5 0l5 -5M346 1184l6 6m-6 0l6 -6M347 1224l5 5m-5 0l5 -5M347 1228l6 6m-6 0l6 -6M348 1177l5 5m-5 0l5 -5M348 1089l6 6m-6 0l6 -6M349 1140l5 5m-5 0l5 -5M349 1224l5 5m-5 0l5 -5M349 1195l6 6m-6 0l6 -6M350 1263l5 5m-5 0l5 -5M350 1154l6 6m-6 0l6 -6M351 1175l5 5m-5 0l5 -5M351 1181l6 6m-6 0l6 -6M352 1115l5 5m-5 0l5 -5M352 1170l5 5m-5 0l5 -5M352 1242l6 6m-6 0l6 -6M353 1254l5 5m-5 0l5 -5M353 1135l6 6m-6 0l6 -6M354 1158l5 5m-5 0l5 -5M354 1265l6 6m-6 0l6 -6M355 1206l5 5m-5 0l5 -5M355 1219l5 5m-5 0l5 -5M355 1137l6 6m-6 0l6 -6M356 1178l5 5m-5 0l5 -5M356 1211l6 6m-6 0l6 -6M357 1175l5 5m-5 0l5 -5M357 1231l6 6m-6 0l6 -6M358 1124l5 5m-5 0l5 -5M358 1154l5 5m-5 0l5 -5M358 1159l6 6m-6 0l6 -6M359 1303l5 5m-5 0l5 -5M359 1184l6 6m-6 0l6 -6M360 1279l5 5m-5 0l5 -5M360 1230l6 6m-6 0l6 -6M361 1171l5 5m-5 0l5 -5M361 1241l5 5m-5 0l5 -5M361 1169l6 6m-6 0l6 -6M362 1178l5 5m-5 0l5 -5M362 1160l6 6m-6 0l6 -6M363 1168l5 5m-5 0l5 -5M363 1165l6 6m-6 0l6 -6M364 1153l5 5m-5 0l5 -5M364 1258l5 5m-5 0l5 -5M365 1303l5 5m-5 0l5 -5M365 1171l5 5m-5 0l5 -5M365 1159l6 6m-6 0l6 -6M366 1164l5 5m-5 0l5 -5M366 1192l6 6m-6 0l6 -6M367 1181l5 5m-5 0l5 -5M367 1151l5 5m-5 0l5 -5M367 1185l6 6m-6 0l6 -6M368 1243l5 5m-5 0l5 -5M368 1133l6 6m-6 0l6 -6M369 1225l5 5m-5 0l5 -5M369 1220l6 6m-6 0l6 -6M370 1232l5 5m-5 0l5 -5M370 1207l5 5m-5 0l5 -5M370 1163l6 6m-6 0l6 -6M371 1230l5 5m-5 0l5 -5M371 1093l6 6m-6 0l6 -6M372 1163l5 5m-5 0l5 -5M372 1204l6 6m-6 0l6 -6M373 1219l5 5m-5 0l5 -5M373 1104l5 5m-5 0l5 -5M373 1103l6 6m-6 0l6 -6M374 1197l5 5m-5 0l5 -5M374 1173l6 6m-6 0l6 -6M375 1120l5 5m-5 0l5 -5M375 1133l6 6m-6 0l6 -6M376 1159l5 5m-5 0l5 -5M376 1135l5 5m-5 0l5 -5M376 1225l6 6m-6 0l6 -6M377 1144l5 5m-5 0l5 -5M377 1161l6 6m-6 0l6 -6M378 1162l5 5m-5 0l5 -5M378 1191l6 6m-6 0l6 -6M379 1204l5 5m-5 0l5 -5M379 1174l5 5m-5 0l5 -5M379 1211l6 6m-6 0l6 -6M380 1125l5 5m-5 0l5 -5M380 1129l6 6m-6 0l6 -6M381 1090l5 5m-5 0l5 -5M381 1131l6 6m-6 0l6 -6M382 1219l5 5m-5 0l5 -5M382 1154l5 5m-5 0l5 -5M382 1162l6 6m-6 0l6 -6M383 1233l5 5m-5 0l5 -5M383 1232l6 6m-6 0l6 -6M384 1194l5 5m-5 0l5 -5M384 1173l6 6m-6 0l6 -6M385 1159l5 5m-5 0l5 -5M385 1200l5 5m-5 0l5 -5M385 1200l6 6m-6 0l6 -6M386 1144l5 5m-5 0l5 -5M386 1207l6 6m-6 0l6 -6M387 1235l5 5m-5 0l5 -5M387 1151l6 6m-6 0l6 -6M388 1191l5 5m-5 0l5 -5M388 1167l5 5m-5 0l5 -5M388 1145l6 6m-6 0l6 -6M389 1216l5 5m-5 0l5 -5M389 1145l6 6m-6 0l6 -6M390 1203l5 5m-5 0l5 -5M390 1169l6 6m-6 0l6 -6M391 1161l5 5m-5 0l5 -5M391 1212l5 5m-5 0l5 -5M391 1188l6 6m-6 0l6 -6M392 1149l5 5m-5 0l5 -5M392 1120l6 6m-6 0l6 -6M393 1056l5 5m-5 0l5 -5M393 1235l6 6m-6 0l6 -6M394 1016l5 5m-5 0l5 -5M394 1128l5 5m-5 0l5 -5M394 1101l6 6m-6 0l6 -6M395 1234l5 5m-5 0l5 -5M395 1286l6 6m-6 0l6 -6M396 1205l5 5m-5 0l5 -5M396 1179l6 6m-6 0l6 -6M397 1199l5 5m-5 0l5 -5M397 1189l5 5m-5 0l5 -5M397 1142l6 6m-6 0l6 -6M398 1139l5 5m-5 0l5 -5M398 1190l6 6m-6 0l6 -6M399 1152l5 5m-5 0l5 -5M399 1104l6 6m-6 0l6 -6M400 1196l5 5m-5 0l5 -5M400 1176l5 5m-5 0l5 -5M400 1206l6 6m-6 0l6 -6M401 1157l5 5m-5 0l5 -5M401 1207l6 6m-6 0l6 -6M402 1096l5 5m-5 0l5 -5M402 1171l6 6m-6 0l6 -6M403 1208l5 5m-5 0l5 -5M403 1223l5 5m-5 0l5 -5M404 1190l5 5m-5 0l5 -5M404 1186l5 5m-5 0l5 -5M404 1234l6 6m-6 0l6 -6M405 1127l5 5m-5 0l5 -5M405 1152l6 6m-6 0l6 -6M406 1102l5 5m-5 0l5 -5M406 1158l5 5m-5 0l5 -5M407 1202l5 5m-5 0l5 -5M407 1109l5 5m-5 0l5 -5M407 1137l6 6m-6 0l6 -6M408 1120l5 5m-5 0l5 -5M408 1241l6 6m-6 0l6 -6M409 1131l5 5m-5 0l5 -5M409 1149l5 5m-5 0l5 -5M410 1197l5 5m-5 0l5 -5M410 1125l5 5m-5 0l5 -5M410 1158l6 6m-6 0l6 -6M411 1085l5 5m-5 0l5 -5M411 1125l6 6m-6 0l6 -6M412 1212l5 5m-5 0l5 -5M412 1167l5 5m-5 0l5 -5M413 1144l5 5m-5 0l5 -5M413 1168l5 5m-5 0l5 -5M413 1138l6 6m-6 0l6 -6M414 1146l5 5m-5 0l5 -5M414 1158l6 6m-6 0l6 -6M415 1180l5 5m-5 0l5 -5M415 1216l5 5m-5 0l5 -5M416 1204l5 5m-5 0l5 -5M416 1170l5 5m-5 0l5 -5M416 1224l6 6m-6 0l6 -6M417 1247l5 5m-5 0l5 -5M417 1124l6 6m-6 0l6 -6M418 1226l5 5m-5 0l5 -5M418 1178l6 6m-6 0l6 -6M419 1131l5 5m-5 0l5 -5M419 1157l5 5m-5 0l5 -5M419 1154l6 6m-6 0l6 -6M420 1213l5 5m-5 0l5 -5M420 1231l6 6m-6 0l6 -6M421 1166l5 5m-5 0l5 -5M421 1249l6 6m-6 0l6 -6M422 1202l5 5m-5 0l5 -5M422 1199l5 5m-5 0l5 -5M422 1151l6 6m-6 0l6 -6M423 1166l5 5m-5 0l5 -5M423 1199l6 6m-6 0l6 -6M424 1117l5 5m-5 0l5 -5M424 1308l6 6m-6 0l6 -6M425 1176l5 5m-5 0l5 -5M425 1191l5 5m-5 0l5 -5M425 1220l6 6m-6 0l6 -6M426 1172l5 5m-5 0l5 -5M426 1136l6 6m-6 0l6 -6M427 1117l5 5m-5 0l5 -5M427 1194l6 6m-6 0l6 -6M428 1182l5 5m-5 0l5 -5M428 1218l5 5m-5 0l5 -5M428 1151l6 6m-6 0l6 -6M429 1118l5 5m-5 0l5 -5M429 1204l6 6m-6 0l6 -6M430 1145l5 5m-5 0l5 -5M430 1091l6 6m-6 0l6 -6M431 1141l5 5m-5 0l5 -5M431 1148l5 5m-5 0l5 -5M431 1175l6 6m-6 0l6 -6M432 1181l5 5m-5 0l5 -5M432 1151l6 6m-6 0l6 -6M433 1187l5 5m-5 0l5 -5M433 1151l6 6m-6 0l6 -6M434 1114l5 5m-5 0l5 -5M434 1118l5 5m-5 0l5 -5M434 1227l6 6m-6 0l6 -6M435 1149l5 5m-5 0l5 -5M435 1180l6 6m-6 0l6 -6M436 1129l5 5m-5 0l5 -5M436 1127l6 6m-6 0l6 -6M437 1082l5 5m-5 0l5 -5M437 1195l5 5m-5 0l5 -5M437 1170l6 6m-6 0l6 -6M438 1082l5 5m-5 0l5 -5M438 1117l6 6m-6 0l6 -6M439 1101l5 5m-5 0l5 -5M439 1174l6 6m-6 0l6 -6M440 1181l5 5m-5 0l5 -5M440 1161l5 5m-5 0l5 -5M440 1088l6 6m-6 0l6 -6M441 1219l5 5m-5 0l5 -5M441 1160l6 6m-6 0l6 -6M442 1143l5 5m-5 0l5 -5M442 1137l6 6m-6 0l6 -6M443 1264l5 5m-5 0l5 -5M443 1144l5 5m-5 0l5 -5M443 1111l6 6m-6 0l6 -6M444 1142l5 5m-5 0l5 -5M444 1111l6 6m-6 0l6 -6M445 1169l5 5m-5 0l5 -5M445 1165l6 6m-6 0l6 -6M446 1073l5 5m-5 0l5 -5M446 1180l5 5m-5 0l5 -5M446 1188l6 6m-6 0l6 -6M447 1168l5 5m-5 0l5 -5M447 1148l6 6m-6 0l6 -6M448 1111l5 5m-5 0l5 -5M448 1095l6 6m-6 0l6 -6M449 1098l5 5m-5 0l5 -5M449 1166l5 5m-5 0l5 -5M449 1204l6 6m-6 0l6 -6M450 1146l5 5m-5 0l5 -5M450 1172l6 6m-6 0l6 -6M451 1155l5 5m-5 0l5 -5M451 1123l6 6m-6 0l6 -6M452 1165l5 5m-5 0l5 -5M452 1174l5 5m-5 0l5 -5M452 1177l6 6m-6 0l6 -6M453 1131l5 5m-5 0l5 -5M453 1215l6 6m-6 0l6 -6M454 1103l5 5m-5 0l5 -5M454 1167l6 6m-6 0l6 -6M455 1119l5 5m-5 0l5 -5M455 1159l5 5m-5 0l5 -5M455 1152l6 6m-6 0l6 -6M456 1126l5 5m-5 0l5 -5M456 1159l6 6m-6 0l6 -6M457 1136l5 5m-5 0l5 -5M457 1114l6 6m-6 0l6 -6M458 1183l5 5m-5 0l5 -5M458 1202l5 5m-5 0l5 -5M458 1157l6 6m-6 0l6 -6M459 1103l5 5m-5 0l5 -5M459 1180l6 6m-6 0l6 -6M460 1163l5 5m-5 0l5 -5M460 1149l6 6m-6 0l6 -6M461 1189l5 5m-5 0l5 -5M461 1119l5 5m-5 0l5 -5M461 1136l6 6m-6 0l6 -6M462 1148l5 5m-5 0l5 -5M462 1197l6 6m-6 0l6 -6M463 1112l5 5m-5 0l5 -5M463 1123l6 6m-6 0l6 -6M464 1220l5 5m-5 0l5 -5M464 1156l5 5m-5 0l5 -5M464 1177l6 6m-6 0l6 -6M465 1194l5 5m-5 0l5 -5M465 1108l6 6m-6 0l6 -6M466 1113l5 5m-5 0l5 -5M466 1179l6 6m-6 0l6 -6M467 1137l5 5m-5 0l5 -5M467 1179l5 5m-5 0l5 -5M467 1156l6 6m-6 0l6 -6M468 1111l5 5m-5 0l5 -5M468 1177l6 6m-6 0l6 -6M469 1160l5 5m-5 0l5 -5M469 1289l6 6m-6 0l6 -6M470 1186l5 5m-5 0l5 -5M470 1180l5 5m-5 0l5 -5M470 1142l6 6m-6 0l6 -6M471 1194l5 5m-5 0l5 -5M471 1119l6 6m-6 0l6 -6M472 1163l5 5m-5 0l5 -5M472 1128l6 6m-6 0l6 -6M473 1051l5 5m-5 0l5 -5M473 992l5 5m-5 0l5 -5M473 1202l6 6m-6 0l6 -6M474 1057l6 6m-6 0l6 -6M474 1117l6 6m-6 0l6 -6M475 1169l5 5m-5 0l5 -5M475 1166l6 6m-6 0l6 -6M476 1168l5 5m-5 0l5 -5M476 1104l5 5m-5 0l5 -5M476 1153l6 6m-6 0l6 -6M477 1204l5 5m-5 0l5 -5M477 1152l6 6m-6 0l6 -6M478 1166l5 5m-5 0l5 -5M478 1137l6 6m-6 0l6 -6M479 1180l5 5m-5 0l5 -5M479 1140l5 5m-5 0l5 -5M479 1125l6 6m-6 0l6 -6M480 1168l5 5m-5 0l5 -5M480 1273l6 6m-6 0l6 -6M481 1197l5 5m-5 0l5 -5M481 1114l6 6m-6 0l6 -6M482 1139l5 5m-5 0l5 -5M482 1075l5 5m-5 0l5 -5M482 1198l6 6m-6 0l6 -6M483 1182l5 5m-5 0l5 -5M483 1135l6 6m-6 0l6 -6M484 1153l5 5m-5 0l5 -5M484 1141l6 6m-6 0l6 -6M485 1218l5 5m-5 0l5 -5M485 1183l5 5m-5 0l5 -5M486 1140l5 5m-5 0l5 -5M486 1179l5 5m-5 0l5 -5M486 1211l6 6m-6 0l6 -6M487 1235l5 5m-5 0l5 -5M487 1144l6 6m-6 0l6 -6M488 1181l5 5m-5 0l5 -5M488 1130l5 5m-5 0l5 -5M489 1126l5 5m-5 0l5 -5M489 1158l5 5m-5 0l5 -5M489 1128l6 6m-6 0l6 -6M490 1284l5 5m-5 0l5 -5M490 1094l6 6m-6 0l6 -6M491 1101l5 5m-5 0l5 -5M491 1155l5 5m-5 0l5 -5M492 1175l5 5m-5 0l5 -5M492 1047l5 5m-5 0l5 -5M492 1138l6 6m-6 0l6 -6M493 1137l5 5m-5 0l5 -5M493 1172l6 6m-6 0l6 -6M494 1159l5 5m-5 0l5 -5M494 1186l5 5m-5 0l5 -5M495 1144l5 5m-5 0l5 -5M495 1231l5 5m-5 0l5 -5M495 1197l6 6m-6 0l6 -6M496 1138l5 5m-5 0l5 -5M496 1198l6 6m-6 0l6 -6M497 1210l5 5m-5 0l5 -5M497 1178l5 5m-5 0l5 -5M498 1217l5 5m-5 0l5 -5M498 1137l5 5m-5 0l5 -5M498 1192l6 6m-6 0l6 -6M499 1204l5 5m-5 0l5 -5M499 1229l6 6m-6 0l6 -6M500 1197l5 5m-5 0l5 -5M500 1197l6 6m-6 0l6 -6M501 1178l5 5m-5 0l5 -5M501 1165l5 5m-5 0l5 -5M501 1198l6 6m-6 0l6 -6M502 1193l5 5m-5 0l5 -5M502 1174l6 6m-6 0l6 -6M503 1244l5 5m-5 0l5 -5M503 1201l6 6m-6 0l6 -6M504 1213l5 5m-5 0l5 -5M504 1182l5 5m-5 0l5 -5M504 1180l6 6m-6 0l6 -6M505 1122l5 5m-5 0l5 -5M505 1189l6 6m-6 0l6 -6M506 1163l5 5m-5 0l5 -5M506 1282l6 6m-6 0l6 -6M507 1186l5 5m-5 0l5 -5M507 1201l5 5m-5 0l5 -5M507 1232l6 6m-6 0l6 -6M508 1158l5 5m-5 0l5 -5M508 1235l6 6m-6 0l6 -6M509 1331l5 5m-5 0l5 -5M509 1146l6 6m-6 0l6 -6M510 1205l5 5m-5 0l5 -5M510 1075l5 5m-5 0l5 -5M510 1165l6 6m-6 0l6 -6M511 1125l5 5m-5 0l5 -5M511 1204l6 6m-6 0l6 -6M512 1126l5 5m-5 0l5 -5M512 1252l6 6m-6 0l6 -6M513 1182l5 5m-5 0l5 -5M513 1291l5 5m-5 0l5 -5M513 1202l6 6m-6 0l6 -6M514 1271l5 5m-5 0l5 -5M514 1296l6 6m-6 0l6 -6M515 1215l5 5m-5 0l5 -5M515 1206l6 6m-6 0l6 -6M516 1201l5 5m-5 0l5 -5M516 1304l5 5m-5 0l5 -5M516 1170l6 6m-6 0l6 -6M517 1191l5 5m-5 0l5 -5M517 1286l6 6m-6 0l6 -6M518 1253l5 5m-5 0l5 -5M518 1215l6 6m-6 0l6 -6M519 1278l5 5m-5 0l5 -5M519 1222l5 5m-5 0l5 -5M519 1203l6 6m-6 0l6 -6M520 1213l5 5m-5 0l5 -5M520 1222l6 6m-6 0l6 -6M521 1232l5 5m-5 0l5 -5M521 1216l6 6m-6 0l6 -6M522 1236l5 5m-5 0l5 -5M522 1239l5 5m-5 0l5 -5M522 1195l6 6m-6 0l6 -6M523 1231l5 5m-5 0l5 -5M523 1159l6 6m-6 0l6 -6M524 1151l5 5m-5 0l5 -5M524 1195l6 6m-6 0l6 -6M525 1213l5 5m-5 0l5 -5M525 1247l5 5m-5 0l5 -5M525 1184l6 6m-6 0l6 -6M526 1256l5 5m-5 0l5 -5M526 1194l6 6m-6 0l6 -6M527 1242l5 5m-5 0l5 -5M527 1210l6 6m-6 0l6 -6M528 1223l5 5m-5 0l5 -5M528 1191l5 5m-5 0l5 -5M528 1192l6 6m-6 0l6 -6M529 1128l5 5m-5 0l5 -5M529 1267l6 6m-6 0l6 -6M530 1260l5 5m-5 0l5 -5M530 1167l6 6m-6 0l6 -6M531 1180l5 5m-5 0l5 -5M531 1311l5 5m-5 0l5 -5M531 1196l6 6m-6 0l6 -6M532 1177l5 5m-5 0l5 -5M532 1208l6 6m-6 0l6 -6M533 1254l5 5m-5 0l5 -5M533 1230l6 6m-6 0l6 -6M534 1198l5 5m-5 0l5 -5M534 1170l5 5m-5 0l5 -5M534 1261l6 6m-6 0l6 -6M535 1115l5 5m-5 0l5 -5M535 1180l6 6m-6 0l6 -6M536 1211l5 5m-5 0l5 -5M536 1134l6 6m-6 0l6 -6M537 1223l5 5m-5 0l5 -5M537 1206l5 5m-5 0l5 -5M537 1222l6 6m-6 0l6 -6M538 1280l5 5m-5 0l5 -5M538 1295l6 6m-6 0l6 -6M539 1194l5 5m-5 0l5 -5M539 1223l6 6m-6 0l6 -6M540 1231l5 5m-5 0l5 -5M540 1278l5 5m-5 0l5 -5M540 1230l6 6m-6 0l6 -6M541 1245l5 5m-5 0l5 -5M541 1161l6 6m-6 0l6 -6M542 1266l5 5m-5 0l5 -5M542 1180l6 6m-6 0l6 -6M543 1248l5 5m-5 0l5 -5M543 1218l5 5m-5 0l5 -5M543 1166l6 6m-6 0l6 -6M544 1254l5 5m-5 0l5 -5M544 1223l6 6m-6 0l6 -6M545 1253l5 5m-5 0l5 -5M545 1202l6 6m-6 0l6 -6M546 1179l5 5m-5 0l5 -5M546 1259l5 5m-5 0l5 -5M546 1280l6 6m-6 0l6 -6M547 1210l5 5m-5 0l5 -5M547 1270l6 6m-6 0l6 -6M548 1291l5 5m-5 0l5 -5M548 1232l6 6m-6 0l6 -6M549 1212l5 5m-5 0l5 -5M549 1308l5 5m-5 0l5 -5M549 1223l6 6m-6 0l6 -6M550 1228l5 5m-5 0l5 -5M550 1227l6 6m-6 0l6 -6M551 1211l5 5m-5 0l5 -5M551 1208l6 6m-6 0l6 -6M552 1242l5 5m-5 0l5 -5M552 1243l5 5m-5 0l5 -5M552 1228l6 6m-6 0l6 -6M553 1339l5 5m-5 0l5 -5M553 1162l6 6m-6 0l6 -6M554 1165l5 5m-5 0l5 -5M554 1248l6 6m-6 0l6 -6M555 1128l5 5m-5 0l5 -5M555 1316l5 5m-5 0l5 -5M555 1212l6 6m-6 0l6 -6M556 1142l5 5m-5 0l5 -5M556 1174l6 6m-6 0l6 -6M557 1163l5 5m-5 0l5 -5M557 1251l6 6m-6 0l6 -6M558 1230l5 5m-5 0l5 -5M558 1230l5 5m-5 0l5 -5M558 1188l6 6m-6 0l6 -6M559 1197l5 5m-5 0l5 -5M559 1201l6 6m-6 0l6 -6M560 1156l5 5m-5 0l5 -5M560 1170l6 6m-6 0l6 -6M561 1113l5 5m-5 0l5 -5M561 1266l5 5m-5 0l5 -5M561 1264l6 6m-6 0l6 -6M562 1195l5 5m-5 0l5 -5M562 1276l6 6m-6 0l6 -6M563 1220l5 5m-5 0l5 -5M563 1224l6 6m-6 0l6 -6M564 1240l5 5m-5 0l5 -5M564 1273l5 5m-5 0l5 -5M564 1259l6 6m-6 0l6 -6M565 1139l5 5m-5 0l5 -5M565 1224l6 6m-6 0l6 -6M566 1106l5 5m-5 0l5 -5M566 1143l6 6m-6 0l6 -6M567 1177l5 5m-5 0l5 -5M567 1196l5 5m-5 0l5 -5M568 1189l5 5m-5 0l5 -5M568 1236l5 5m-5 0l5 -5M568 1214l6 6m-6 0l6 -6M569 1152l5 5m-5 0l5 -5M569 1198l6 6m-6 0l6 -6M570 1226l5 5m-5 0l5 -5M570 1179l5 5m-5 0l5 -5M571 1175l5 5m-5 0l5 -5M571 1143l5 5m-5 0l5 -5M571 1165l6 6m-6 0l6 -6M572 1178l5 5m-5 0l5 -5M572 1219l6 6m-6 0l6 -6M573 1302l5 5m-5 0l5 -5M573 1183l5 5m-5 0l5 -5M574 1220l5 5m-5 0l5 -5M574 1216l5 5m-5 0l5 -5M574 1278l6 6m-6 0l6 -6M575 1127l5 5m-5 0l5 -5M575 1244l6 6m-6 0l6 -6M576 1196l5 5m-5 0l5 -5M576 1235l5 5m-5 0l5 -5M577 1219l5 5m-5 0l5 -5M577 1213l5 5m-5 0l5 -5M577 1204l6 6m-6 0l6 -6M578 1239l5 5m-5 0l5 -5M578 1160l6 6m-6 0l6 -6M579 1192l5 5m-5 0l5 -5M579 1242l5 5m-5 0l5 -5M580 1189l5 5m-5 0l5 -5M580 1185l5 5m-5 0l5 -5M580 1192l6 6m-6 0l6 -6M581 1213l5 5m-5 0l5 -5M581 1211l6 6m-6 0l6 -6M582 1137l5 5m-5 0l5 -5M582 1231l6 6m-6 0l6 -6M583 1166l5 5m-5 0l5 -5M583 1248l5 5m-5 0l5 -5M583 1261l6 6m-6 0l6 -6M584 1273l5 5m-5 0l5 -5M584 1257l6 6m-6 0l6 -6M585 1158l5 5m-5 0l5 -5M585 1201l6 6m-6 0l6 -6M586 1223l5 5m-5 0l5 -5M586 1201l5 5m-5 0l5 -5M586 1249l6 6m-6 0l6 -6M587 1197l5 5m-5 0l5 -5M587 1187l6 6m-6 0l6 -6M588 1228l5 5m-5 0l5 -5M588 1298l5 5m-5 0l5 -5M589 1252l5 5m-5 0l5 -5M589 1154l5 5m-5 0l5 -5M589 1156l6 6m-6 0l6 -6M590 1220l5 5m-5 0l5 -5M590 1189l6 6m-6 0l6 -6M591 1107l5 5m-5 0l5 -5M591 1249l6 6m-6 0l6 -6M592 1159l5 5m-5 0l5 -5M592 1135l5 5m-5 0l5 -5M592 1177l6 6m-6 0l6 -6M593 1165l5 5m-5 0l5 -5M593 1275l6 6m-6 0l6 -6M594 1163l5 5m-5 0l5 -5M594 1155l6 6m-6 0l6 -6M595 1238l5 5m-5 0l5 -5M595 1207l5 5m-5 0l5 -5M595 1172l6 6m-6 0l6 -6M596 1148l5 5m-5 0l5 -5M596 1190l6 6m-6 0l6 -6M597 1140l5 5m-5 0l5 -5M597 1159l6 6m-6 0l6 -6M598 1239l5 5m-5 0l5 -5M598 1172l5 5m-5 0l5 -5M598 1133l6 6m-6 0l6 -6M599 1131l5 5m-5 0l5 -5M599 1201l6 6m-6 0l6 -6M600 1185l5 5m-5 0l5 -5M600 1188l6 6m-6 0l6 -6M601 1109l5 5m-5 0l5 -5M601 1145l5 5m-5 0l5 -5M601 1164l6 6m-6 0l6 -6M602 1157l5 5m-5 0l5 -5M602 1064l6 6m-6 0l6 -6M603 1242l5 5m-5 0l5 -5M603 1153l6 6m-6 0l6 -6M604 1165l5 5m-5 0l5 -5M604 1101l5 5m-5 0l5 -5M604 1158l6 6m-6 0l6 -6M605 1145l5 5m-5 0l5 -5M605 1137l6 6m-6 0l6 -6M606 1195l5 5m-5 0l5 -5M606 1155l6 6m-6 0l6 -6M607 1256l5 5m-5 0l5 -5M607 1145l5 5m-5 0l5 -5M607 1211l6 6m-6 0l6 -6M608 1149l5 5m-5 0l5 -5M608 1132l6 6m-6 0l6 -6M609 1197l5 5m-5 0l5 -5M609 1167l6 6m-6 0l6 -6M610 1147l5 5m-5 0l5 -5M610 1067l5 5m-5 0l5 -5M610 1181l6 6m-6 0l6 -6M611 1150l5 5m-5 0l5 -5M611 1102l6 6m-6 0l6 -6M612 1144l5 5m-5 0l5 -5M612 1178l6 6m-6 0l6 -6M613 1087l5 5m-5 0l5 -5M613 1190l5 5m-5 0l5 -5M613 1188l6 6m-6 0l6 -6M614 1148l5 5m-5 0l5 -5M614 1150l6 6m-6 0l6 -6M615 1194l5 5m-5 0l5 -5M615 1153l6 6m-6 0l6 -6M616 1174l5 5m-5 0l5 -5M616 1099l5 5m-5 0l5 -5M616 1171l6 6m-6 0l6 -6M617 1146l5 5m-5 0l5 -5M617 1144l6 6m-6 0l6 -6M618 1162l5 5m-5 0l5 -5M618 1197l6 6m-6 0l6 -6M619 1199l5 5m-5 0l5 -5M619 1131l5 5m-5 0l5 -5M619 1120l6 6m-6 0l6 -6M620 1221l5 5m-5 0l5 -5M620 1185l6 6m-6 0l6 -6M621 1124l5 5m-5 0l5 -5M621 1183l6 6m-6 0l6 -6M622 1123l5 5m-5 0l5 -5M622 1159l5 5m-5 0l5 -5M622 1199l6 6m-6 0l6 -6M623 1172l5 5m-5 0l5 -5M623 1185l6 6m-6 0l6 -6M624 1109l5 5m-5 0l5 -5M624 1091l6 6m-6 0l6 -6M625 1167l5 5m-5 0l5 -5M625 1145l5 5m-5 0l5 -5M625 1147l6 6m-6 0l6 -6M626 1143l5 5m-5 0l5 -5M626 1136l6 6m-6 0l6 -6M627 1110l5 5m-5 0l5 -5M627 1173l6 6m-6 0l6 -6M628 1164l5 5m-5 0l5 -5M628 1119l5 5m-5 0l5 -5M628 1168l6 6m-6 0l6 -6M629 1112l5 5m-5 0l5 -5M629 1099l6 6m-6 0l6 -6M630 1153l5 5m-5 0l5 -5M630 1299l6 6m-6 0l6 -6M631 1109l5 5m-5 0l5 -5M631 1147l5 5m-5 0l5 -5M631 1120l6 6m-6 0l6 -6M632 1177l5 5m-5 0l5 -5M632 1162l6 6m-6 0l6 -6M633 1125l5 5m-5 0l5 -5M633 1167l6 6m-6 0l6 -6M634 1143l5 5m-5 0l5 -5M634 1197l5 5m-5 0l5 -5M634 1102l6 6m-6 0l6 -6M635 1176l5 5m-5 0l5 -5M635 1195l6 6m-6 0l6 -6M636 1171l5 5m-5 0l5 -5M636 1101l6 6m-6 0l6 -6M637 1144l5 5m-5 0l5 -5M637 1160l5 5m-5 0l5 -5M637 1167l6 6m-6 0l6 -6M638 1177l5 5m-5 0l5 -5M638 1122l6 6m-6 0l6 -6M639 1164l5 5m-5 0l5 -5M639 1227l6 6m-6 0l6 -6M640 1129l5 5m-5 0l5 -5M640 1094l5 5m-5 0l5 -5M640 1180l6 6m-6 0l6 -6M641 1180l5 5m-5 0l5 -5M641 1153l6 6m-6 0l6 -6M642 1231l5 5m-5 0l5 -5M642 1164l6 6m-6 0l6 -6M643 1186l5 5m-5 0l5 -5M643 1109l5 5m-5 0l5 -5M643 1153l6 6m-6 0l6 -6M644 1218l5 5m-5 0l5 -5M644 1177l6 6m-6 0l6 -6M645 1178l5 5m-5 0l5 -5M645 1170l6 6m-6 0l6 -6M646 1159l5 5m-5 0l5 -5M646 1155l5 5m-5 0l5 -5M646 1156l6 6m-6 0l6 -6M647 1202l5 5m-5 0l5 -5M647 1174l6 6m-6 0l6 -6M648 1154l5 5m-5 0l5 -5M648 1173l6 6m-6 0l6 -6M649 1165l5 5m-5 0l5 -5M649 1153l5 5m-5 0l5 -5M650 1192l5 5m-5 0l5 -5M650 1158l5 5m-5 0l5 -5M650 1175l6 6m-6 0l6 -6M651 1181l5 5m-5 0l5 -5M651 1235l6 6m-6 0l6 -6M652 1149l5 5m-5 0l5 -5M652 1224l5 5m-5 0l5 -5M653 1188l5 5m-5 0l5 -5M653 1169l5 5m-5 0l5 -5M653 1136l6 6m-6 0l6 -6M654 1255l5 5m-5 0l5 -5M654 1201l6 6m-6 0l6 -6M655 1171l5 5m-5 0l5 -5M655 1143l5 5m-5 0l5 -5M656 1137l5 5m-5 0l5 -5M656 1239l5 5m-5 0l5 -5M656 1141l6 6m-6 0l6 -6M657 1214l5 5m-5 0l5 -5M657 1166l6 6m-6 0l6 -6M658 1120l5 5m-5 0l5 -5M658 1138l5 5m-5 0l5 -5M659 1168l5 5m-5 0l5 -5M659 1185l5 5m-5 0l5 -5M659 1195l6 6m-6 0l6 -6M660 1187l5 5m-5 0l5 -5M660 1189l6 6m-6 0l6 -6M661 1189l5 5m-5 0l5 -5M661 1234l5 5m-5 0l5 -5M662 1226l5 5m-5 0l5 -5M662 1174l5 5m-5 0l5 -5M662 1145l6 6m-6 0l6 -6M663 1155l5 5m-5 0l5 -5M663 1215l6 6m-6 0l6 -6M664 1250l5 5m-5 0l5 -5M664 1198l6 6m-6 0l6 -6M665 1265l5 5m-5 0l5 -5M665 1208l5 5m-5 0l5 -5M665 1237l6 6m-6 0l6 -6M666 1182l5 5m-5 0l5 -5M666 1213l6 6m-6 0l6 -6M667 1200l5 5m-5 0l5 -5M667 1137l6 6m-6 0l6 -6M668 1143l5 5m-5 0l5 -5M668 1225l5 5m-5 0l5 -5M668 1211l6 6m-6 0l6 -6M669 1228l5 5m-5 0l5 -5M669 1121l6 6m-6 0l6 -6M670 1202l5 5m-5 0l5 -5M670 1105l6 6m-6 0l6 -6M671 1106l5 5m-5 0l5 -5M671 1144l5 5m-5 0l5 -5M671 1243l6 6m-6 0l6 -6M672 1190l5 5m-5 0l5 -5M672 1321l6 6m-6 0l6 -6M673 1198l5 5m-5 0l5 -5M673 1182l6 6m-6 0l6 -6M674 1192l5 5m-5 0l5 -5M674 1202l5 5m-5 0l5 -5M674 1145l6 6m-6 0l6 -6M675 1160l5 5m-5 0l5 -5M675 1208l6 6m-6 0l6 -6M676 1159l5 5m-5 0l5 -5M676 1113l6 6m-6 0l6 -6M677 1202l5 5m-5 0l5 -5M677 1147l5 5m-5 0l5 -5M677 1223l6 6m-6 0l6 -6M678 1206l5 5m-5 0l5 -5M678 1173l6 6m-6 0l6 -6M679 1207l5 5m-5 0l5 -5M679 1218l6 6m-6 0l6 -6M680 1227l5 5m-5 0l5 -5M680 1193l5 5m-5 0l5 -5M680 1203l6 6m-6 0l6 -6M681 1151l5 5m-5 0l5 -5M681 1224l6 6m-6 0l6 -6M682 1199l5 5m-5 0l5 -5M682 1154l6 6m-6 0l6 -6M683 1183l5 5m-5 0l5 -5M683 1234l5 5m-5 0l5 -5M683 1142l6 6m-6 0l6 -6M684 1240l5 5m-5 0l5 -5M684 1212l6 6m-6 0l6 -6M685 1151l5 5m-5 0l5 -5M685 1229l6 6m-6 0l6 -6M686 1302l5 5m-5 0l5 -5M686 1236l5 5m-5 0l5 -5M686 1215l6 6m-6 0l6 -6M687 1159l5 5m-5 0l5 -5M687 1147l6 6m-6 0l6 -6M688 1091l5 5m-5 0l5 -5M688 1160l6 6m-6 0l6 -6M689 1159l5 5m-5 0l5 -5M689 1203l5 5m-5 0l5 -5M689 1126l6 6m-6 0l6 -6M690 1198l5 5m-5 0l5 -5M690 1189l6 6m-6 0l6 -6M691 1246l5 5m-5 0l5 -5M691 1249l6 6m-6 0l6 -6M692 1218l5 5m-5 0l5 -5M692 1202l5 5m-5 0l5 -5M692 1200l6 6m-6 0l6 -6M693 1112l5 5m-5 0l5 -5M693 1215l6 6m-6 0l6 -6M694 1194l5 5m-5 0l5 -5M694 1208l6 6m-6 0l6 -6M695 1141l5 5m-5 0l5 -5M695 1171l5 5m-5 0l5 -5M695 1177l6 6m-6 0l6 -6M696 1219l5 5m-5 0l5 -5M696 1184l6 6m-6 0l6 -6M697 1109l5 5m-5 0l5 -5M697 1219l6 6m-6 0l6 -6M698 1132l5 5m-5 0l5 -5M698 1308l5 5m-5 0l5 -5M698 1078l6 6m-6 0l6 -6M699 1128l5 5m-5 0l5 -5M699 1229l6 6m-6 0l6 -6M700 1178l5 5m-5 0l5 -5M700 1148l6 6m-6 0l6 -6M701 1215l5 5m-5 0l5 -5M701 1171l5 5m-5 0l5 -5M701 1209l6 6m-6 0l6 -6M702 1200l5 5m-5 0l5 -5M702 1217l6 6m-6 0l6 -6M703 1199l5 5m-5 0l5 -5M703 1158l6 6m-6 0l6 -6M704 1162l5 5m-5 0l5 -5M704 1168l5 5m-5 0l5 -5M704 1185l6 6m-6 0l6 -6M705 1143l5 5m-5 0l5 -5M705 1243l6 6m-6 0l6 -6M706 1136l5 5m-5 0l5 -5M706 1115l6 6m-6 0l6 -6M707 1210l5 5m-5 0l5 -5M707 1175l5 5m-5 0l5 -5M707 1263l6 6m-6 0l6 -6M708 1167l5 5m-5 0l5 -5M708 1178l6 6m-6 0l6 -6M709 1138l5 5m-5 0l5 -5M709 1152l6 6m-6 0l6 -6M710 1132l5 5m-5 0l5 -5M710 1252l5 5m-5 0l5 -5M710 1229l6 6m-6 0l6 -6M711 1226l5 5m-5 0l5 -5M711 1140l6 6m-6 0l6 -6M712 1319l5 5m-5 0l5 -5M712 1153l6 6m-6 0l6 -6M713 1248l5 5m-5 0l5 -5M713 1195l5 5m-5 0l5 -5M713 1138l6 6m-6 0l6 -6M714 1186l5 5m-5 0l5 -5M714 1118l6 6m-6 0l6 -6M715 1174l5 5m-5 0l5 -5M715 1206l6 6m-6 0l6 -6M716 1181l5 5m-5 0l5 -5M716 1184l5 5m-5 0l5 -5M716 1257l6 6m-6 0l6 -6M717 1120l5 5m-5 0l5 -5M717 1245l6 6m-6 0l6 -6M718 1164l5 5m-5 0l5 -5M718 1180l6 6m-6 0l6 -6M719 1150l5 5m-5 0l5 -5M719 1099l5 5m-5 0l5 -5M719 1147l6 6m-6 0l6 -6M720 1167l5 5m-5 0l5 -5M720 1178l6 6m-6 0l6 -6M721 1166l5 5m-5 0l5 -5M721 1175l6 6m-6 0l6 -6M722 1150l5 5m-5 0l5 -5M722 1141l5 5m-5 0l5 -5M722 1191l6 6m-6 0l6 -6M723 1169l5 5m-5 0l5 -5M723 1193l6 6m-6 0l6 -6M724 1254l5 5m-5 0l5 -5M724 1172l6 6m-6 0l6 -6M725 1116l5 5m-5 0l5 -5M725 1143l5 5m-5 0l5 -5M725 1246l6 6m-6 0l6 -6M726 1204l5 5m-5 0l5 -5M726 1138l6 6m-6 0l6 -6M727 1126l5 5m-5 0l5 -5M727 1195l6 6m-6 0l6 -6M728 1151l5 5m-5 0l5 -5M728 1140l5 5m-5 0l5 -5M728 1190l6 6m-6 0l6 -6M729 1201l5 5m-5 0l5 -5M729 1175l6 6m-6 0l6 -6M730 1165l5 5m-5 0l5 -5M730 1177l6 6m-6 0l6 -6M731 1205l5 5m-5 0l5 -5M731 1200l5 5m-5 0l5 -5M732 1168l5 5m-5 0l5 -5M732 1169l5 5m-5 0l5 -5M732 1180l6 6m-6 0l6 -6M733 1226l5 5m-5 0l5 -5M733 1177l6 6m-6 0l6 -6M734 1189l5 5m-5 0l5 -5M734 1189l5 5m-5 0l5 -5M735 1169l5 5m-5 0l5 -5M735 1181l5 5m-5 0l5 -5M735 1211l6 6m-6 0l6 -6M736 1257l5 5m-5 0l5 -5M736 1256l6 6m-6 0l6 -6M737 1136l5 5m-5 0l5 -5M737 1179l5 5m-5 0l5 -5M738 1158l5 5m-5 0l5 -5M738 1099l5 5m-5 0l5 -5M738 1193l6 6m-6 0l6 -6M739 1110l5 5m-5 0l5 -5M739 1155l6 6m-6 0l6 -6M740 1212l5 5m-5 0l5 -5M740 1301l5 5m-5 0l5 -5M741 1200l5 5m-5 0l5 -5M741 1206l5 5m-5 0l5 -5M741 1203l6 6m-6 0l6 -6M742 1221l5 5m-5 0l5 -5M742 1174l6 6m-6 0l6 -6M743 1126l5 5m-5 0l5 -5M743 1160l5 5m-5 0l5 -5M744 1183l5 5m-5 0l5 -5M744 1188l5 5m-5 0l5 -5M744 1122l6 6m-6 0l6 -6M745 1149l5 5m-5 0l5 -5M745 1153l6 6m-6 0l6 -6M746 1299l5 5m-5 0l5 -5M746 1162l6 6m-6 0l6 -6M747 1210l5 5m-5 0l5 -5M747 1152l5 5m-5 0l5 -5M747 1147l6 6m-6 0l6 -6M748 1126l5 5m-5 0l5 -5M748 1144l6 6m-6 0l6 -6M749 1213l5 5m-5 0l5 -5M749 1155l6 6m-6 0l6 -6M750 1131l5 5m-5 0l5 -5M750 1162l5 5m-5 0l5 -5M750 1160l6 6m-6 0l6 -6M751 1173l5 5m-5 0l5 -5M751 1183l6 6m-6 0l6 -6M752 1182l5 5m-5 0l5 -5M752 1237l6 6m-6 0l6 -6M753 1168l5 5m-5 0l5 -5M753 1167l5 5m-5 0l5 -5M753 1143l6 6m-6 0l6 -6M754 1212l5 5m-5 0l5 -5M754 1187l6 6m-6 0l6 -6M755 1232l5 5m-5 0l5 -5M755 1195l6 6m-6 0l6 -6M756 1199l5 5m-5 0l5 -5M756 1162l5 5m-5 0l5 -5M756 1122l6 6m-6 0l6 -6M757 1156l5 5m-5 0l5 -5M757 1141l6 6m-6 0l6 -6M758 1196l5 5m-5 0l5 -5M758 1133l6 6m-6 0l6 -6M759 1170l5 5m-5 0l5 -5M759 1169l5 5m-5 0l5 -5M759 1202l6 6m-6 0l6 -6M760 1165l5 5m-5 0l5 -5M760 1190l6 6m-6 0l6 -6M761 1274l5 5m-5 0l5 -5M761 1194l6 6m-6 0l6 -6M762 1191l5 5m-5 0l5 -5M762 1228l5 5m-5 0l5 -5M762 1230l6 6m-6 0l6 -6M763 1167l5 5m-5 0l5 -5M763 1210l6 6m-6 0l6 -6M764 1146l5 5m-5 0l5 -5M764 1082l6 6m-6 0l6 -6M765 1195l5 5m-5 0l5 -5M765 1156l5 5m-5 0l5 -5M765 1155l6 6m-6 0l6 -6M766 1175l5 5m-5 0l5 -5M766 1182l6 6m-6 0l6 -6M767 1161l5 5m-5 0l5 -5M767 1225l6 6m-6 0l6 -6M768 1195l5 5m-5 0l5 -5M768 1138l5 5m-5 0l5 -5M768 1194l6 6m-6 0l6 -6M769 1232l5 5m-5 0l5 -5M769 1179l6 6m-6 0l6 -6M770 1274l5 5m-5 0l5 -5M770 1190l6 6m-6 0l6 -6M771 1155l5 5m-5 0l5 -5M771 1203l5 5m-5 0l5 -5M771 1139l6 6m-6 0l6 -6M772 1205l5 5m-5 0l5 -5M772 1220l6 6m-6 0l6 -6M773 1175l5 5m-5 0l5 -5M773 1194l6 6m-6 0l6 -6M774 1137l5 5m-5 0l5 -5M774 1207l5 5m-5 0l5 -5M774 1232l6 6m-6 0l6 -6M775 1208l5 5m-5 0l5 -5M775 1209l6 6m-6 0l6 -6M776 1162l5 5m-5 0l5 -5M776 1165l6 6m-6 0l6 -6M777 1201l5 5m-5 0l5 -5M777 1227l5 5m-5 0l5 -5M777 1086l6 6m-6 0l6 -6M778 1189l5 5m-5 0l5 -5M778 1186l6 6m-6 0l6 -6M779 1221l5 5m-5 0l5 -5M779 1215l6 6m-6 0l6 -6M780 1240l5 5m-5 0l5 -5M780 1233l5 5m-5 0l5 -5M780 1229l6 6m-6 0l6 -6M781 1175l5 5m-5 0l5 -5M781 1163l6 6m-6 0l6 -6M782 1146l5 5m-5 0l5 -5M782 1216l6 6m-6 0l6 -6M783 1100l5 5m-5 0l5 -5M783 1137l5 5m-5 0l5 -5M783 1208l6 6m-6 0l6 -6M784 1179l5 5m-5 0l5 -5M784 1218l6 6m-6 0l6 -6M785 1184l5 5m-5 0l5 -5M785 1178l6 6m-6 0l6 -6M786 1168l5 5m-5 0l5 -5M786 1159l5 5m-5 0l5 -5M786 1166l6 6m-6 0l6 -6M787 1246l5 5m-5 0l5 -5M787 1157l6 6m-6 0l6 -6M788 1201l5 5m-5 0l5 -5M788 1327l6 6m-6 0l6 -6M789 1187l5 5m-5 0l5 -5M789 1133l5 5m-5 0l5 -5M789 1130l6 6m-6 0l6 -6M790 1160l5 5m-5 0l5 -5M790 1143l6 6m-6 0l6 -6M791 1252l5 5m-5 0l5 -5M791 1204l6 6m-6 0l6 -6M792 1178l5 5m-5 0l5 -5M792 1145l5 5m-5 0l5 -5M792 1140l6 6m-6 0l6 -6M793 1174l5 5m-5 0l5 -5M793 1242l6 6m-6 0l6 -6M794 1184l5 5m-5 0l5 -5M794 1126l6 6m-6 0l6 -6M795 1207l5 5m-5 0l5 -5M795 1174l5 5m-5 0l5 -5M795 1084l6 6m-6 0l6 -6M796 1193l5 5m-5 0l5 -5M796 1170l6 6m-6 0l6 -6M797 1196l5 5m-5 0l5 -5M797 1190l6 6m-6 0l6 -6M798 1187l5 5m-5 0l5 -5M798 1177l5 5m-5 0l5 -5M798 1195l6 6m-6 0l6 -6M799 1179l5 5m-5 0l5 -5M799 1121l6 6m-6 0l6 -6M800 1193l5 5m-5 0l5 -5M800 1197l6 6m-6 0l6 -6M801 1224l5 5m-5 0l5 -5M801 1189l5 5m-5 0l5 -5M801 1235l6 6m-6 0l6 -6M802 1205l5 5m-5 0l5 -5M802 1198l6 6m-6 0l6 -6M803 1176l5 5m-5 0l5 -5M803 1156l6 6m-6 0l6 -6M804 1167l5 5m-5 0l5 -5M804 1195l5 5m-5 0l5 -5M804 1254l6 6m-6 0l6 -6M805 1190l5 5m-5 0l5 -5M805 1173l6 6m-6 0l6 -6M806 1223l5 5m-5 0l5 -5M806 1139l6 6m-6 0l6 -6M807 1157l5 5m-5 0l5 -5M807 1203l5 5m-5 0l5 -5M807 1199l6 6m-6 0l6 -6M808 1209l5 5m-5 0l5 -5M808 1203l6 6m-6 0l6 -6M809 1199l5 5m-5 0l5 -5M809 1215l6 6m-6 0l6 -6M810 1155l5 5m-5 0l5 -5M810 1215l5 5m-5 0l5 -5M810 1215l6 6m-6 0l6 -6M811 1301l5 5m-5 0l5 -5M811 1196l6 6m-6 0l6 -6M812 1192l5 5m-5 0l5 -5M812 1235l6 6m-6 0l6 -6M813 1211l5 5m-5 0l5 -5M813 1233l5 5m-5 0l5 -5M814 1161l5 5m-5 0l5 -5M814 1233l5 5m-5 0l5 -5M814 1158l6 6m-6 0l6 -6M815 1194l5 5m-5 0l5 -5M815 1213l6 6m-6 0l6 -6M816 1155l5 5m-5 0l5 -5M816 1174l5 5m-5 0l5 -5M817 1185l5 5m-5 0l5 -5M817 1163l5 5m-5 0l5 -5M817 1155l6 6m-6 0l6 -6M818 1223l5 5m-5 0l5 -5M818 1217l6 6m-6 0l6 -6M819 1193l5 5m-5 0l5 -5M819 1185l5 5m-5 0l5 -5M820 1202l5 5m-5 0l5 -5M820 1198l5 5m-5 0l5 -5M820 1216l6 6m-6 0l6 -6M821 1280l5 5m-5 0l5 -5M821 1192l6 6m-6 0l6 -6M822 1201l5 5m-5 0l5 -5M822 1112l5 5m-5 0l5 -5M823 1238l5 5m-5 0l5 -5M823 1189l5 5m-5 0l5 -5M823 1190l6 6m-6 0l6 -6M824 1191l5 5m-5 0l5 -5M824 1203l6 6m-6 0l6 -6M825 1164l5 5m-5 0l5 -5M825 1252l5 5m-5 0l5 -5M826 1188l5 5m-5 0l5 -5M826 1129l5 5m-5 0l5 -5M826 1188l6 6m-6 0l6 -6M827 1134l5 5m-5 0l5 -5M827 1134l6 6m-6 0l6 -6M828 1201l5 5m-5 0l5 -5M828 1182l6 6m-6 0l6 -6M829 1137l5 5m-5 0l5 -5M829 1226l5 5m-5 0l5 -5M829 1148l6 6m-6 0l6 -6M830 1107l5 5m-5 0l5 -5M830 1103l6 6m-6 0l6 -6M831 1209l5 5m-5 0l5 -5M831 1217l6 6m-6 0l6 -6M832 1174l5 5m-5 0l5 -5M832 1165l5 5m-5 0l5 -5M832 1216l6 6m-6 0l6 -6M833 1219l5 5m-5 0l5 -5M833 1162l6 6m-6 0l6 -6M834 1150l5 5m-5 0l5 -5M834 1188l6 6m-6 0l6 -6M835 1183l5 5m-5 0l5 -5M835 1179l5 5m-5 0l5 -5M835 1130l6 6m-6 0l6 -6M836 1205l5 5m-5 0l5 -5M836 1199l6 6m-6 0l6 -6M837 1227l5 5m-5 0l5 -5M837 1133l6 6m-6 0l6 -6M838 1164l5 5m-5 0l5 -5M838 1147l5 5m-5 0l5 -5M838 1210l6 6m-6 0l6 -6M839 1231l5 5m-5 0l5 -5M839 1221l6 6m-6 0l6 -6M840 1215l5 5m-5 0l5 -5M840 1154l6 6m-6 0l6 -6M841 1201l5 5m-5 0l5 -5M841 1212l5 5m-5 0l5 -5M841 1262l6 6m-6 0l6 -6M842 1221l5 5m-5 0l5 -5M842 1219l6 6m-6 0l6 -6M843 1243l5 5m-5 0l5 -5M843 1206l6 6m-6 0l6 -6M844 1199l5 5m-5 0l5 -5M844 1207l5 5m-5 0l5 -5M844 1208l6 6m-6 0l6 -6M845 1189l5 5m-5 0l5 -5M845 1244l6 6m-6 0l6 -6M846 1208l5 5m-5 0l5 -5M846 1228l6 6m-6 0l6 -6M847 1246l5 5m-5 0l5 -5M847 1173l5 5m-5 0l5 -5M847 1161l6 6m-6 0l6 -6M848 1148l5 5m-5 0l5 -5M848 1165l6 6m-6 0l6 -6M849 1182l5 5m-5 0l5 -5M849 1117l6 6m-6 0l6 -6M850 1160l5 5m-5 0l5 -5M850 1183l5 5m-5 0l5 -5M850 1210l6 6m-6 0l6 -6M851 1125l5 5m-5 0l5 -5M851 1169l6 6m-6 0l6 -6M852 1221l5 5m-5 0l5 -5M852 1249l6 6m-6 0l6 -6M853 1241l5 5m-5 0l5 -5M853 1192l5 5m-5 0l5 -5M853 1202l6 6m-6 0l6 -6M854 1268l5 5m-5 0l5 -5M854 1181l6 6m-6 0l6 -6M855 1207l5 5m-5 0l5 -5M855 1224l6 6m-6 0l6 -6M856 1241l5 5m-5 0l5 -5M856 1151l5 5m-5 0l5 -5M856 1178l6 6m-6 0l6 -6M857 1129l5 5m-5 0l5 -5M857 1199l6 6m-6 0l6 -6M858 1177l5 5m-5 0l5 -5M858 1184l6 6m-6 0l6 -6M859 1179l5 5m-5 0l5 -5M859 1142l5 5m-5 0l5 -5M859 1195l6 6m-6 0l6 -6M860 1170l5 5m-5 0l5 -5M860 1148l6 6m-6 0l6 -6M861 1146l5 5m-5 0l5 -5M861 1204l6 6m-6 0l6 -6M862 1117l5 5m-5 0l5 -5M862 1127l5 5m-5 0l5 -5M862 1180l6 6m-6 0l6 -6M863 1162l5 5m-5 0l5 -5M863 1232l6 6m-6 0l6 -6M864 1210l5 5m-5 0l5 -5M864 1141l6 6m-6 0l6 -6M865 1167l5 5m-5 0l5 -5M865 1194l5 5m-5 0l5 -5M865 1162l6 6m-6 0l6 -6M866 1204l5 5m-5 0l5 -5M866 1163l6 6m-6 0l6 -6M867 1206l5 5m-5 0l5 -5M867 1205l6 6m-6 0l6 -6M868 1231l5 5m-5 0l5 -5M868 1210l5 5m-5 0l5 -5M868 1239l6 6m-6 0l6 -6M869 1334l5 5m-5 0l5 -5M869 1211l6 6m-6 0l6 -6M870 1259l5 5m-5 0l5 -5M870 1220l6 6m-6 0l6 -6M871 1240l5 5m-5 0l5 -5M871 1109l5 5m-5 0l5 -5M871 1212l6 6m-6 0l6 -6M872 1163l5 5m-5 0l5 -5M872 1199l6 6m-6 0l6 -6M873 1202l5 5m-5 0l5 -5M873 1215l6 6m-6 0l6 -6M874 1166l5 5m-5 0l5 -5M874 1241l5 5m-5 0l5 -5M874 1209l6 6m-6 0l6 -6M875 1223l5 5m-5 0l5 -5M875 1212l6 6m-6 0l6 -6M876 1199l5 5m-5 0l5 -5M876 1124l6 6m-6 0l6 -6M877 1235l5 5m-5 0l5 -5M877 1185l5 5m-5 0l5 -5M877 1198l6 6m-6 0l6 -6M878 1161l5 5m-5 0l5 -5M878 1135l6 6m-6 0l6 -6M879 1114l5 5m-5 0l5 -5M879 1193l6 6m-6 0l6 -6M880 1172l5 5m-5 0l5 -5M880 1206l5 5m-5 0l5 -5M880 1217l6 6m-6 0l6 -6M881 1193l5 5m-5 0l5 -5M881 1202l6 6m-6 0l6 -6M882 1201l5 5m-5 0l5 -5M882 1164l6 6m-6 0l6 -6M883 1184l5 5m-5 0l5 -5M883 1170l5 5m-5 0l5 -5M883 1078l6 6m-6 0l6 -6M884 1299l5 5m-5 0l5 -5M884 1222l6 6m-6 0l6 -6M885 1245l5 5m-5 0l5 -5M885 1178l6 6m-6 0l6 -6M886 1144l5 5m-5 0l5 -5M886 1140l5 5m-5 0l5 -5M886 1183l6 6m-6 0l6 -6M887 1176l5 5m-5 0l5 -5M887 1196l6 6m-6 0l6 -6M888 1243l5 5m-5 0l5 -5M888 1235l6 6m-6 0l6 -6M889 1211l5 5m-5 0l5 -5M889 1214l5 5m-5 0l5 -5M889 1270l6 6m-6 0l6 -6M890 1196l5 5m-5 0l5 -5M890 1214l6 6m-6 0l6 -6M891 1208l5 5m-5 0l5 -5M891 1196l6 6m-6 0l6 -6M892 1199l5 5m-5 0l5 -5M892 1142l5 5m-5 0l5 -5M892 1169l6 6m-6 0l6 -6M893 1247l5 5m-5 0l5 -5M893 1236l6 6m-6 0l6 -6M894 1137l5 5m-5 0l5 -5M894 1165l6 6m-6 0l6 -6M895 1233l5 5m-5 0l5 -5M895 1265l5 5m-5 0l5 -5M896 1247l5 5m-5 0l5 -5M896 1177l5 5m-5 0l5 -5M896 1256l6 6m-6 0l6 -6M897 1208l5 5m-5 0l5 -5M897 1143l6 6m-6 0l6 -6M898 1174l5 5m-5 0l5 -5M898 1198l5 5m-5 0l5 -5M899 1228l5 5m-5 0l5 -5M899 1267l5 5m-5 0l5 -5M899 1216l6 6m-6 0l6 -6M900 1269l5 5m-5 0l5 -5M900 1223l6 6m-6 0l6 -6M901 1234l5 5m-5 0l5 -5M901 1216l5 5m-5 0l5 -5M902 1203l5 5m-5 0l5 -5M902 1124l5 5m-5 0l5 -5M902 1172l6 6m-6 0l6 -6M903 1268l5 5m-5 0l5 -5M903 1245l6 6m-6 0l6 -6M904 1272l5 5m-5 0l5 -5M904 1200l5 5m-5 0l5 -5M905 1266l5 5m-5 0l5 -5M905 1199l5 5m-5 0l5 -5M905 1191l6 6m-6 0l6 -6M906 1219l5 5m-5 0l5 -5M906 1152l6 6m-6 0l6 -6M907 1207l5 5m-5 0l5 -5M907 1211l5 5m-5 0l5 -5M907 1343l6 6m-6 0l6 -6M908 1186l5 5m-5 0l5 -5M908 1149l6 6m-6 0l6 -6M909 1164l5 5m-5 0l5 -5M909 1125l6 6m-6 0l6 -6M910 1204l5 5m-5 0l5 -5M910 1146l5 5m-5 0l5 -5M911 1183l5 5m-5 0l5 -5M911 1097l5 5m-5 0l5 -5M911 1195l6 6m-6 0l6 -6M912 1143l5 5m-5 0l5 -5M912 1202l6 6m-6 0l6 -6M913 1193l5 5m-5 0l5 -5M913 1184l6 6m-6 0l6 -6M914 1246l5 5m-5 0l5 -5M914 1247l5 5m-5 0l5 -5M914 1143l6 6m-6 0l6 -6M915 1163l5 5m-5 0l5 -5M915 1173l6 6m-6 0l6 -6M916 1161l5 5m-5 0l5 -5M916 1145l6 6m-6 0l6 -6M917 1137l5 5m-5 0l5 -5M917 1107l5 5m-5 0l5 -5M917 1169l6 6m-6 0l6 -6M918 1176l5 5m-5 0l5 -5M918 1216l6 6m-6 0l6 -6M919 1212l5 5m-5 0l5 -5M919 1216l6 6m-6 0l6 -6M920 1155l5 5m-5 0l5 -5M920 1126l5 5m-5 0l5 -5M920 1126l6 6m-6 0l6 -6M921 1239l5 5m-5 0l5 -5M921 1177l6 6m-6 0l6 -6M922 1172l5 5m-5 0l5 -5M922 1244l6 6m-6 0l6 -6M923 1201l5 5m-5 0l5 -5M923 1201l5 5m-5 0l5 -5M923 1233l6 6m-6 0l6 -6M924 1205l5 5m-5 0l5 -5M924 1221l6 6m-6 0l6 -6M925 1198l5 5m-5 0l5 -5M925 1206l6 6m-6 0l6 -6M926 1205l5 5m-5 0l5 -5M926 1242l5 5m-5 0l5 -5M926 1220l6 6m-6 0l6 -6M927 1166l5 5m-5 0l5 -5M927 1172l6 6m-6 0l6 -6M928 1248l5 5m-5 0l5 -5M928 1174l6 6m-6 0l6 -6M929 1195l5 5m-5 0l5 -5M929 1206l5 5m-5 0l5 -5M929 1207l6 6m-6 0l6 -6M930 1184l5 5m-5 0l5 -5M930 1155l6 6m-6 0l6 -6M931 1143l5 5m-5 0l5 -5M931 1140l6 6m-6 0l6 -6M932 1210l5 5m-5 0l5 -5M932 1252l5 5m-5 0l5 -5M932 1143l6 6m-6 0l6 -6M933 1190l5 5m-5 0l5 -5M933 1276l6 6m-6 0l6 -6M934 1228l5 5m-5 0l5 -5M934 1240l6 6m-6 0l6 -6M935 1166l5 5m-5 0l5 -5M935 1177l5 5m-5 0l5 -5M935 1192l6 6m-6 0l6 -6M936 1189l5 5m-5 0l5 -5M936 1137l6 6m-6 0l6 -6M937 1200l5 5m-5 0l5 -5M937 1141l6 6m-6 0l6 -6M938 1092l5 5m-5 0l5 -5M938 1206l5 5m-5 0l5 -5M938 1117l6 6m-6 0l6 -6M939 1174l5 5m-5 0l5 -5M939 1155l6 6m-6 0l6 -6M940 1142l5 5m-5 0l5 -5M940 1292l6 6m-6 0l6 -6M941 1195l5 5m-5 0l5 -5M941 1239l5 5m-5 0l5 -5M941 1197l6 6m-6 0l6 -6M942 1121l5 5m-5 0l5 -5M942 1298l6 6m-6 0l6 -6M943 1231l5 5m-5 0l5 -5M943 1209l6 6m-6 0l6 -6M944 1153l5 5m-5 0l5 -5M944 1159l5 5m-5 0l5 -5M944 1086l6 6m-6 0l6 -6M945 1257l5 5m-5 0l5 -5M945 1213l6 6m-6 0l6 -6M946 1186l5 5m-5 0l5 -5M946 1167l6 6m-6 0l6 -6M947 1204l5 5m-5 0l5 -5M947 1264l5 5m-5 0l5 -5M947 1147l6 6m-6 0l6 -6M948 1237l5 5m-5 0l5 -5M948 1200l6 6m-6 0l6 -6M949 1172l5 5m-5 0l5 -5M949 1199l6 6m-6 0l6 -6M950 1228l5 5m-5 0l5 -5M950 1098l5 5m-5 0l5 -5M950 1136l6 6m-6 0l6 -6M951 1185l5 5m-5 0l5 -5M951 1175l6 6m-6 0l6 -6M952 1160l5 5m-5 0l5 -5M952 1185l6 6m-6 0l6 -6M953 1186l5 5m-5 0l5 -5M953 1183l5 5m-5 0l5 -5M953 1111l6 6m-6 0l6 -6M954 1177l5 5m-5 0l5 -5M954 1165l6 6m-6 0l6 -6M955 1151l5 5m-5 0l5 -5M955 1213l6 6m-6 0l6 -6M956 1144l5 5m-5 0l5 -5M956 1216l5 5m-5 0l5 -5M956 1137l6 6m-6 0l6 -6M957 1166l5 5m-5 0l5 -5M957 1234l6 6m-6 0l6 -6M958 1226l5 5m-5 0l5 -5M958 1302l6 6m-6 0l6 -6M959 1222l5 5m-5 0l5 -5M959 1211l5 5m-5 0l5 -5M959 1137l6 6m-6 0l6 -6M960 1275l5 5m-5 0l5 -5M960 1182l6 6m-6 0l6 -6M961 1165l5 5m-5 0l5 -5M961 1269l6 6m-6 0l6 -6M962 1144l5 5m-5 0l5 -5M962 1219l5 5m-5 0l5 -5M962 1219l6 6m-6 0l6 -6M963 1254l5 5m-5 0l5 -5M963 1256l6 6m-6 0l6 -6M964 1202l5 5m-5 0l5 -5M964 1182l6 6m-6 0l6 -6M965 1202l5 5m-5 0l5 -5M965 1252l5 5m-5 0l5 -5M965 1198l6 6m-6 0l6 -6M966 1229l5 5m-5 0l5 -5M966 1175l6 6m-6 0l6 -6M967 1228l5 5m-5 0l5 -5M967 1212l6 6m-6 0l6 -6M968 1234l5 5m-5 0l5 -5M968 1224l5 5m-5 0l5 -5M968 1216l6 6m-6 0l6 -6M969 1270l5 5m-5 0l5 -5M969 1195l6 6m-6 0l6 -6M970 1171l5 5m-5 0l5 -5M970 1153l6 6m-6 0l6 -6M971 1175l5 5m-5 0l5 -5M971 1092l5 5m-5 0l5 -5M971 1241l6 6m-6 0l6 -6M972 1213l5 5m-5 0l5 -5M972 1233l6 6m-6 0l6 -6M973 1285l5 5m-5 0l5 -5M973 1250l6 6m-6 0l6 -6M974 1202l5 5m-5 0l5 -5M974 1137l5 5m-5 0l5 -5M974 1219l6 6m-6 0l6 -6M975 1238l5 5m-5 0l5 -5M975 1192l6 6m-6 0l6 -6M976 1208l5 5m-5 0l5 -5M976 1229l6 6m-6 0l6 -6M977 1210l5 5m-5 0l5 -5M977 1205l5 5m-5 0l5 -5M978 1267l5 5m-5 0l5 -5M978 1153l5 5m-5 0l5 -5M978 1213l6 6m-6 0l6 -6M979 1235l5 5m-5 0l5 -5M979 1217l6 6m-6 0l6 -6M980 1206l5 5m-5 0l5 -5M980 1287l5 5m-5 0l5 -5M981 1252l5 5m-5 0l5 -5M981 1277l5 5m-5 0l5 -5M981 1228l6 6m-6 0l6 -6M982 1258l5 5m-5 0l5 -5M982 1205l6 6m-6 0l6 -6M983 1159l5 5m-5 0l5 -5M983 1236l5 5m-5 0l5 -5M984 1195l5 5m-5 0l5 -5M984 1226l5 5m-5 0l5 -5M984 1179l6 6m-6 0l6 -6M985 1199l5 5m-5 0l5 -5M985 1197l6 6m-6 0l6 -6M986 1180l5 5m-5 0l5 -5M986 1263l5 5m-5 0l5 -5M987 1184l5 5m-5 0l5 -5M987 1195l5 5m-5 0l5 -5M987 1167l6 6m-6 0l6 -6M988 1178l5 5m-5 0l5 -5M988 1218l6 6m-6 0l6 -6M989 1199l5 5m-5 0l5 -5M989 1174l5 5m-5 0l5 -5M990 1229l5 5m-5 0l5 -5M990 1194l5 5m-5 0l5 -5M990 1215l6 6m-6 0l6 -6M991 1240l5 5m-5 0l5 -5M991 1122l6 6m-6 0l6 -6M992 1221l5 5m-5 0l5 -5M992 1160l5 5m-5 0l5 -5M993 1195l5 5m-5 0l5 -5M993 1159l5 5m-5 0l5 -5M993 1260l6 6m-6 0l6 -6M994 1200l5 5m-5 0l5 -5M994 1234l6 6m-6 0l6 -6M995 1190l5 5m-5 0l5 -5M995 1224l6 6m-6 0l6 -6M996 1114l5 5m-5 0l5 -5M996 1162l5 5m-5 0l5 -5M996 1227l6 6m-6 0l6 -6M997 1231l5 5m-5 0l5 -5M997 1181l6 6m-6 0l6 -6M998 1217l5 5m-5 0l5 -5M998 1151l6 6m-6 0l6 -6M999 1143l5 5m-5 0l5 -5M999 1246l5 5m-5 0l5 -5M999 1164l6 6m-6 0l6 -6M1000 1197l5 5m-5 0l5 -5M1000 1238l6 6m-6 0l6 -6M1001 1186l5 5m-5 0l5 -5M1001 1159l6 6m-6 0l6 -6M1002 1290l5 5m-5 0l5 -5M1002 1173l5 5m-5 0l5 -5M1002 1181l6 6m-6 0l6 -6M1003 1216l5 5m-5 0l5 -5M1003 1226l6 6m-6 0l6 -6M1004 1150l5 5m-5 0l5 -5M1004 1184l6 6m-6 0l6 -6M1005 1185l5 5m-5 0l5 -5M1005 1237l5 5m-5 0l5 -5M1005 1174l6 6m-6 0l6 -6M1006 1217l5 5m-5 0l5 -5M1006 1260l6 6m-6 0l6 -6M1007 1156l5 5m-5 0l5 -5M1007 1235l6 6m-6 0l6 -6M1008 1139l5 5m-5 0l5 -5M1008 1202l5 5m-5 0l5 -5M1008 1197l6 6m-6 0l6 -6M1009 1265l5 5m-5 0l5 -5M1009 1207l6 6m-6 0l6 -6M1010 1254l5 5m-5 0l5 -5M1010 1210l6 6m-6 0l6 -6M1011 1295l5 5m-5 0l5 -5M1011 1275l5 5m-5 0l5 -5M1011 1205l6 6m-6 0l6 -6M1012 1268l5 5m-5 0l5 -5M1012 1216l6 6m-6 0l6 -6M1013 1165l5 5m-5 0l5 -5M1013 1173l6 6m-6 0l6 -6M1014 1152l5 5m-5 0l5 -5M1014 1147l5 5m-5 0l5 -5M1014 1223l6 6m-6 0l6 -6M1015 1284l5 5m-5 0l5 -5M1015 1222l6 6m-6 0l6 -6M1016 1248l5 5m-5 0l5 -5M1016 1205l6 6m-6 0l6 -6M1017 1213l5 5m-5 0l5 -5M1017 1231l5 5m-5 0l5 -5M1017 1185l6 6m-6 0l6 -6M1018 1194l5 5m-5 0l5 -5M1018 1186l6 6m-6 0l6 -6M1019 1233l5 5m-5 0l5 -5M1019 1285l6 6m-6 0l6 -6M1020 1172l5 5m-5 0l5 -5M1020 1241l5 5m-5 0l5 -5M1020 1209l6 6m-6 0l6 -6M1021 1208l5 5m-5 0l5 -5M1021 1132l6 6m-6 0l6 -6M1022 1194l5 5m-5 0l5 -5M1022 1163l6 6m-6 0l6 -6M1023 1202l5 5m-5 0l5 -5M1023 1190l5 5m-5 0l5 -5M1023 1225l6 6m-6 0l6 -6M1024 1255l5 5m-5 0l5 -5M1024 1179l6 6m-6 0l6 -6M1025 1198l5 5m-5 0l5 -5M1025 1303l6 6m-6 0l6 -6M1026 1282l5 5m-5 0l5 -5M1026 1224l5 5m-5 0l5 -5M1026 1220l6 6m-6 0l6 -6M1027 1189l5 5m-5 0l5 -5M1027 1187l6 6m-6 0l6 -6M1028 1189l5 5m-5 0l5 -5M1028 1159l6 6m-6 0l6 -6M1029 1161l5 5m-5 0l5 -5M1029 1181l5 5m-5 0l5 -5M1029 1254l6 6m-6 0l6 -6M1030 1217l5 5m-5 0l5 -5M1030 1168l6 6m-6 0l6 -6M1031 1185l5 5m-5 0l5 -5M1031 1217l6 6m-6 0l6 -6M1032 1224l5 5m-5 0l5 -5M1032 1191l5 5m-5 0l5 -5M1032 1223l6 6m-6 0l6 -6M1033 1228l5 5m-5 0l5 -5M1033 1222l6 6m-6 0l6 -6M1034 1199l5 5m-5 0l5 -5M1034 1236l6 6m-6 0l6 -6M1035 1195l5 5m-5 0l5 -5M1035 1227l5 5m-5 0l5 -5M1035 1194l6 6m-6 0l6 -6M1036 1306l5 5m-5 0l5 -5M1036 1265l6 6m-6 0l6 -6M1037 1216l5 5m-5 0l5 -5M1037 1226l6 6m-6 0l6 -6M1038 1149l5 5m-5 0l5 -5M1038 1205l5 5m-5 0l5 -5M1038 1252l6 6m-6 0l6 -6M1039 1188l5 5m-5 0l5 -5M1039 1190l6 6m-6 0l6 -6M1040 1192l5 5m-5 0l5 -5M1040 1193l6 6m-6 0l6 -6M1041 1184l5 5m-5 0l5 -5M1041 1149l5 5m-5 0l5 -5M1041 1234l6 6m-6 0l6 -6M1042 1257l5 5m-5 0l5 -5M1042 1236l6 6m-6 0l6 -6M1043 1221l5 5m-5 0l5 -5M1043 1264l6 6m-6 0l6 -6M1044 1124l5 5m-5 0l5 -5M1044 1221l5 5m-5 0l5 -5M1044 1198l6 6m-6 0l6 -6M1045 1202l5 5m-5 0l5 -5M1045 1178l6 6m-6 0l6 -6M1046 1167l5 5m-5 0l5 -5M1046 1162l6 6m-6 0l6 -6M1047 1194l5 5m-5 0l5 -5M1047 1205l5 5m-5 0l5 -5M1047 1295l6 6m-6 0l6 -6M1048 1197l5 5m-5 0l5 -5M1048 1264l6 6m-6 0l6 -6M1049 1209l5 5m-5 0l5 -5M1049 1203l6 6m-6 0l6 -6M1050 1220l5 5m-5 0l5 -5M1050 1269l5 5m-5 0l5 -5M1050 1250l6 6m-6 0l6 -6M1051 1266l5 5m-5 0l5 -5M1051 1220l6 6m-6 0l6 -6M1052 1165l5 5m-5 0l5 -5M1052 1230l6 6m-6 0l6 -6M1053 1237l5 5m-5 0l5 -5M1053 1143l5 5m-5 0l5 -5M1053 1143l6 6m-6 0l6 -6M1054 1206l5 5m-5 0l5 -5M1054 1234l6 6m-6 0l6 -6M1055 1221l5 5m-5 0l5 -5M1055 1214l6 6m-6 0l6 -6M1056 1198l5 5m-5 0l5 -5M1056 1177l5 5m-5 0l5 -5M1056 1250l6 6m-6 0l6 -6M1057 1210l5 5m-5 0l5 -5M1057 1177l6 6m-6 0l6 -6M1058 1267l5 5m-5 0l5 -5M1058 1219l6 6m-6 0l6 -6M1059 1194l5 5m-5 0l5 -5M1059 1198l5 5m-5 0l5 -5M1060 1201l5 5m-5 0l5 -5M1060 1197l5 5m-5 0l5 -5M1060 1201l6 6m-6 0l6 -6M1061 1248l5 5m-5 0l5 -5M1061 1245l6 6m-6 0l6 -6M1062 1199l5 5m-5 0l5 -5M1062 1165l5 5m-5 0l5 -5M1063 1203l5 5m-5 0l5 -5M1063 1215l5 5m-5 0l5 -5M1063 1158l6 6m-6 0l6 -6M1064 1145l5 5m-5 0l5 -5M1064 1129l6 6m-6 0l6 -6M1065 1178l5 5m-5 0l5 -5M1065 1136l5 5m-5 0l5 -5M1066 1229l5 5m-5 0l5 -5M1066 1217l5 5m-5 0l5 -5M1066 1234l6 6m-6 0l6 -6M1067 1239l5 5m-5 0l5 -5M1067 1222l6 6m-6 0l6 -6M1068 1177l5 5m-5 0l5 -5M1068 1215l5 5m-5 0l5 -5M1069 1179l5 5m-5 0l5 -5M1069 1183l5 5m-5 0l5 -5M1069 1172l6 6m-6 0l6 -6M1070 1265l5 5m-5 0l5 -5M1070 1283l6 6m-6 0l6 -6M1071 1214l5 5m-5 0l5 -5M1071 1233l5 5m-5 0l5 -5M1072 1174l5 5m-5 0l5 -5M1072 1168l5 5m-5 0l5 -5M1072 1242l6 6m-6 0l6 -6M1073 1234l5 5m-5 0l5 -5M1073 1263l6 6m-6 0l6 -6M1074 1158l5 5m-5 0l5 -5M1074 1235l5 5m-5 0l5 -5M1075 1199l5 5m-5 0l5 -5M1075 1213l5 5m-5 0l5 -5M1075 1231l6 6m-6 0l6 -6M1076 1242l5 5m-5 0l5 -5M1076 1195l6 6m-6 0l6 -6M1077 1160l5 5m-5 0l5 -5M1077 1195l6 6m-6 0l6 -6M1078 1211l5 5m-5 0l5 -5M1078 1190l5 5m-5 0l5 -5M1078 1182l6 6m-6 0l6 -6M1079 1151l5 5m-5 0l5 -5M1079 1238l6 6m-6 0l6 -6M1080 1183l5 5m-5 0l5 -5M1080 1253l6 6m-6 0l6 -6M1081 1269l5 5m-5 0l5 -5M1081 1170l5 5m-5 0l5 -5M1081 1153l6 6m-6 0l6 -6M1082 1256l5 5m-5 0l5 -5M1082 1226l6 6m-6 0l6 -6M1083 1228l5 5m-5 0l5 -5M1083 1196l6 6m-6 0l6 -6M1084 1232l5 5m-5 0l5 -5M1084 1234l5 5m-5 0l5 -5M1084 1168l6 6m-6 0l6 -6M1085 1256l5 5m-5 0l5 -5M1085 1254l6 6m-6 0l6 -6M1086 1175l5 5m-5 0l5 -5M1086 1227l6 6m-6 0l6 -6M1087 1161l5 5m-5 0l5 -5M1087 1137l5 5m-5 0l5 -5M1087 1171l6 6m-6 0l6 -6M1088 1179l5 5m-5 0l5 -5M1088 1206l6 6m-6 0l6 -6M1089 1195l5 5m-5 0l5 -5M1089 1205l6 6m-6 0l6 -6M1090 1208l5 5m-5 0l5 -5M1090 1183l5 5m-5 0l5 -5M1090 1197l6 6m-6 0l6 -6M1091 1221l5 5m-5 0l5 -5M1091 1120l6 6m-6 0l6 -6M1092 1154l5 5m-5 0l5 -5M1092 1179l6 6m-6 0l6 -6M1093 1248l5 5m-5 0l5 -5M1093 1260l5 5m-5 0l5 -5M1093 1236l6 6m-6 0l6 -6M1094 1182l5 5m-5 0l5 -5M1094 1231l6 6m-6 0l6 -6M1095 1156l5 5m-5 0l5 -5M1095 1183l6 6m-6 0l6 -6M1096 1199l5 5m-5 0l5 -5M1096 1227l5 5m-5 0l5 -5M1096 1167l6 6m-6 0l6 -6M1097 1292l5 5m-5 0l5 -5M1097 1216l6 6m-6 0l6 -6M1098 1234l5 5m-5 0l5 -5M1098 1206l6 6m-6 0l6 -6M1099 1198l5 5m-5 0l5 -5M1099 1186l5 5m-5 0l5 -5M1099 1201l6 6m-6 0l6 -6M1100 1187l5 5m-5 0l5 -5M1100 1200l6 6m-6 0l6 -6M1101 1142l5 5m-5 0l5 -5M1101 1261l6 6m-6 0l6 -6M1102 1220l5 5m-5 0l5 -5M1102 1274l5 5m-5 0l5 -5M1102 1227l6 6m-6 0l6 -6M1103 1184l5 5m-5 0l5 -5M1103 1193l6 6m-6 0l6 -6M1104 1241l5 5m-5 0l5 -5M1104 1169l6 6m-6 0l6 -6M1105 1196l5 5m-5 0l5 -5M1105 1273l5 5m-5 0l5 -5M1105 1234l6 6m-6 0l6 -6M1106 1206l5 5m-5 0l5 -5M1106 1236l6 6m-6 0l6 -6M1107 1199l5 5m-5 0l5 -5M1107 1213l6 6m-6 0l6 -6M1108 1194l5 5m-5 0l5 -5M1108 1223l5 5m-5 0l5 -5M1108 1206l6 6m-6 0l6 -6M1109 1227l5 5m-5 0l5 -5M1109 1179l6 6m-6 0l6 -6M1110 1161l5 5m-5 0l5 -5M1110 1174l6 6m-6 0l6 -6M1111 1231l5 5m-5 0l5 -5M1111 1208l5 5m-5 0l5 -5M1111 1255l6 6m-6 0l6 -6M1112 1274l5 5m-5 0l5 -5M1112 1132l6 6m-6 0l6 -6M1113 1192l5 5m-5 0l5 -5M1113 1197l6 6m-6 0l6 -6M1114 1257l5 5m-5 0l5 -5M1114 1119l5 5m-5 0l5 -5M1114 1236l6 6m-6 0l6 -6M1115 1195l5 5m-5 0l5 -5M1115 1234l6 6m-6 0l6 -6M1116 1224l5 5m-5 0l5 -5M1116 1195l6 6m-6 0l6 -6M1117 1244l5 5m-5 0l5 -5M1117 1236l5 5m-5 0l5 -5M1117 1253l6 6m-6 0l6 -6M1118 1169l5 5m-5 0l5 -5M1118 1141l6 6m-6 0l6 -6M1119 1246l5 5m-5 0l5 -5M1119 1233l6 6m-6 0l6 -6M1120 1141l5 5m-5 0l5 -5M1120 1244l5 5m-5 0l5 -5M1120 1240l6 6m-6 0l6 -6M1121 1153l5 5m-5 0l5 -5M1121 1246l6 6m-6 0l6 -6M1122 1252l5 5m-5 0l5 -5M1122 1200l6 6m-6 0l6 -6M1123 1134l5 5m-5 0l5 -5M1123 1251l5 5m-5 0l5 -5M1123 1273l6 6m-6 0l6 -6M1124 1184l5 5m-5 0l5 -5M1124 1171l6 6m-6 0l6 -6M1125 1147l5 5m-5 0l5 -5M1125 1207l6 6m-6 0l6 -6M1126 1251l5 5m-5 0l5 -5M1126 1218l5 5m-5 0l5 -5M1126 1154l6 6m-6 0l6 -6M1127 1243l5 5m-5 0l5 -5M1127 1146l6 6m-6 0l6 -6M1128 1207l5 5m-5 0l5 -5M1128 1224l6 6m-6 0l6 -6M1129 1223l5 5m-5 0l5 -5M1129 1237l5 5m-5 0l5 -5M1129 1274l6 6m-6 0l6 -6M1130 1170l5 5m-5 0l5 -5M1130 1173l6 6m-6 0l6 -6M1131 1208l5 5m-5 0l5 -5M1131 1270l6 6m-6 0l6 -6M1132 1221l5 5m-5 0l5 -5M1132 1235l5 5m-5 0l5 -5M1132 1189l6 6m-6 0l6 -6M1133 1199l5 5m-5 0l5 -5M1133 1219l6 6m-6 0l6 -6M1134 1164l5 5m-5 0l5 -5M1134 1234l6 6m-6 0l6 -6M1135 1231l5 5m-5 0l5 -5M1135 1255l5 5m-5 0l5 -5M1135 1208l6 6m-6 0l6 -6M1136 1246l5 5m-5 0l5 -5M1136 1248l6 6m-6 0l6 -6M1137 1210l5 5m-5 0l5 -5M1137 1215l6 6m-6 0l6 -6M1138 1222l5 5m-5 0l5 -5M1138 1241l5 5m-5 0l5 -5M1138 1213l6 6m-6 0l6 -6M1139 1195l5 5m-5 0l5 -5M1139 1197l6 6m-6 0l6 -6M1140 1228l5 5m-5 0l5 -5M1140 1223l6 6m-6 0l6 -6M1141 1251l5 5m-5 0l5 -5M1141 1198l5 5m-5 0l5 -5M1142 1199l5 5m-5 0l5 -5M1142 1242l5 5m-5 0l5 -5M1142 1358l6 6m-6 0l6 -6M1143 1144l5 5m-5 0l5 -5M1143 1201l6 6m-6 0l6 -6M1144 1215l5 5m-5 0l5 -5M1144 1248l5 5m-5 0l5 -5M1145 1292l5 5m-5 0l5 -5M1145 1309l5 5m-5 0l5 -5M1145 1229l6 6m-6 0l6 -6M1146 1252l5 5m-5 0l5 -5M1146 1179l6 6m-6 0l6 -6M1147 1206l5 5m-5 0l5 -5M1147 1195l5 5m-5 0l5 -5M1148 1260l5 5m-5 0l5 -5M1148 1225l5 5m-5 0l5 -5M1148 1159l6 6m-6 0l6 -6M1149 1244l5 5m-5 0l5 -5M1149 1133l6 6m-6 0l6 -6M1150 1200l5 5m-5 0l5 -5M1150 1287l5 5m-5 0l5 -5M1151 1182l5 5m-5 0l5 -5M1151 1146l5 5m-5 0l5 -5M1151 1148l6 6m-6 0l6 -6M1152 1262l5 5m-5 0l5 -5M1152 1197l6 6m-6 0l6 -6M1153 1129l5 5m-5 0l5 -5M1153 1151l5 5m-5 0l5 -5M1154 1147l5 5m-5 0l5 -5M1154 1140l5 5m-5 0l5 -5M1154 1178l6 6m-6 0l6 -6M1155 1143l5 5m-5 0l5 -5M1155 1137l6 6m-6 0l6 -6M1156 1192l5 5m-5 0l5 -5M1156 1280l5 5m-5 0l5 -5M1157 1142l5 5m-5 0l5 -5M1157 1203l5 5m-5 0l5 -5M1157 1135l6 6m-6 0l6 -6M1158 1190l5 5m-5 0l5 -5M1158 1211l6 6m-6 0l6 -6M1159 1211l5 5m-5 0l5 -5M1159 1214l6 6m-6 0l6 -6M1160 1193l5 5m-5 0l5 -5M1160 1214l5 5m-5 0l5 -5M1160 1249l6 6m-6 0l6 -6M1161 1193l5 5m-5 0l5 -5M1161 1120l6 6m-6 0l6 -6M1162 1154l5 5m-5 0l5 -5M1162 1257l6 6m-6 0l6 -6M1163 1176l5 5m-5 0l5 -5M1163 1222l5 5m-5 0l5 -5M1163 1184l6 6m-6 0l6 -6M1164 1190l5 5m-5 0l5 -5M1164 1164l6 6m-6 0l6 -6M1165 1206l5 5m-5 0l5 -5M1165 1231l6 6m-6 0l6 -6M1166 1244l5 5m-5 0l5 -5M1166 1214l5 5m-5 0l5 -5M1166 1191l6 6m-6 0l6 -6M1167 1219l5 5m-5 0l5 -5M1167 1251l6 6m-6 0l6 -6M1168 1153l5 5m-5 0l5 -5M1168 1211l6 6m-6 0l6 -6M1169 1179l5 5m-5 0l5 -5M1169 1275l5 5m-5 0l5 -5M1169 1171l6 6m-6 0l6 -6M1170 1216l5 5m-5 0l5 -5M1170 1161l6 6m-6 0l6 -6M1171 1199l5 5m-5 0l5 -5M1171 1223l6 6m-6 0l6 -6M1172 1235l5 5m-5 0l5 -5M1172 1160l5 5m-5 0l5 -5M1172 1167l6 6m-6 0l6 -6M1173 1210l5 5m-5 0l5 -5M1173 1218l6 6m-6 0l6 -6M1174 1301l5 5m-5 0l5 -5M1174 1236l6 6m-6 0l6 -6M1175 1278l5 5m-5 0l5 -5M1175 1201l5 5m-5 0l5 -5M1175 1151l6 6m-6 0l6 -6M1176 1270l5 5m-5 0l5 -5M1176 1211l6 6m-6 0l6 -6M1177 1218l5 5m-5 0l5 -5M1177 1225l6 6m-6 0l6 -6M1178 1245l5 5m-5 0l5 -5M1178 1283l5 5m-5 0l5 -5M1178 1194l6 6m-6 0l6 -6M1179 1175l5 5m-5 0l5 -5M1179 1215l6 6m-6 0l6 -6M1180 1208l5 5m-5 0l5 -5M1180 1250l6 6m-6 0l6 -6M1181 1269l5 5m-5 0l5 -5M1181 1286l5 5m-5 0l5 -5M1181 1127l6 6m-6 0l6 -6M1182 1224l5 5m-5 0l5 -5M1182 1255l6 6m-6 0l6 -6M1183 1210l5 5m-5 0l5 -5M1183 1195l6 6m-6 0l6 -6M1184 1186l5 5m-5 0l5 -5M1184 1224l5 5m-5 0l5 -5M1184 1179l6 6m-6 0l6 -6M1185 1203l5 5m-5 0l5 -5M1185 1176l6 6m-6 0l6 -6M1186 1178l5 5m-5 0l5 -5M1186 1163l6 6m-6 0l6 -6M1187 1248l5 5m-5 0l5 -5M1187 1228l5 5m-5 0l5 -5M1187 1227l6 6m-6 0l6 -6M1188 1173l5 5m-5 0l5 -5M1188 1257l6 6m-6 0l6 -6M1189 1154l5 5m-5 0l5 -5M1189 1239l6 6m-6 0l6 -6M1190 1196l5 5m-5 0l5 -5M1190 1181l5 5m-5 0l5 -5M1190 1170l6 6m-6 0l6 -6M1191 1214l5 5m-5 0l5 -5M1191 1246l6 6m-6 0l6 -6M1192 1183l5 5m-5 0l5 -5M1192 1150l6 6m-6 0l6 -6M1193 1200l5 5m-5 0l5 -5M1193 1261l5 5m-5 0l5 -5M1193 1234l6 6m-6 0l6 -6M1194 1219l5 5m-5 0l5 -5M1194 1226l6 6m-6 0l6 -6M1195 1190l5 5m-5 0l5 -5M1195 1231l6 6m-6 0l6 -6M1196 1164l5 5m-5 0l5 -5M1196 1283l5 5m-5 0l5 -5M1196 1232l6 6m-6 0l6 -6M1197 1222l5 5m-5 0l5 -5M1197 1128l6 6m-6 0l6 -6M1198 1183l5 5m-5 0l5 -5M1198 1185l6 6m-6 0l6 -6M1199 1112l5 5m-5 0l5 -5M1199 1217l5 5m-5 0l5 -5M1199 1219l6 6m-6 0l6 -6M1200 1232l5 5m-5 0l5 -5M1200 1220l6 6m-6 0l6 -6M1201 1210l5 5m-5 0l5 -5M1201 1183l6 6m-6 0l6 -6M1202 1227l5 5m-5 0l5 -5M1202 1178l5 5m-5 0l5 -5M1202 1184l6 6m-6 0l6 -6M1203 1168l5 5m-5 0l5 -5M1203 1177l6 6m-6 0l6 -6M1204 1157l5 5m-5 0l5 -5M1204 1261l6 6m-6 0l6 -6M1205 1197l5 5m-5 0l5 -5M1205 1161l5 5m-5 0l5 -5M1205 1248l6 6m-6 0l6 -6M1206 1191l5 5m-5 0l5 -5M1206 1198l6 6m-6 0l6 -6M1207 1278l5 5m-5 0l5 -5M1207 1252l6 6m-6 0l6 -6M1208 1153l5 5m-5 0l5 -5M1208 1239l5 5m-5 0l5 -5M1208 1230l6 6m-6 0l6 -6M1209 1207l5 5m-5 0l5 -5M1209 1286l6 6m-6 0l6 -6M1210 1284l5 5m-5 0l5 -5M1210 1243l6 6m-6 0l6 -6M1211 1195l5 5m-5 0l5 -5M1211 1253l5 5m-5 0l5 -5M1211 1239l6 6m-6 0l6 -6M1212 1262l5 5m-5 0l5 -5M1212 1212l6 6m-6 0l6 -6M1213 1195l5 5m-5 0l5 -5M1213 1273l6 6m-6 0l6 -6M1214 1214l5 5m-5 0l5 -5M1214 1204l5 5m-5 0l5 -5M1214 1183l6 6m-6 0l6 -6M1215 1247l5 5m-5 0l5 -5M1215 1160l6 6m-6 0l6 -6M1216 1184l5 5m-5 0l5 -5M1216 1287l6 6m-6 0l6 -6M1217 1202l5 5m-5 0l5 -5M1217 1271l5 5m-5 0l5 -5M1217 1172l6 6m-6 0l6 -6M1218 1229l5 5m-5 0l5 -5M1218 1171l6 6m-6 0l6 -6M1219 1285l5 5m-5 0l5 -5M1219 1165l6 6m-6 0l6 -6M1220 1224l5 5m-5 0l5 -5M1220 1146l5 5m-5 0l5 -5M1220 1195l6 6m-6 0l6 -6M1221 1264l5 5m-5 0l5 -5M1221 1242l6 6m-6 0l6 -6M1222 1222l5 5m-5 0l5 -5M1222 1211l6 6m-6 0l6 -6M1223 1213l5 5m-5 0l5 -5M1223 1204l5 5m-5 0l5 -5M1224 1242l5 5m-5 0l5 -5M1224 1248l5 5m-5 0l5 -5M1224 1230l6 6m-6 0l6 -6M1225 1131l5 5m-5 0l5 -5M1225 1131l6 6m-6 0l6 -6M1226 1149l5 5m-5 0l5 -5M1226 1206l5 5m-5 0l5 -5M1227 1251l5 5m-5 0l5 -5M1227 1201l5 5m-5 0l5 -5M1227 1210l6 6m-6 0l6 -6M1228 1184l5 5m-5 0l5 -5M1228 1191l6 6m-6 0l6 -6M1229 1231l5 5m-5 0l5 -5M1229 1220l5 5m-5 0l5 -5M1230 1189l5 5m-5 0l5 -5M1230 1168l5 5m-5 0l5 -5M1230 1231l6 6m-6 0l6 -6M1231 1211l5 5m-5 0l5 -5M1231 1183l6 6m-6 0l6 -6M1232 1177l5 5m-5 0l5 -5M1232 1234l5 5m-5 0l5 -5M1233 1199l5 5m-5 0l5 -5M1233 1188l5 5m-5 0l5 -5M1233 1195l6 6m-6 0l6 -6M1234 1172l5 5m-5 0l5 -5M1234 1130l6 6m-6 0l6 -6M1235 1193l5 5m-5 0l5 -5M1235 1191l5 5m-5 0l5 -5M1236 1189l5 5m-5 0l5 -5M1236 1191l5 5m-5 0l5 -5M1236 1228l6 6m-6 0l6 -6M1237 1249l5 5m-5 0l5 -5M1237 1142l6 6m-6 0l6 -6M1238 1200l5 5m-5 0l5 -5M1238 1263l5 5m-5 0l5 -5M1239 1305l5 5m-5 0l5 -5M1239 1224l5 5m-5 0l5 -5M1239 1138l6 6m-6 0l6 -6M1240 1211l5 5m-5 0l5 -5M1240 1165l6 6m-6 0l6 -6M1241 1164l5 5m-5 0l5 -5M1241 1298l6 6m-6 0l6 -6M1242 1275l5 5m-5 0l5 -5M1242 1256l5 5m-5 0l5 -5M1242 1266l6 6m-6 0l6 -6M1243 1263l5 5m-5 0l5 -5M1243 1209l6 6m-6 0l6 -6M1244 1193l5 5m-5 0l5 -5M1244 1160l6 6m-6 0l6 -6M1245 1197l5 5m-5 0l5 -5M1245 1240l5 5m-5 0l5 -5M1245 1184l6 6m-6 0l6 -6M1246 1264l5 5m-5 0l5 -5M1246 1163l6 6m-6 0l6 -6M1247 1249l5 5m-5 0l5 -5M1247 1181l6 6m-6 0l6 -6M1248 1288l5 5m-5 0l5 -5M1248 1194l5 5m-5 0l5 -5M1248 1165l6 6m-6 0l6 -6M1249 1216l5 5m-5 0l5 -5M1249 1241l6 6m-6 0l6 -6M1250 1172l5 5m-5 0l5 -5M1250 1248l6 6m-6 0l6 -6M1251 1223l5 5m-5 0l5 -5M1251 1197l5 5m-5 0l5 -5M1251 1222l6 6m-6 0l6 -6M1252 1218l5 5m-5 0l5 -5M1252 1191l6 6m-6 0l6 -6M1253 1237l5 5m-5 0l5 -5M1253 1236l6 6m-6 0l6 -6M1254 1218l5 5m-5 0l5 -5M1254 1255l5 5m-5 0l5 -5M1254 1252l6 6m-6 0l6 -6M1255 1206l5 5m-5 0l5 -5M1255 1225l6 6m-6 0l6 -6M1256 1103l5 5m-5 0l5 -5M1256 1197l6 6m-6 0l6 -6M1257 1216l5 5m-5 0l5 -5M1257 1211l5 5m-5 0l5 -5M1257 1210l6 6m-6 0l6 -6M1258 1182l5 5m-5 0l5 -5M1258 1156l6 6m-6 0l6 -6M1259 1202l5 5m-5 0l5 -5M1259 1128l6 6m-6 0l6 -6M1260 1065l5 5m-5 0l5 -5M1260 1126l5 5m-5 0l5 -5M1260 1186l6 6m-6 0l6 -6M1261 1198l5 5m-5 0l5 -5M1261 1171l6 6m-6 0l6 -6M1262 1213l5 5m-5 0l5 -5M1262 1209l6 6m-6 0l6 -6M1263 1182l5 5m-5 0l5 -5M1263 1215l5 5m-5 0l5 -5M1263 1190l6 6m-6 0l6 -6M1264 1217l5 5m-5 0l5 -5M1264 1227l6 6m-6 0l6 -6M1265 1149l5 5m-5 0l5 -5M1265 1238l6 6m-6 0l6 -6M1266 1209l5 5m-5 0l5 -5M1266 1239l5 5m-5 0l5 -5M1266 1202l6 6m-6 0l6 -6M1267 1177l5 5m-5 0l5 -5M1267 1227l6 6m-6 0l6 -6M1268 1205l5 5m-5 0l5 -5M1268 1291l6 6m-6 0l6 -6M1269 1217l5 5m-5 0l5 -5M1269 1247l5 5m-5 0l5 -5M1269 1154l6 6m-6 0l6 -6M1270 1193l5 5m-5 0l5 -5M1270 1254l6 6m-6 0l6 -6M1271 1217l5 5m-5 0l5 -5M1271 1196l6 6m-6 0l6 -6M1272 1199l5 5m-5 0l5 -5M1272 1248l5 5m-5 0l5 -5M1272 1240l6 6m-6 0l6 -6M1273 1236l5 5m-5 0l5 -5M1273 1194l6 6m-6 0l6 -6M1274 1206l5 5m-5 0l5 -5M1274 1193l6 6m-6 0l6 -6M1275 1210l5 5m-5 0l5 -5M1275 1206l5 5m-5 0l5 -5M1275 1260l6 6m-6 0l6 -6M1276 1281l5 5m-5 0l5 -5M1276 1195l6 6m-6 0l6 -6M1277 1204l5 5m-5 0l5 -5M1277 1212l6 6m-6 0l6 -6M1278 1183l5 5m-5 0l5 -5M1278 1324l5 5m-5 0l5 -5M1278 1171l6 6m-6 0l6 -6M1279 1235l5 5m-5 0l5 -5M1279 1243l6 6m-6 0l6 -6M1280 1164l5 5m-5 0l5 -5M1280 1212l6 6m-6 0l6 -6M1281 1165l5 5m-5 0l5 -5M1281 1204l5 5m-5 0l5 -5M1281 1158l6 6m-6 0l6 -6M1282 1199l5 5m-5 0l5 -5M1282 1284l6 6m-6 0l6 -6M1283 1169l5 5m-5 0l5 -5M1283 1210l6 6m-6 0l6 -6M1284 1135l5 5m-5 0l5 -5M1284 1222l5 5m-5 0l5 -5M1284 1183l6 6m-6 0l6 -6M1285 1214l5 5m-5 0l5 -5M1285 1175l6 6m-6 0l6 -6M1286 1234l5 5m-5 0l5 -5M1286 1214l6 6m-6 0l6 -6M1287 1194l5 5m-5 0l5 -5M1287 1222l5 5m-5 0l5 -5M1287 1227l6 6m-6 0l6 -6M1288 1166l5 5m-5 0l5 -5M1288 1264l6 6m-6 0l6 -6M1289 1156l5 5m-5 0l5 -5M1289 1265l6 6m-6 0l6 -6M1290 1201l5 5m-5 0l5 -5M1290 1176l5 5m-5 0l5 -5M1290 1259l6 6m-6 0l6 -6M1291 1239l5 5m-5 0l5 -5M1291 1182l6 6m-6 0l6 -6M1292 1217l5 5m-5 0l5 -5M1292 1255l6 6m-6 0l6 -6M1293 1152l5 5m-5 0l5 -5M1293 1187l5 5m-5 0l5 -5M1293 1202l6 6m-6 0l6 -6M1294 1199l5 5m-5 0l5 -5M1294 1243l6 6m-6 0l6 -6M1295 1198l5 5m-5 0l5 -5M1295 1237l6 6m-6 0l6 -6M1296 1168l5 5m-5 0l5 -5M1296 1176l5 5m-5 0l5 -5M1296 1176l6 6m-6 0l6 -6M1297 1226l5 5m-5 0l5 -5M1297 1137l6 6m-6 0l6 -6M1298 1163l5 5m-5 0l5 -5M1298 1228l6 6m-6 0l6 -6M1299 1344l5 5m-5 0l5 -5M1299 1214l5 5m-5 0l5 -5M1300 1335l5 5m-5 0l5 -5M1300 1221l5 5m-5 0l5 -5M1300 1164l6 6m-6 0l6 -6M1301 1160l5 5m-5 0l5 -5M1301 1200l6 6m-6 0l6 -6M1302 1223l5 5m-5 0l5 -5M1302 1269l5 5m-5 0l5 -5M1302 1265l6 6m-6 0l6 -6M1303 1231l5 5m-5 0l5 -5M1303 1234l6 6m-6 0l6 -6M1304 1231l5 5m-5 0l5 -5M1304 1191l6 6m-6 0l6 -6M1305 1217l5 5m-5 0l5 -5M1305 1264l5 5m-5 0l5 -5M1306 1242l5 5m-5 0l5 -5M1306 1197l5 5m-5 0l5 -5M1306 1158l6 6m-6 0l6 -6M1307 1227l5 5m-5 0l5 -5M1307 1229l6 6m-6 0l6 -6M1308 1173l5 5m-5 0l5 -5M1308 1173l5 5m-5 0l5 -5M1309 1112l5 5m-5 0l5 -5M1309 1258l5 5m-5 0l5 -5M1309 1225l6 6m-6 0l6 -6M1310 1187l5 5m-5 0l5 -5M1310 1265l6 6m-6 0l6 -6M1311 1230l5 5m-5 0l5 -5M1311 1232l5 5m-5 0l5 -5M1312 1214l5 5m-5 0l5 -5M1312 1220l5 5m-5 0l5 -5M1312 1200l6 6m-6 0l6 -6M1313 1253l5 5m-5 0l5 -5M1313 1248l6 6m-6 0l6 -6M1314 1255l5 5m-5 0l5 -5M1314 1101l5 5m-5 0l5 -5M1315 1199l5 5m-5 0l5 -5M1315 1222l5 5m-5 0l5 -5M1315 1310l6 6m-6 0l6 -6M1316 1195l5 5m-5 0l5 -5M1316 1208l6 6m-6 0l6 -6M1317 1252l5 5m-5 0l5 -5M1317 1196l5 5m-5 0l5 -5M1318 1228l5 5m-5 0l5 -5M1318 1194l5 5m-5 0l5 -5M1318 1241l6 6m-6 0l6 -6M1319 1253l5 5m-5 0l5 -5M1319 1245l6 6m-6 0l6 -6M1320 1276l5 5m-5 0l5 -5M1320 1172l5 5m-5 0l5 -5M1321 1191l5 5m-5 0l5 -5M1321 1224l5 5m-5 0l5 -5M1321 1222l6 6m-6 0l6 -6M1322 1272l5 5m-5 0l5 -5M1322 1178l6 6m-6 0l6 -6M1323 1265l5 5m-5 0l5 -5M1323 1229l6 6m-6 0l6 -6M1324 1169l5 5m-5 0l5 -5M1324 1218l5 5m-5 0l5 -5M1324 1229l6 6m-6 0l6 -6M1325 1242l5 5m-5 0l5 -5M1325 1256l6 6m-6 0l6 -6M1326 1164l5 5m-5 0l5 -5M1326 1181l6 6m-6 0l6 -6M1327 1230l5 5m-5 0l5 -5M1327 1192l5 5m-5 0l5 -5M1327 1179l6 6m-6 0l6 -6M1328 1254l5 5m-5 0l5 -5M1328 1179l6 6m-6 0l6 -6M1329 1208l5 5m-5 0l5 -5M1329 1193l6 6m-6 0l6 -6M1330 1209l5 5m-5 0l5 -5M1330 1208l5 5m-5 0l5 -5M1330 1255l6 6m-6 0l6 -6M1331 1254l5 5m-5 0l5 -5M1331 1268l6 6m-6 0l6 -6M1332 1187l5 5m-5 0l5 -5M1332 1176l6 6m-6 0l6 -6M1333 1290l5 5m-5 0l5 -5M1333 1249l5 5m-5 0l5 -5M1333 1198l6 6m-6 0l6 -6M1334 1164l5 5m-5 0l5 -5M1334 1167l6 6m-6 0l6 -6M1335 1236l5 5m-5 0l5 -5M1335 1199l6 6m-6 0l6 -6M1336 1230l5 5m-5 0l5 -5M1336 1264l5 5m-5 0l5 -5M1336 1145l6 6m-6 0l6 -6M1337 1276l5 5m-5 0l5 -5M1337 1350l6 6m-6 0l6 -6M1338 1226l5 5m-5 0l5 -5M1338 1311l6 6m-6 0l6 -6M1339 1291l5 5m-5 0l5 -5M1339 1320l5 5m-5 0l5 -5M1339 1241l6 6m-6 0l6 -6M1340 1194l5 5m-5 0l5 -5M1340 1282l6 6m-6 0l6 -6M1341 1209l5 5m-5 0l5 -5M1341 1215l6 6m-6 0l6 -6M1342 1259l5 5m-5 0l5 -5M1342 1157l5 5m-5 0l5 -5M1342 1197l6 6m-6 0l6 -6M1343 1199l5 5m-5 0l5 -5M1343 1301l6 6m-6 0l6 -6M1344 1200l5 5m-5 0l5 -5M1344 1171l6 6m-6 0l6 -6M1345 1228l5 5m-5 0l5 -5M1345 1168l5 5m-5 0l5 -5M1345 1263l6 6m-6 0l6 -6M1346 1164l5 5m-5 0l5 -5M1346 1233l6 6m-6 0l6 -6M1347 1163l5 5m-5 0l5 -5M1347 1184l6 6m-6 0l6 -6M1348 1162l5 5m-5 0l5 -5M1348 1281l5 5m-5 0l5 -5M1348 1177l6 6m-6 0l6 -6M1349 1164l5 5m-5 0l5 -5M1349 1166l6 6m-6 0l6 -6M1350 1235l5 5m-5 0l5 -5M1350 1287l6 6m-6 0l6 -6M1351 1227l5 5m-5 0l5 -5M1351 1184l5 5m-5 0l5 -5M1351 1207l6 6m-6 0l6 -6M1352 1227l5 5m-5 0l5 -5M1352 1211l6 6m-6 0l6 -6M1353 1281l5 5m-5 0l5 -5M1353 1257l6 6m-6 0l6 -6M1354 1166l5 5m-5 0l5 -5M1354 1185l5 5m-5 0l5 -5M1354 1205l6 6m-6 0l6 -6M1355 1217l5 5m-5 0l5 -5M1355 1185l6 6m-6 0l6 -6M1356 1178l5 5m-5 0l5 -5M1356 1169l6 6m-6 0l6 -6M1357 1224l5 5m-5 0l5 -5M1357 1156l5 5m-5 0l5 -5M1357 1273l6 6m-6 0l6 -6M1358 1251l5 5m-5 0l5 -5M1358 1174l6 6m-6 0l6 -6M1359 1207l5 5m-5 0l5 -5M1359 1242l6 6m-6 0l6 -6M1360 1212l5 5m-5 0l5 -5M1360 1166l5 5m-5 0l5 -5M1360 1156l6 6m-6 0l6 -6M1361 1196l5 5m-5 0l5 -5M1361 1224l6 6m-6 0l6 -6M1362 1267l5 5m-5 0l5 -5M1362 1155l6 6m-6 0l6 -6M1363 1185l5 5m-5 0l5 -5M1363 1218l5 5m-5 0l5 -5M1363 1248l6 6m-6 0l6 -6M1364 1221l5 5m-5 0l5 -5M1364 1247l6 6m-6 0l6 -6M1365 1255l5 5m-5 0l5 -5M1365 1265l6 6m-6 0l6 -6M1366 1301l5 5m-5 0l5 -5M1366 1151l5 5m-5 0l5 -5M1366 1189l6 6m-6 0l6 -6M1367 1239l5 5m-5 0l5 -5M1367 1277l6 6m-6 0l6 -6M1368 1235l5 5m-5 0l5 -5M1368 1225l6 6m-6 0l6 -6M1369 1159l5 5m-5 0l5 -5M1369 1176l5 5m-5 0l5 -5M1369 1271l6 6m-6 0l6 -6M1370 1237l5 5m-5 0l5 -5M1370 1240l6 6m-6 0l6 -6M1371 1294l5 5m-5 0l5 -5M1371 1295l6 6m-6 0l6 -6M1372 1228l5 5m-5 0l5 -5M1372 1217l5 5m-5 0l5 -5M1372 1189l6 6m-6 0l6 -6M1373 1262l5 5m-5 0l5 -5M1373 1224l6 6m-6 0l6 -6M1374 1182l5 5m-5 0l5 -5M1374 1269l6 6m-6 0l6 -6M1375 1266l5 5m-5 0l5 -5M1375 1246l5 5m-5 0l5 -5M1375 1215l6 6m-6 0l6 -6M1376 1269l5 5m-5 0l5 -5M1376 1305l6 6m-6 0l6 -6M1377 1153l5 5m-5 0l5 -5M1377 1273l6 6m-6 0l6 -6M1378 1176l5 5m-5 0l5 -5M1378 1290l5 5m-5 0l5 -5M1378 1353l6 6m-6 0l6 -6M1379 1307l6 6m-6 0l6 -6M1379 1220l6 6m-6 0l6 -6M1380 1183l5 5m-5 0l5 -5M1380 1160l6 6m-6 0l6 -6M1381 1310l5 5m-5 0l5 -5M1381 1191l5 5m-5 0l5 -5M1381 1212l6 6m-6 0l6 -6M1382 1217l5 5m-5 0l5 -5M1382 1278l6 6m-6 0l6 -6M1383 1209l5 5m-5 0l5 -5M1383 1172l6 6m-6 0l6 -6M1384 1145l5 5m-5 0l5 -5M1384 1215l5 5m-5 0l5 -5M1384 1257l6 6m-6 0l6 -6M1385 1187l5 5m-5 0l5 -5M1385 1185l6 6m-6 0l6 -6M1386 1277l5 5m-5 0l5 -5M1386 1237l6 6m-6 0l6 -6M1387 1203l5 5m-5 0l5 -5M1387 1191l5 5m-5 0l5 -5M1388 1203l5 5m-5 0l5 -5M1388 1162l5 5m-5 0l5 -5M1388 1252l6 6m-6 0l6 -6M1389 1165l5 5m-5 0l5 -5M1389 1221l6 6m-6 0l6 -6M1390 1217l5 5m-5 0l5 -5M1390 1224l5 5m-5 0l5 -5M1391 1247l5 5m-5 0l5 -5M1391 1204l5 5m-5 0l5 -5M1391 1236l6 6m-6 0l6 -6M1392 1254l5 5m-5 0l5 -5M1392 1219l6 6m-6 0l6 -6M1393 1245l5 5m-5 0l5 -5M1393 1232l5 5m-5 0l5 -5M1394 1273l5 5m-5 0l5 -5M1394 1218l5 5m-5 0l5 -5M1394 1226l6 6m-6 0l6 -6M1395 1234l5 5m-5 0l5 -5M1395 1231l6 6m-6 0l6 -6M1396 1239l5 5m-5 0l5 -5M1396 1198l5 5m-5 0l5 -5M1397 1246l5 5m-5 0l5 -5M1397 1210l5 5m-5 0l5 -5M1397 1259l6 6m-6 0l6 -6M1398 1231l5 5m-5 0l5 -5M1398 1254l6 6m-6 0l6 -6M1399 1244l5 5m-5 0l5 -5M1399 1183l5 5m-5 0l5 -5M1400 1169l5 5m-5 0l5 -5M1400 1239l5 5m-5 0l5 -5M1400 1246l6 6m-6 0l6 -6M1401 1225l5 5m-5 0l5 -5M1401 1240l6 6m-6 0l6 -6M1402 1190l5 5m-5 0l5 -5M1402 1262l5 5m-5 0l5 -5M1403 1257l5 5m-5 0l5 -5M1403 1198l5 5m-5 0l5 -5M1403 1275l6 6m-6 0l6 -6M1404 1226l5 5m-5 0l5 -5M1404 1205l6 6m-6 0l6 -6M1405 1219l5 5m-5 0l5 -5M1405 1282l6 6m-6 0l6 -6M1406 1170l5 5m-5 0l5 -5M1406 1208l5 5m-5 0l5 -5M1406 1220l6 6m-6 0l6 -6M1407 1199l5 5m-5 0l5 -5M1407 1272l6 6m-6 0l6 -6M1408 1244l5 5m-5 0l5 -5M1408 1187l6 6m-6 0l6 -6M1409 1229l5 5m-5 0l5 -5M1409 1187l5 5m-5 0l5 -5M1409 1216l6 6m-6 0l6 -6M1410 1217l5 5m-5 0l5 -5M1410 1229l6 6m-6 0l6 -6M1411 1254l5 5m-5 0l5 -5M1411 1202l6 6m-6 0l6 -6M1412 1185l5 5m-5 0l5 -5M1412 1287l5 5m-5 0l5 -5M1412 1290l6 6m-6 0l6 -6M1413 1188l5 5m-5 0l5 -5M1413 1236l6 6m-6 0l6 -6M1414 1219l5 5m-5 0l5 -5M1414 1223l6 6m-6 0l6 -6M1415 1256l5 5m-5 0l5 -5M1415 1205l5 5m-5 0l5 -5M1415 1252l6 6m-6 0l6 -6M1416 1298l5 5m-5 0l5 -5M1416 1194l6 6m-6 0l6 -6M1417 1187l5 5m-5 0l5 -5M1417 1304l5 5m-5 0l5 -5M1418 1312l5 5m-5 0l5 -5M1418 1268l5 5m-5 0l5 -5M1418 1248l6 6m-6 0l6 -6M1419 1261l5 5m-5 0l5 -5M1419 1245l6 6m-6 0l6 -6M1420 1267l5 5m-5 0l5 -5" stroke="#000" stroke-width="1" fill="none" shape-rendering="crispEdges"/>
</g>
<text x="202" y="1380.5" font-size="25" font-weight="bold" xml:space="preserve" style="white-space:pre">Max Smoothing Residual: _-2.605__1.767_-0.635  Sigma= 0.578ns</text>
<g clip-path="url(#c3)">
<circle cx="169.1" cy="1631.4" r="6"/>
<text transform="translate(168.3 1623.4) scale(1 1.055)" font-size="20" font-weight="bold" text-anchor="middle" fill="#ff0000">793.7</text>
<circle cx="223.3" cy="1661.8" r="6"/>
<text transform="translate(222.5 1653.8) scale(1 1.055)" font-size="20" font-weight="bold" text-anchor="middle" fill="#ff0000">309.1</text>
<circle cx="277.5" cy="1692" r="6"/>
<text transform="translate(276.7 1684) scale(1 1.055)" font-size="20" font-weight="bold" text-anchor="middle" fill="#ff0000">122.0</text>
<circle cx="331.7" cy="1717.2" r="6"/>
<text transform="translate(330.9 1709.2) scale(1 1.055)" font-size="20" font-weight="bold" text-anchor="middle" fill="#ff0000">56.4</text>
<circle cx="385.8" cy="1752.8" r="6"/>
<text transform="translate(385 1744.8) scale(1 1.055)" font-size="20" font-weight="bold" text-anchor="middle" fill="#ff0000">18.9</text>
<circle cx="440" cy="1790.2" r="6"/>
<text transform="translate(439.2 1782.2) scale(1 1.055)" font-size="20" font-weight="bold" text-anchor="middle" fill="#ff0000">6.0</text>
<circle cx="494.2" cy="1812.2" r="6"/>
<text transform="translate(493.4 1804.2) scale(1 1.055)" font-size="20" font-weight="bold" text-anchor="middle" fill="#ff0000">3.1</text>
<circle cx="548.4" cy="1826.3" r="6"/>
<text transform="translate(547.6 1818.3) scale(1 1.055)" font-size="20" font-weight="bold" text-anchor="middle" fill="#ff0000">2.0</text>
<circle cx="602.6" cy="1861.6" r="6"/>
<text transform="translate(601.8 1853.6) scale(1 1.055)" font-size="20" font-weight="bold" text-anchor="middle" fill="#ff0000">0.7</text>
<circle cx="656.8" cy="1892.5" r="6"/>
<text transform="translate(656 1884.5) scale(1 1.055)" font-size="20" font-weight="bold" text-anchor="middle" fill="#ff0000">0.3</text>
<circle cx="215.4" cy="1961.5" r="4.3"/>
<text transform="translate(215.4 1954) scale(1 1.055)" font-size="20" font-weight="bold" text-anchor="middle" fill="#ff0000">h/2</text>
<circle cx="269.6" cy="1961.5" r="4.3"/>
<text transform="translate(269.6 1954) scale(1 1.055)" font-size="20" font-weight="bold" text-anchor="middle" fill="#ff0000">h</text>
<circle cx="355.5" cy="1961.5" r="4.3"/>
<text transform="translate(355.5 1954) scale(1 1.055)" font-size="20" font-weight="bold" text-anchor="middle" fill="#ff0000">d/8</text>
<circle cx="409.7" cy="1961.5" r="4.3"/>
<text transform="translate(409.7 1954) scale(1 1.055)" font-size="20" font-weight="bold" text-anchor="middle" fill="#ff0000">d/4</text>
<circle cx="463.9" cy="1961.5" r="4.3"/>
<text transform="translate(463.9 1954) scale(1 1.055)" font-size="20" font-weight="bold" text-anchor="middle" fill="#ff0000">d/2</text>
<circle cx="518.1" cy="1961.5" r="4.3"/>
<text transform="translate(518.1 1954) scale(1 1.055)" font-size="20" font-weight="bold" text-anchor="middle" fill="#ff0000">day</text>
<circle cx="604" cy="1961.5" r="4.3"/>
<text transform="translate(604 1954) scale(1 1.055)" font-size="20" font-weight="bold" text-anchor="middle" fill="#ff0000">ddd</text>
<circle cx="670.2" cy="1961.5" r="4.3"/>
<text transform="translate(670.2 1954) scale(1 1.055)" font-size="20" font-weight="bold" text-anchor="middle" fill="#ff0000">wk</text>
</g>
<text x="214" y="1539" font-size="17.5" font-weight="bold"><tspan font-weight="normal" font-size="15.5">τ</tspan><tspan dx="2.2"> = 1000s</tspan></text>
<g clip-path="url(#c4)">
<circle cx="894.8" cy="1662.4" r="6.4"/>
<text transform="translate(894.5 1645.1) scale(1 1.055)" font-size="18" font-weight="bold" text-anchor="middle" fill="#ff0000">4.6</text>
<circle cx="944.8" cy="1681.3" r="6.4"/>
<text transform="translate(944.5 1664) scale(1 1.055)" font-size="18" font-weight="bold" text-anchor="middle" fill="#ff0000">3.6</text>
<circle cx="994.7" cy="1700.2" r="6.4"/>
<text transform="translate(994.4 1682.9) scale(1 1.055)" font-size="18" font-weight="bold" text-anchor="middle" fill="#ff0000">2.8</text>
<circle cx="1044.7" cy="1706" r="6.4"/>
<text transform="translate(1044.4 1688.7) scale(1 1.055)" font-size="18" font-weight="bold" text-anchor="middle" fill="#ff0000">2.6</text>
<circle cx="1094.7" cy="1736.9" r="6.4"/>
<text transform="translate(1094.4 1719.6) scale(1 1.055)" font-size="18" font-weight="bold" text-anchor="middle" fill="#ff0000">1.7</text>
<circle cx="1144.7" cy="1772.7" r="6.4"/>
<text transform="translate(1144.4 1755.4) scale(1 1.055)" font-size="18" font-weight="bold" text-anchor="middle" fill="#ff0000">1.1</text>
<circle cx="1194.6" cy="1770.8" r="6.4"/>
<text transform="translate(1194.3 1753.5) scale(1 1.055)" font-size="18" font-weight="bold" text-anchor="middle" fill="#ff0000">1.1</text>
<circle cx="1244.6" cy="1751" r="6.4"/>
<text transform="translate(1244.3 1733.7) scale(1 1.055)" font-size="18" font-weight="bold" text-anchor="middle" fill="#ff0000">1.5</text>
<circle cx="1294.6" cy="1781" r="6.4"/>
<text transform="translate(1294.3 1763.7) scale(1 1.055)" font-size="18" font-weight="bold" text-anchor="middle" fill="#ff0000">1.0</text>
<circle cx="1344.5" cy="1800.8" r="6.4"/>
<text transform="translate(1344.2 1783.5) scale(1 1.055)" font-size="18" font-weight="bold" text-anchor="middle" fill="#ff0000">0.8</text>
<circle cx="937.6" cy="1959.8" r="6.2"/>
<text transform="translate(937.6 1942.5) scale(1 1.055)" font-size="20" font-weight="bold" text-anchor="middle" fill="#ff0000">h/2</text>
<circle cx="987.5" cy="1959.8" r="6.2"/>
<text transform="translate(987.5 1942.5) scale(1 1.055)" font-size="20" font-weight="bold" text-anchor="middle" fill="#ff0000">h</text>
<circle cx="1066.7" cy="1959.8" r="6.2"/>
<text transform="translate(1066.7 1942.5) scale(1 1.055)" font-size="20" font-weight="bold" text-anchor="middle" fill="#ff0000">d/8</text>
<circle cx="1116.7" cy="1959.8" r="6.2"/>
<text transform="translate(1116.7 1942.5) scale(1 1.055)" font-size="20" font-weight="bold" text-anchor="middle" fill="#ff0000">d/4</text>
<circle cx="1166.7" cy="1959.8" r="6.2"/>
<text transform="translate(1166.7 1942.5) scale(1 1.055)" font-size="20" font-weight="bold" text-anchor="middle" fill="#ff0000">d/2</text>
<circle cx="1216.7" cy="1959.8" r="6.2"/>
<text transform="translate(1216.7 1942.5) scale(1 1.055)" font-size="20" font-weight="bold" text-anchor="middle" fill="#ff0000">day</text>
<circle cx="1295.9" cy="1959.8" r="6.2"/>
<text transform="translate(1295.9 1942.5) scale(1 1.055)" font-size="20" font-weight="bold" text-anchor="middle" fill="#ff0000">ddd</text>
<circle cx="1356.9" cy="1959.8" r="6.2"/>
<text transform="translate(1356.9 1942.5) scale(1 1.055)" font-size="20" font-weight="bold" text-anchor="middle" fill="#ff0000">wk</text>
</g>
</svg></body></html>
